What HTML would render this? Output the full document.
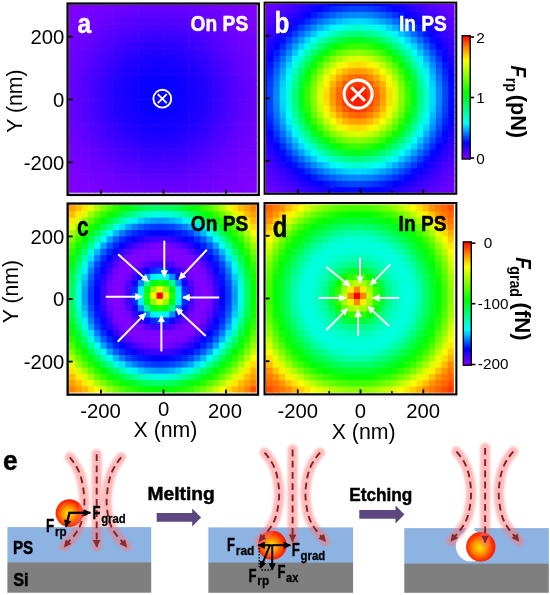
<!DOCTYPE html>
<html><head><meta charset="utf-8"><title>Figure</title><style>html,body{margin:0;padding:0;background:#fff}svg{display:block}</style></head><body>
<svg width="550" height="595" viewBox="0 0 550 595" font-family="'Liberation Sans', sans-serif">
<defs>
<linearGradient id="cb" x1="0" y1="1" x2="0" y2="0"><stop offset="0" stop-color="#8200ff"/><stop offset="0.13" stop-color="#0000ff"/><stop offset="0.29" stop-color="#00ffff"/><stop offset="0.53" stop-color="#00ff00"/><stop offset="0.8" stop-color="#ffff00"/><stop offset="0.9" stop-color="#ff8800"/><stop offset="1.0" stop-color="#ff0000"/></linearGradient>
<radialGradient id="ball" cx="0.47" cy="0.52" r="0.53"><stop offset="0" stop-color="#ffe000"/><stop offset="0.3" stop-color="#ffb400"/><stop offset="0.6" stop-color="#ff6600"/><stop offset="0.85" stop-color="#ff2a00"/><stop offset="1" stop-color="#ff1800"/></radialGradient>
<filter id="blur" x="-30%" y="-30%" width="160%" height="160%"><feGaussianBlur stdDeviation="1.2"/></filter>
<marker id="mw" viewBox="0 0 10 10" refX="9" refY="5" markerWidth="7.5" markerHeight="7.5" markerUnits="userSpaceOnUse" orient="auto"><path d="M0,0 L10,5 L0,10 z" fill="#fff"/></marker>
<marker id="mk" viewBox="0 0 10 10" refX="9" refY="5" markerWidth="7.8" markerHeight="7.4" markerUnits="userSpaceOnUse" orient="auto"><path d="M0,0 L10,5 L0,10 z" fill="#000"/></marker>
<marker id="mr" viewBox="0 0 10 10" refX="9" refY="5" markerWidth="8.5" markerHeight="7.6" markerUnits="userSpaceOnUse" orient="auto"><path d="M0,0 L10,5 L0,10 z" fill="#8a2a2e"/></marker>
</defs>
<rect width="550" height="595" fill="#fff"/>
<clipPath id="cpa"><rect x="69.1" y="5.05" width="187.78" height="187.82"/></clipPath>
<g clip-path="url(#cpa)"><g transform="translate(156.88,92.88) scale(6.25)">
<rect x="-16" y="-16" width="2.1" height="1.1" fill="#8200ff"/>
<rect x="-14" y="-16" width="1.1" height="1.1" fill="#8100ff"/>
<rect x="-13" y="-16" width="1.1" height="1.1" fill="#7f00ff"/>
<rect x="-12" y="-16" width="1.1" height="1.1" fill="#7c00ff"/>
<rect x="-11" y="-16" width="1.1" height="1.1" fill="#7a00ff"/>
<rect x="-10" y="-16" width="1.1" height="1.1" fill="#7800ff"/>
<rect x="-9" y="-16" width="1.1" height="1.1" fill="#7600ff"/>
<rect x="-8" y="-16" width="1.1" height="1.1" fill="#7400ff"/>
<rect x="-7" y="-16" width="1.1" height="1.1" fill="#7100ff"/>
<rect x="-6" y="-16" width="1.1" height="1.1" fill="#6f00ff"/>
<rect x="-5" y="-16" width="1.1" height="1.1" fill="#6e00ff"/>
<rect x="-4" y="-16" width="1.1" height="1.1" fill="#6c00ff"/>
<rect x="-3" y="-16" width="1.1" height="1.1" fill="#6b00ff"/>
<rect x="-2" y="-16" width="1.1" height="1.1" fill="#6a00ff"/>
<rect x="-1" y="-16" width="3.1" height="1.1" fill="#6900ff"/>
<rect x="2" y="-16" width="1.1" height="1.1" fill="#6a00ff"/>
<rect x="3" y="-16" width="1.1" height="1.1" fill="#6b00ff"/>
<rect x="4" y="-16" width="1.1" height="1.1" fill="#6c00ff"/>
<rect x="5" y="-16" width="1.1" height="1.1" fill="#6e00ff"/>
<rect x="6" y="-16" width="1.1" height="1.1" fill="#6f00ff"/>
<rect x="7" y="-16" width="1.1" height="1.1" fill="#7100ff"/>
<rect x="8" y="-16" width="1.1" height="1.1" fill="#7400ff"/>
<rect x="9" y="-16" width="1.1" height="1.1" fill="#7600ff"/>
<rect x="10" y="-16" width="1.1" height="1.1" fill="#7800ff"/>
<rect x="11" y="-16" width="1.1" height="1.1" fill="#7a00ff"/>
<rect x="12" y="-16" width="1.1" height="1.1" fill="#7c00ff"/>
<rect x="13" y="-16" width="1.1" height="1.1" fill="#7f00ff"/>
<rect x="14" y="-16" width="1.1" height="1.1" fill="#8100ff"/>
<rect x="15" y="-16" width="2.1" height="1.1" fill="#8200ff"/>
<rect x="-16" y="-15" width="2.1" height="1.1" fill="#8200ff"/>
<rect x="-14" y="-15" width="1.1" height="1.1" fill="#8100ff"/>
<rect x="-13" y="-15" width="1.1" height="1.1" fill="#7f00ff"/>
<rect x="-12" y="-15" width="1.1" height="1.1" fill="#7c00ff"/>
<rect x="-11" y="-15" width="1.1" height="1.1" fill="#7a00ff"/>
<rect x="-10" y="-15" width="1.1" height="1.1" fill="#7800ff"/>
<rect x="-9" y="-15" width="1.1" height="1.1" fill="#7600ff"/>
<rect x="-8" y="-15" width="1.1" height="1.1" fill="#7400ff"/>
<rect x="-7" y="-15" width="1.1" height="1.1" fill="#7100ff"/>
<rect x="-6" y="-15" width="1.1" height="1.1" fill="#6f00ff"/>
<rect x="-5" y="-15" width="1.1" height="1.1" fill="#6e00ff"/>
<rect x="-4" y="-15" width="1.1" height="1.1" fill="#6c00ff"/>
<rect x="-3" y="-15" width="1.1" height="1.1" fill="#6b00ff"/>
<rect x="-2" y="-15" width="1.1" height="1.1" fill="#6a00ff"/>
<rect x="-1" y="-15" width="3.1" height="1.1" fill="#6900ff"/>
<rect x="2" y="-15" width="1.1" height="1.1" fill="#6a00ff"/>
<rect x="3" y="-15" width="1.1" height="1.1" fill="#6b00ff"/>
<rect x="4" y="-15" width="1.1" height="1.1" fill="#6c00ff"/>
<rect x="5" y="-15" width="1.1" height="1.1" fill="#6e00ff"/>
<rect x="6" y="-15" width="1.1" height="1.1" fill="#6f00ff"/>
<rect x="7" y="-15" width="1.1" height="1.1" fill="#7100ff"/>
<rect x="8" y="-15" width="1.1" height="1.1" fill="#7400ff"/>
<rect x="9" y="-15" width="1.1" height="1.1" fill="#7600ff"/>
<rect x="10" y="-15" width="1.1" height="1.1" fill="#7800ff"/>
<rect x="11" y="-15" width="1.1" height="1.1" fill="#7a00ff"/>
<rect x="12" y="-15" width="1.1" height="1.1" fill="#7c00ff"/>
<rect x="13" y="-15" width="1.1" height="1.1" fill="#7f00ff"/>
<rect x="14" y="-15" width="1.1" height="1.1" fill="#8100ff"/>
<rect x="15" y="-15" width="2.1" height="1.1" fill="#8200ff"/>
<rect x="-16" y="-14" width="2.1" height="1.1" fill="#8100ff"/>
<rect x="-14" y="-14" width="1.1" height="1.1" fill="#7f00ff"/>
<rect x="-13" y="-14" width="1.1" height="1.1" fill="#7c00ff"/>
<rect x="-12" y="-14" width="1.1" height="1.1" fill="#7a00ff"/>
<rect x="-11" y="-14" width="1.1" height="1.1" fill="#7800ff"/>
<rect x="-10" y="-14" width="1.1" height="1.1" fill="#7500ff"/>
<rect x="-9" y="-14" width="1.1" height="1.1" fill="#7200ff"/>
<rect x="-8" y="-14" width="1.1" height="1.1" fill="#6f00ff"/>
<rect x="-7" y="-14" width="1.1" height="1.1" fill="#6d00ff"/>
<rect x="-6" y="-14" width="1.1" height="1.1" fill="#6a00ff"/>
<rect x="-5" y="-14" width="1.1" height="1.1" fill="#6900ff"/>
<rect x="-4" y="-14" width="1.1" height="1.1" fill="#6700ff"/>
<rect x="-3" y="-14" width="1.1" height="1.1" fill="#6500ff"/>
<rect x="-2" y="-14" width="1.1" height="1.1" fill="#6400ff"/>
<rect x="-1" y="-14" width="3.1" height="1.1" fill="#6300ff"/>
<rect x="2" y="-14" width="1.1" height="1.1" fill="#6400ff"/>
<rect x="3" y="-14" width="1.1" height="1.1" fill="#6500ff"/>
<rect x="4" y="-14" width="1.1" height="1.1" fill="#6700ff"/>
<rect x="5" y="-14" width="1.1" height="1.1" fill="#6900ff"/>
<rect x="6" y="-14" width="1.1" height="1.1" fill="#6a00ff"/>
<rect x="7" y="-14" width="1.1" height="1.1" fill="#6d00ff"/>
<rect x="8" y="-14" width="1.1" height="1.1" fill="#6f00ff"/>
<rect x="9" y="-14" width="1.1" height="1.1" fill="#7200ff"/>
<rect x="10" y="-14" width="1.1" height="1.1" fill="#7500ff"/>
<rect x="11" y="-14" width="1.1" height="1.1" fill="#7800ff"/>
<rect x="12" y="-14" width="1.1" height="1.1" fill="#7a00ff"/>
<rect x="13" y="-14" width="1.1" height="1.1" fill="#7c00ff"/>
<rect x="14" y="-14" width="1.1" height="1.1" fill="#7f00ff"/>
<rect x="15" y="-14" width="2.1" height="1.1" fill="#8100ff"/>
<rect x="-16" y="-13" width="2.1" height="1.1" fill="#7f00ff"/>
<rect x="-14" y="-13" width="1.1" height="1.1" fill="#7c00ff"/>
<rect x="-13" y="-13" width="1.1" height="1.1" fill="#7a00ff"/>
<rect x="-12" y="-13" width="1.1" height="1.1" fill="#7700ff"/>
<rect x="-11" y="-13" width="1.1" height="1.1" fill="#7400ff"/>
<rect x="-10" y="-13" width="1.1" height="1.1" fill="#7100ff"/>
<rect x="-9" y="-13" width="1.1" height="1.1" fill="#6e00ff"/>
<rect x="-8" y="-13" width="1.1" height="1.1" fill="#6b00ff"/>
<rect x="-7" y="-13" width="1.1" height="1.1" fill="#6800ff"/>
<rect x="-6" y="-13" width="1.1" height="1.1" fill="#6500ff"/>
<rect x="-5" y="-13" width="1.1" height="1.1" fill="#6200ff"/>
<rect x="-4" y="-13" width="1.1" height="1.1" fill="#5f00ff"/>
<rect x="-3" y="-13" width="1.1" height="1.1" fill="#5d00ff"/>
<rect x="-2" y="-13" width="1.1" height="1.1" fill="#5b00ff"/>
<rect x="-1" y="-13" width="3.1" height="1.1" fill="#5a00ff"/>
<rect x="2" y="-13" width="1.1" height="1.1" fill="#5b00ff"/>
<rect x="3" y="-13" width="1.1" height="1.1" fill="#5d00ff"/>
<rect x="4" y="-13" width="1.1" height="1.1" fill="#5f00ff"/>
<rect x="5" y="-13" width="1.1" height="1.1" fill="#6200ff"/>
<rect x="6" y="-13" width="1.1" height="1.1" fill="#6500ff"/>
<rect x="7" y="-13" width="1.1" height="1.1" fill="#6800ff"/>
<rect x="8" y="-13" width="1.1" height="1.1" fill="#6b00ff"/>
<rect x="9" y="-13" width="1.1" height="1.1" fill="#6e00ff"/>
<rect x="10" y="-13" width="1.1" height="1.1" fill="#7100ff"/>
<rect x="11" y="-13" width="1.1" height="1.1" fill="#7400ff"/>
<rect x="12" y="-13" width="1.1" height="1.1" fill="#7700ff"/>
<rect x="13" y="-13" width="1.1" height="1.1" fill="#7a00ff"/>
<rect x="14" y="-13" width="1.1" height="1.1" fill="#7c00ff"/>
<rect x="15" y="-13" width="2.1" height="1.1" fill="#7f00ff"/>
<rect x="-16" y="-12" width="2.1" height="1.1" fill="#7c00ff"/>
<rect x="-14" y="-12" width="1.1" height="1.1" fill="#7a00ff"/>
<rect x="-13" y="-12" width="1.1" height="1.1" fill="#7700ff"/>
<rect x="-12" y="-12" width="1.1" height="1.1" fill="#7400ff"/>
<rect x="-11" y="-12" width="1.1" height="1.1" fill="#7000ff"/>
<rect x="-10" y="-12" width="1.1" height="1.1" fill="#6d00ff"/>
<rect x="-9" y="-12" width="1.1" height="1.1" fill="#6900ff"/>
<rect x="-8" y="-12" width="1.1" height="1.1" fill="#6600ff"/>
<rect x="-7" y="-12" width="1.1" height="1.1" fill="#6200ff"/>
<rect x="-6" y="-12" width="1.1" height="1.1" fill="#5e00ff"/>
<rect x="-5" y="-12" width="1.1" height="1.1" fill="#5a00ff"/>
<rect x="-4" y="-12" width="1.1" height="1.1" fill="#5700ff"/>
<rect x="-3" y="-12" width="1.1" height="1.1" fill="#5400ff"/>
<rect x="-2" y="-12" width="1.1" height="1.1" fill="#5300ff"/>
<rect x="-1" y="-12" width="1.1" height="1.1" fill="#5200ff"/>
<rect x="0" y="-12" width="1.1" height="1.1" fill="#5100ff"/>
<rect x="1" y="-12" width="1.1" height="1.1" fill="#5200ff"/>
<rect x="2" y="-12" width="1.1" height="1.1" fill="#5300ff"/>
<rect x="3" y="-12" width="1.1" height="1.1" fill="#5400ff"/>
<rect x="4" y="-12" width="1.1" height="1.1" fill="#5700ff"/>
<rect x="5" y="-12" width="1.1" height="1.1" fill="#5a00ff"/>
<rect x="6" y="-12" width="1.1" height="1.1" fill="#5e00ff"/>
<rect x="7" y="-12" width="1.1" height="1.1" fill="#6200ff"/>
<rect x="8" y="-12" width="1.1" height="1.1" fill="#6600ff"/>
<rect x="9" y="-12" width="1.1" height="1.1" fill="#6900ff"/>
<rect x="10" y="-12" width="1.1" height="1.1" fill="#6d00ff"/>
<rect x="11" y="-12" width="1.1" height="1.1" fill="#7000ff"/>
<rect x="12" y="-12" width="1.1" height="1.1" fill="#7400ff"/>
<rect x="13" y="-12" width="1.1" height="1.1" fill="#7700ff"/>
<rect x="14" y="-12" width="1.1" height="1.1" fill="#7a00ff"/>
<rect x="15" y="-12" width="2.1" height="1.1" fill="#7c00ff"/>
<rect x="-16" y="-11" width="2.1" height="1.1" fill="#7a00ff"/>
<rect x="-14" y="-11" width="1.1" height="1.1" fill="#7800ff"/>
<rect x="-13" y="-11" width="1.1" height="1.1" fill="#7400ff"/>
<rect x="-12" y="-11" width="1.1" height="1.1" fill="#7000ff"/>
<rect x="-11" y="-11" width="1.1" height="1.1" fill="#6c00ff"/>
<rect x="-10" y="-11" width="1.1" height="1.1" fill="#6900ff"/>
<rect x="-9" y="-11" width="1.1" height="1.1" fill="#6500ff"/>
<rect x="-8" y="-11" width="1.1" height="1.1" fill="#5f00ff"/>
<rect x="-7" y="-11" width="1.1" height="1.1" fill="#5a00ff"/>
<rect x="-6" y="-11" width="1.1" height="1.1" fill="#5600ff"/>
<rect x="-5" y="-11" width="1.1" height="1.1" fill="#5200ff"/>
<rect x="-4" y="-11" width="1.1" height="1.1" fill="#4f00ff"/>
<rect x="-3" y="-11" width="1.1" height="1.1" fill="#4c00ff"/>
<rect x="-2" y="-11" width="1.1" height="1.1" fill="#4a00ff"/>
<rect x="-1" y="-11" width="1.1" height="1.1" fill="#4900ff"/>
<rect x="0" y="-11" width="1.1" height="1.1" fill="#4800ff"/>
<rect x="1" y="-11" width="1.1" height="1.1" fill="#4900ff"/>
<rect x="2" y="-11" width="1.1" height="1.1" fill="#4a00ff"/>
<rect x="3" y="-11" width="1.1" height="1.1" fill="#4c00ff"/>
<rect x="4" y="-11" width="1.1" height="1.1" fill="#4f00ff"/>
<rect x="5" y="-11" width="1.1" height="1.1" fill="#5200ff"/>
<rect x="6" y="-11" width="1.1" height="1.1" fill="#5600ff"/>
<rect x="7" y="-11" width="1.1" height="1.1" fill="#5a00ff"/>
<rect x="8" y="-11" width="1.1" height="1.1" fill="#5f00ff"/>
<rect x="9" y="-11" width="1.1" height="1.1" fill="#6500ff"/>
<rect x="10" y="-11" width="1.1" height="1.1" fill="#6900ff"/>
<rect x="11" y="-11" width="1.1" height="1.1" fill="#6c00ff"/>
<rect x="12" y="-11" width="1.1" height="1.1" fill="#7000ff"/>
<rect x="13" y="-11" width="1.1" height="1.1" fill="#7400ff"/>
<rect x="14" y="-11" width="1.1" height="1.1" fill="#7800ff"/>
<rect x="15" y="-11" width="2.1" height="1.1" fill="#7a00ff"/>
<rect x="-16" y="-10" width="2.1" height="1.1" fill="#7800ff"/>
<rect x="-14" y="-10" width="1.1" height="1.1" fill="#7500ff"/>
<rect x="-13" y="-10" width="1.1" height="1.1" fill="#7100ff"/>
<rect x="-12" y="-10" width="1.1" height="1.1" fill="#6d00ff"/>
<rect x="-11" y="-10" width="1.1" height="1.1" fill="#6900ff"/>
<rect x="-10" y="-10" width="1.1" height="1.1" fill="#6400ff"/>
<rect x="-9" y="-10" width="1.1" height="1.1" fill="#5e00ff"/>
<rect x="-8" y="-10" width="1.1" height="1.1" fill="#5800ff"/>
<rect x="-7" y="-10" width="1.1" height="1.1" fill="#5300ff"/>
<rect x="-6" y="-10" width="1.1" height="1.1" fill="#4e00ff"/>
<rect x="-5" y="-10" width="1.1" height="1.1" fill="#4a00ff"/>
<rect x="-4" y="-10" width="1.1" height="1.1" fill="#4600ff"/>
<rect x="-3" y="-10" width="1.1" height="1.1" fill="#4200ff"/>
<rect x="-2" y="-10" width="1.1" height="1.1" fill="#4000ff"/>
<rect x="-1" y="-10" width="3.1" height="1.1" fill="#3e00ff"/>
<rect x="2" y="-10" width="1.1" height="1.1" fill="#4000ff"/>
<rect x="3" y="-10" width="1.1" height="1.1" fill="#4200ff"/>
<rect x="4" y="-10" width="1.1" height="1.1" fill="#4600ff"/>
<rect x="5" y="-10" width="1.1" height="1.1" fill="#4a00ff"/>
<rect x="6" y="-10" width="1.1" height="1.1" fill="#4e00ff"/>
<rect x="7" y="-10" width="1.1" height="1.1" fill="#5300ff"/>
<rect x="8" y="-10" width="1.1" height="1.1" fill="#5800ff"/>
<rect x="9" y="-10" width="1.1" height="1.1" fill="#5e00ff"/>
<rect x="10" y="-10" width="1.1" height="1.1" fill="#6400ff"/>
<rect x="11" y="-10" width="1.1" height="1.1" fill="#6900ff"/>
<rect x="12" y="-10" width="1.1" height="1.1" fill="#6d00ff"/>
<rect x="13" y="-10" width="1.1" height="1.1" fill="#7100ff"/>
<rect x="14" y="-10" width="1.1" height="1.1" fill="#7500ff"/>
<rect x="15" y="-10" width="2.1" height="1.1" fill="#7800ff"/>
<rect x="-16" y="-9" width="2.1" height="1.1" fill="#7600ff"/>
<rect x="-14" y="-9" width="1.1" height="1.1" fill="#7200ff"/>
<rect x="-13" y="-9" width="1.1" height="1.1" fill="#6e00ff"/>
<rect x="-12" y="-9" width="1.1" height="1.1" fill="#6900ff"/>
<rect x="-11" y="-9" width="1.1" height="1.1" fill="#6500ff"/>
<rect x="-10" y="-9" width="1.1" height="1.1" fill="#5e00ff"/>
<rect x="-9" y="-9" width="1.1" height="1.1" fill="#5800ff"/>
<rect x="-8" y="-9" width="1.1" height="1.1" fill="#5200ff"/>
<rect x="-7" y="-9" width="1.1" height="1.1" fill="#4c00ff"/>
<rect x="-6" y="-9" width="1.1" height="1.1" fill="#4600ff"/>
<rect x="-5" y="-9" width="1.1" height="1.1" fill="#4100ff"/>
<rect x="-4" y="-9" width="1.1" height="1.1" fill="#3c00ff"/>
<rect x="-3" y="-9" width="1.1" height="1.1" fill="#3800ff"/>
<rect x="-2" y="-9" width="1.1" height="1.1" fill="#3600ff"/>
<rect x="-1" y="-9" width="1.1" height="1.1" fill="#3400ff"/>
<rect x="0" y="-9" width="1.1" height="1.1" fill="#3300ff"/>
<rect x="1" y="-9" width="1.1" height="1.1" fill="#3400ff"/>
<rect x="2" y="-9" width="1.1" height="1.1" fill="#3600ff"/>
<rect x="3" y="-9" width="1.1" height="1.1" fill="#3800ff"/>
<rect x="4" y="-9" width="1.1" height="1.1" fill="#3c00ff"/>
<rect x="5" y="-9" width="1.1" height="1.1" fill="#4100ff"/>
<rect x="6" y="-9" width="1.1" height="1.1" fill="#4600ff"/>
<rect x="7" y="-9" width="1.1" height="1.1" fill="#4c00ff"/>
<rect x="8" y="-9" width="1.1" height="1.1" fill="#5200ff"/>
<rect x="9" y="-9" width="1.1" height="1.1" fill="#5800ff"/>
<rect x="10" y="-9" width="1.1" height="1.1" fill="#5e00ff"/>
<rect x="11" y="-9" width="1.1" height="1.1" fill="#6500ff"/>
<rect x="12" y="-9" width="1.1" height="1.1" fill="#6900ff"/>
<rect x="13" y="-9" width="1.1" height="1.1" fill="#6e00ff"/>
<rect x="14" y="-9" width="1.1" height="1.1" fill="#7200ff"/>
<rect x="15" y="-9" width="2.1" height="1.1" fill="#7600ff"/>
<rect x="-16" y="-8" width="2.1" height="1.1" fill="#7400ff"/>
<rect x="-14" y="-8" width="1.1" height="1.1" fill="#6f00ff"/>
<rect x="-13" y="-8" width="1.1" height="1.1" fill="#6b00ff"/>
<rect x="-12" y="-8" width="1.1" height="1.1" fill="#6600ff"/>
<rect x="-11" y="-8" width="1.1" height="1.1" fill="#5f00ff"/>
<rect x="-10" y="-8" width="1.1" height="1.1" fill="#5800ff"/>
<rect x="-9" y="-8" width="1.1" height="1.1" fill="#5200ff"/>
<rect x="-8" y="-8" width="1.1" height="1.1" fill="#4b00ff"/>
<rect x="-7" y="-8" width="1.1" height="1.1" fill="#4400ff"/>
<rect x="-6" y="-8" width="1.1" height="1.1" fill="#3e00ff"/>
<rect x="-5" y="-8" width="1.1" height="1.1" fill="#3800ff"/>
<rect x="-4" y="-8" width="1.1" height="1.1" fill="#3300ff"/>
<rect x="-3" y="-8" width="1.1" height="1.1" fill="#2f00ff"/>
<rect x="-2" y="-8" width="1.1" height="1.1" fill="#2b00ff"/>
<rect x="-1" y="-8" width="1.1" height="1.1" fill="#2a00ff"/>
<rect x="0" y="-8" width="1.1" height="1.1" fill="#2900ff"/>
<rect x="1" y="-8" width="1.1" height="1.1" fill="#2a00ff"/>
<rect x="2" y="-8" width="1.1" height="1.1" fill="#2b00ff"/>
<rect x="3" y="-8" width="1.1" height="1.1" fill="#2f00ff"/>
<rect x="4" y="-8" width="1.1" height="1.1" fill="#3300ff"/>
<rect x="5" y="-8" width="1.1" height="1.1" fill="#3800ff"/>
<rect x="6" y="-8" width="1.1" height="1.1" fill="#3e00ff"/>
<rect x="7" y="-8" width="1.1" height="1.1" fill="#4400ff"/>
<rect x="8" y="-8" width="1.1" height="1.1" fill="#4b00ff"/>
<rect x="9" y="-8" width="1.1" height="1.1" fill="#5200ff"/>
<rect x="10" y="-8" width="1.1" height="1.1" fill="#5800ff"/>
<rect x="11" y="-8" width="1.1" height="1.1" fill="#5f00ff"/>
<rect x="12" y="-8" width="1.1" height="1.1" fill="#6600ff"/>
<rect x="13" y="-8" width="1.1" height="1.1" fill="#6b00ff"/>
<rect x="14" y="-8" width="1.1" height="1.1" fill="#6f00ff"/>
<rect x="15" y="-8" width="2.1" height="1.1" fill="#7400ff"/>
<rect x="-16" y="-7" width="2.1" height="1.1" fill="#7100ff"/>
<rect x="-14" y="-7" width="1.1" height="1.1" fill="#6d00ff"/>
<rect x="-13" y="-7" width="1.1" height="1.1" fill="#6800ff"/>
<rect x="-12" y="-7" width="1.1" height="1.1" fill="#6200ff"/>
<rect x="-11" y="-7" width="1.1" height="1.1" fill="#5a00ff"/>
<rect x="-10" y="-7" width="1.1" height="1.1" fill="#5300ff"/>
<rect x="-9" y="-7" width="1.1" height="1.1" fill="#4c00ff"/>
<rect x="-8" y="-7" width="1.1" height="1.1" fill="#4400ff"/>
<rect x="-7" y="-7" width="1.1" height="1.1" fill="#3d00ff"/>
<rect x="-6" y="-7" width="1.1" height="1.1" fill="#3600ff"/>
<rect x="-5" y="-7" width="1.1" height="1.1" fill="#2f00ff"/>
<rect x="-4" y="-7" width="1.1" height="1.1" fill="#2a00ff"/>
<rect x="-3" y="-7" width="1.1" height="1.1" fill="#2500ff"/>
<rect x="-2" y="-7" width="1.1" height="1.1" fill="#2100ff"/>
<rect x="-1" y="-7" width="1.1" height="1.1" fill="#2000ff"/>
<rect x="0" y="-7" width="1.1" height="1.1" fill="#1f00ff"/>
<rect x="1" y="-7" width="1.1" height="1.1" fill="#2000ff"/>
<rect x="2" y="-7" width="1.1" height="1.1" fill="#2100ff"/>
<rect x="3" y="-7" width="1.1" height="1.1" fill="#2500ff"/>
<rect x="4" y="-7" width="1.1" height="1.1" fill="#2a00ff"/>
<rect x="5" y="-7" width="1.1" height="1.1" fill="#2f00ff"/>
<rect x="6" y="-7" width="1.1" height="1.1" fill="#3600ff"/>
<rect x="7" y="-7" width="1.1" height="1.1" fill="#3d00ff"/>
<rect x="8" y="-7" width="1.1" height="1.1" fill="#4400ff"/>
<rect x="9" y="-7" width="1.1" height="1.1" fill="#4c00ff"/>
<rect x="10" y="-7" width="1.1" height="1.1" fill="#5300ff"/>
<rect x="11" y="-7" width="1.1" height="1.1" fill="#5a00ff"/>
<rect x="12" y="-7" width="1.1" height="1.1" fill="#6200ff"/>
<rect x="13" y="-7" width="1.1" height="1.1" fill="#6800ff"/>
<rect x="14" y="-7" width="1.1" height="1.1" fill="#6d00ff"/>
<rect x="15" y="-7" width="2.1" height="1.1" fill="#7100ff"/>
<rect x="-16" y="-6" width="2.1" height="1.1" fill="#6f00ff"/>
<rect x="-14" y="-6" width="1.1" height="1.1" fill="#6a00ff"/>
<rect x="-13" y="-6" width="1.1" height="1.1" fill="#6500ff"/>
<rect x="-12" y="-6" width="1.1" height="1.1" fill="#5e00ff"/>
<rect x="-11" y="-6" width="1.1" height="1.1" fill="#5600ff"/>
<rect x="-10" y="-6" width="1.1" height="1.1" fill="#4e00ff"/>
<rect x="-9" y="-6" width="1.1" height="1.1" fill="#4600ff"/>
<rect x="-8" y="-6" width="1.1" height="1.1" fill="#3e00ff"/>
<rect x="-7" y="-6" width="1.1" height="1.1" fill="#3600ff"/>
<rect x="-6" y="-6" width="1.1" height="1.1" fill="#2e00ff"/>
<rect x="-5" y="-6" width="1.1" height="1.1" fill="#2700ff"/>
<rect x="-4" y="-6" width="1.1" height="1.1" fill="#2100ff"/>
<rect x="-3" y="-6" width="1.1" height="1.1" fill="#1e00ff"/>
<rect x="-2" y="-6" width="1.1" height="1.1" fill="#1b00ff"/>
<rect x="-1" y="-6" width="3.1" height="1.1" fill="#1a00ff"/>
<rect x="2" y="-6" width="1.1" height="1.1" fill="#1b00ff"/>
<rect x="3" y="-6" width="1.1" height="1.1" fill="#1e00ff"/>
<rect x="4" y="-6" width="1.1" height="1.1" fill="#2100ff"/>
<rect x="5" y="-6" width="1.1" height="1.1" fill="#2700ff"/>
<rect x="6" y="-6" width="1.1" height="1.1" fill="#2e00ff"/>
<rect x="7" y="-6" width="1.1" height="1.1" fill="#3600ff"/>
<rect x="8" y="-6" width="1.1" height="1.1" fill="#3e00ff"/>
<rect x="9" y="-6" width="1.1" height="1.1" fill="#4600ff"/>
<rect x="10" y="-6" width="1.1" height="1.1" fill="#4e00ff"/>
<rect x="11" y="-6" width="1.1" height="1.1" fill="#5600ff"/>
<rect x="12" y="-6" width="1.1" height="1.1" fill="#5e00ff"/>
<rect x="13" y="-6" width="1.1" height="1.1" fill="#6500ff"/>
<rect x="14" y="-6" width="1.1" height="1.1" fill="#6a00ff"/>
<rect x="15" y="-6" width="2.1" height="1.1" fill="#6f00ff"/>
<rect x="-16" y="-5" width="2.1" height="1.1" fill="#6e00ff"/>
<rect x="-14" y="-5" width="1.1" height="1.1" fill="#6900ff"/>
<rect x="-13" y="-5" width="1.1" height="1.1" fill="#6200ff"/>
<rect x="-12" y="-5" width="1.1" height="1.1" fill="#5a00ff"/>
<rect x="-11" y="-5" width="1.1" height="1.1" fill="#5200ff"/>
<rect x="-10" y="-5" width="1.1" height="1.1" fill="#4a00ff"/>
<rect x="-9" y="-5" width="1.1" height="1.1" fill="#4100ff"/>
<rect x="-8" y="-5" width="1.1" height="1.1" fill="#3800ff"/>
<rect x="-7" y="-5" width="1.1" height="1.1" fill="#2f00ff"/>
<rect x="-6" y="-5" width="1.1" height="1.1" fill="#2700ff"/>
<rect x="-5" y="-5" width="1.1" height="1.1" fill="#2000ff"/>
<rect x="-4" y="-5" width="1.1" height="1.1" fill="#1c00ff"/>
<rect x="-3" y="-5" width="1.1" height="1.1" fill="#1900ff"/>
<rect x="-2" y="-5" width="1.1" height="1.1" fill="#1600ff"/>
<rect x="-1" y="-5" width="3.1" height="1.1" fill="#1400ff"/>
<rect x="2" y="-5" width="1.1" height="1.1" fill="#1600ff"/>
<rect x="3" y="-5" width="1.1" height="1.1" fill="#1900ff"/>
<rect x="4" y="-5" width="1.1" height="1.1" fill="#1c00ff"/>
<rect x="5" y="-5" width="1.1" height="1.1" fill="#2000ff"/>
<rect x="6" y="-5" width="1.1" height="1.1" fill="#2700ff"/>
<rect x="7" y="-5" width="1.1" height="1.1" fill="#2f00ff"/>
<rect x="8" y="-5" width="1.1" height="1.1" fill="#3800ff"/>
<rect x="9" y="-5" width="1.1" height="1.1" fill="#4100ff"/>
<rect x="10" y="-5" width="1.1" height="1.1" fill="#4a00ff"/>
<rect x="11" y="-5" width="1.1" height="1.1" fill="#5200ff"/>
<rect x="12" y="-5" width="1.1" height="1.1" fill="#5a00ff"/>
<rect x="13" y="-5" width="1.1" height="1.1" fill="#6200ff"/>
<rect x="14" y="-5" width="1.1" height="1.1" fill="#6900ff"/>
<rect x="15" y="-5" width="2.1" height="1.1" fill="#6e00ff"/>
<rect x="-16" y="-4" width="2.1" height="1.1" fill="#6c00ff"/>
<rect x="-14" y="-4" width="1.1" height="1.1" fill="#6700ff"/>
<rect x="-13" y="-4" width="1.1" height="1.1" fill="#5f00ff"/>
<rect x="-12" y="-4" width="1.1" height="1.1" fill="#5700ff"/>
<rect x="-11" y="-4" width="1.1" height="1.1" fill="#4f00ff"/>
<rect x="-10" y="-4" width="1.1" height="1.1" fill="#4600ff"/>
<rect x="-9" y="-4" width="1.1" height="1.1" fill="#3c00ff"/>
<rect x="-8" y="-4" width="1.1" height="1.1" fill="#3300ff"/>
<rect x="-7" y="-4" width="1.1" height="1.1" fill="#2a00ff"/>
<rect x="-6" y="-4" width="1.1" height="1.1" fill="#2100ff"/>
<rect x="-5" y="-4" width="1.1" height="1.1" fill="#1c00ff"/>
<rect x="-4" y="-4" width="1.1" height="1.1" fill="#1800ff"/>
<rect x="-3" y="-4" width="1.1" height="1.1" fill="#1400ff"/>
<rect x="-2" y="-4" width="1.1" height="1.1" fill="#1100ff"/>
<rect x="-1" y="-4" width="1.1" height="1.1" fill="#0f00ff"/>
<rect x="0" y="-4" width="1.1" height="1.1" fill="#0e00ff"/>
<rect x="1" y="-4" width="1.1" height="1.1" fill="#0f00ff"/>
<rect x="2" y="-4" width="1.1" height="1.1" fill="#1100ff"/>
<rect x="3" y="-4" width="1.1" height="1.1" fill="#1400ff"/>
<rect x="4" y="-4" width="1.1" height="1.1" fill="#1800ff"/>
<rect x="5" y="-4" width="1.1" height="1.1" fill="#1c00ff"/>
<rect x="6" y="-4" width="1.1" height="1.1" fill="#2100ff"/>
<rect x="7" y="-4" width="1.1" height="1.1" fill="#2a00ff"/>
<rect x="8" y="-4" width="1.1" height="1.1" fill="#3300ff"/>
<rect x="9" y="-4" width="1.1" height="1.1" fill="#3c00ff"/>
<rect x="10" y="-4" width="1.1" height="1.1" fill="#4600ff"/>
<rect x="11" y="-4" width="1.1" height="1.1" fill="#4f00ff"/>
<rect x="12" y="-4" width="1.1" height="1.1" fill="#5700ff"/>
<rect x="13" y="-4" width="1.1" height="1.1" fill="#5f00ff"/>
<rect x="14" y="-4" width="1.1" height="1.1" fill="#6700ff"/>
<rect x="15" y="-4" width="2.1" height="1.1" fill="#6c00ff"/>
<rect x="-16" y="-3" width="2.1" height="1.1" fill="#6b00ff"/>
<rect x="-14" y="-3" width="1.1" height="1.1" fill="#6500ff"/>
<rect x="-13" y="-3" width="1.1" height="1.1" fill="#5d00ff"/>
<rect x="-12" y="-3" width="1.1" height="1.1" fill="#5400ff"/>
<rect x="-11" y="-3" width="1.1" height="1.1" fill="#4c00ff"/>
<rect x="-10" y="-3" width="1.1" height="1.1" fill="#4200ff"/>
<rect x="-9" y="-3" width="1.1" height="1.1" fill="#3800ff"/>
<rect x="-8" y="-3" width="1.1" height="1.1" fill="#2f00ff"/>
<rect x="-7" y="-3" width="1.1" height="1.1" fill="#2500ff"/>
<rect x="-6" y="-3" width="1.1" height="1.1" fill="#1e00ff"/>
<rect x="-5" y="-3" width="1.1" height="1.1" fill="#1900ff"/>
<rect x="-4" y="-3" width="1.1" height="1.1" fill="#1400ff"/>
<rect x="-3" y="-3" width="1.1" height="1.1" fill="#0f00ff"/>
<rect x="-2" y="-3" width="1.1" height="1.1" fill="#0c00ff"/>
<rect x="-1" y="-3" width="3.1" height="1.1" fill="#0900ff"/>
<rect x="2" y="-3" width="1.1" height="1.1" fill="#0c00ff"/>
<rect x="3" y="-3" width="1.1" height="1.1" fill="#0f00ff"/>
<rect x="4" y="-3" width="1.1" height="1.1" fill="#1400ff"/>
<rect x="5" y="-3" width="1.1" height="1.1" fill="#1900ff"/>
<rect x="6" y="-3" width="1.1" height="1.1" fill="#1e00ff"/>
<rect x="7" y="-3" width="1.1" height="1.1" fill="#2500ff"/>
<rect x="8" y="-3" width="1.1" height="1.1" fill="#2f00ff"/>
<rect x="9" y="-3" width="1.1" height="1.1" fill="#3800ff"/>
<rect x="10" y="-3" width="1.1" height="1.1" fill="#4200ff"/>
<rect x="11" y="-3" width="1.1" height="1.1" fill="#4c00ff"/>
<rect x="12" y="-3" width="1.1" height="1.1" fill="#5400ff"/>
<rect x="13" y="-3" width="1.1" height="1.1" fill="#5d00ff"/>
<rect x="14" y="-3" width="1.1" height="1.1" fill="#6500ff"/>
<rect x="15" y="-3" width="2.1" height="1.1" fill="#6b00ff"/>
<rect x="-16" y="-2" width="2.1" height="1.1" fill="#6a00ff"/>
<rect x="-14" y="-2" width="1.1" height="1.1" fill="#6400ff"/>
<rect x="-13" y="-2" width="1.1" height="1.1" fill="#5b00ff"/>
<rect x="-12" y="-2" width="1.1" height="1.1" fill="#5300ff"/>
<rect x="-11" y="-2" width="1.1" height="1.1" fill="#4a00ff"/>
<rect x="-10" y="-2" width="1.1" height="1.1" fill="#4000ff"/>
<rect x="-9" y="-2" width="1.1" height="1.1" fill="#3600ff"/>
<rect x="-8" y="-2" width="1.1" height="1.1" fill="#2b00ff"/>
<rect x="-7" y="-2" width="1.1" height="1.1" fill="#2100ff"/>
<rect x="-6" y="-2" width="1.1" height="1.1" fill="#1b00ff"/>
<rect x="-5" y="-2" width="1.1" height="1.1" fill="#1600ff"/>
<rect x="-4" y="-2" width="1.1" height="1.1" fill="#1100ff"/>
<rect x="-3" y="-2" width="1.1" height="1.1" fill="#0c00ff"/>
<rect x="-2" y="-2" width="1.1" height="1.1" fill="#0900ff"/>
<rect x="-1" y="-2" width="3.1" height="1.1" fill="#0800ff"/>
<rect x="2" y="-2" width="1.1" height="1.1" fill="#0900ff"/>
<rect x="3" y="-2" width="1.1" height="1.1" fill="#0c00ff"/>
<rect x="4" y="-2" width="1.1" height="1.1" fill="#1100ff"/>
<rect x="5" y="-2" width="1.1" height="1.1" fill="#1600ff"/>
<rect x="6" y="-2" width="1.1" height="1.1" fill="#1b00ff"/>
<rect x="7" y="-2" width="1.1" height="1.1" fill="#2100ff"/>
<rect x="8" y="-2" width="1.1" height="1.1" fill="#2b00ff"/>
<rect x="9" y="-2" width="1.1" height="1.1" fill="#3600ff"/>
<rect x="10" y="-2" width="1.1" height="1.1" fill="#4000ff"/>
<rect x="11" y="-2" width="1.1" height="1.1" fill="#4a00ff"/>
<rect x="12" y="-2" width="1.1" height="1.1" fill="#5300ff"/>
<rect x="13" y="-2" width="1.1" height="1.1" fill="#5b00ff"/>
<rect x="14" y="-2" width="1.1" height="1.1" fill="#6400ff"/>
<rect x="15" y="-2" width="2.1" height="1.1" fill="#6a00ff"/>
<rect x="-16" y="-1" width="2.1" height="1.1" fill="#6900ff"/>
<rect x="-14" y="-1" width="1.1" height="1.1" fill="#6300ff"/>
<rect x="-13" y="-1" width="1.1" height="1.1" fill="#5a00ff"/>
<rect x="-12" y="-1" width="1.1" height="1.1" fill="#5200ff"/>
<rect x="-11" y="-1" width="1.1" height="1.1" fill="#4900ff"/>
<rect x="-10" y="-1" width="1.1" height="1.1" fill="#3e00ff"/>
<rect x="-9" y="-1" width="1.1" height="1.1" fill="#3400ff"/>
<rect x="-8" y="-1" width="1.1" height="1.1" fill="#2a00ff"/>
<rect x="-7" y="-1" width="1.1" height="1.1" fill="#2000ff"/>
<rect x="-6" y="-1" width="1.1" height="1.1" fill="#1a00ff"/>
<rect x="-5" y="-1" width="1.1" height="1.1" fill="#1400ff"/>
<rect x="-4" y="-1" width="1.1" height="1.1" fill="#0f00ff"/>
<rect x="-3" y="-1" width="1.1" height="1.1" fill="#0900ff"/>
<rect x="-2" y="-1" width="1.1" height="1.1" fill="#0800ff"/>
<rect x="-1" y="-1" width="1.1" height="1.1" fill="#0700ff"/>
<rect x="0" y="-1" width="1.1" height="1.1" fill="#0600ff"/>
<rect x="1" y="-1" width="1.1" height="1.1" fill="#0700ff"/>
<rect x="2" y="-1" width="1.1" height="1.1" fill="#0800ff"/>
<rect x="3" y="-1" width="1.1" height="1.1" fill="#0900ff"/>
<rect x="4" y="-1" width="1.1" height="1.1" fill="#0f00ff"/>
<rect x="5" y="-1" width="1.1" height="1.1" fill="#1400ff"/>
<rect x="6" y="-1" width="1.1" height="1.1" fill="#1a00ff"/>
<rect x="7" y="-1" width="1.1" height="1.1" fill="#2000ff"/>
<rect x="8" y="-1" width="1.1" height="1.1" fill="#2a00ff"/>
<rect x="9" y="-1" width="1.1" height="1.1" fill="#3400ff"/>
<rect x="10" y="-1" width="1.1" height="1.1" fill="#3e00ff"/>
<rect x="11" y="-1" width="1.1" height="1.1" fill="#4900ff"/>
<rect x="12" y="-1" width="1.1" height="1.1" fill="#5200ff"/>
<rect x="13" y="-1" width="1.1" height="1.1" fill="#5a00ff"/>
<rect x="14" y="-1" width="1.1" height="1.1" fill="#6300ff"/>
<rect x="15" y="-1" width="2.1" height="1.1" fill="#6900ff"/>
<rect x="-16" y="0" width="2.1" height="1.1" fill="#6900ff"/>
<rect x="-14" y="0" width="1.1" height="1.1" fill="#6300ff"/>
<rect x="-13" y="0" width="1.1" height="1.1" fill="#5a00ff"/>
<rect x="-12" y="0" width="1.1" height="1.1" fill="#5100ff"/>
<rect x="-11" y="0" width="1.1" height="1.1" fill="#4800ff"/>
<rect x="-10" y="0" width="1.1" height="1.1" fill="#3e00ff"/>
<rect x="-9" y="0" width="1.1" height="1.1" fill="#3300ff"/>
<rect x="-8" y="0" width="1.1" height="1.1" fill="#2900ff"/>
<rect x="-7" y="0" width="1.1" height="1.1" fill="#1f00ff"/>
<rect x="-6" y="0" width="1.1" height="1.1" fill="#1a00ff"/>
<rect x="-5" y="0" width="1.1" height="1.1" fill="#1400ff"/>
<rect x="-4" y="0" width="1.1" height="1.1" fill="#0e00ff"/>
<rect x="-3" y="0" width="1.1" height="1.1" fill="#0900ff"/>
<rect x="-2" y="0" width="1.1" height="1.1" fill="#0800ff"/>
<rect x="-1" y="0" width="1.1" height="1.1" fill="#0600ff"/>
<rect x="0" y="0" width="1.1" height="1.1" fill="#0500ff"/>
<rect x="1" y="0" width="1.1" height="1.1" fill="#0600ff"/>
<rect x="2" y="0" width="1.1" height="1.1" fill="#0800ff"/>
<rect x="3" y="0" width="1.1" height="1.1" fill="#0900ff"/>
<rect x="4" y="0" width="1.1" height="1.1" fill="#0e00ff"/>
<rect x="5" y="0" width="1.1" height="1.1" fill="#1400ff"/>
<rect x="6" y="0" width="1.1" height="1.1" fill="#1a00ff"/>
<rect x="7" y="0" width="1.1" height="1.1" fill="#1f00ff"/>
<rect x="8" y="0" width="1.1" height="1.1" fill="#2900ff"/>
<rect x="9" y="0" width="1.1" height="1.1" fill="#3300ff"/>
<rect x="10" y="0" width="1.1" height="1.1" fill="#3e00ff"/>
<rect x="11" y="0" width="1.1" height="1.1" fill="#4800ff"/>
<rect x="12" y="0" width="1.1" height="1.1" fill="#5100ff"/>
<rect x="13" y="0" width="1.1" height="1.1" fill="#5a00ff"/>
<rect x="14" y="0" width="1.1" height="1.1" fill="#6300ff"/>
<rect x="15" y="0" width="2.1" height="1.1" fill="#6900ff"/>
<rect x="-16" y="1" width="2.1" height="1.1" fill="#6900ff"/>
<rect x="-14" y="1" width="1.1" height="1.1" fill="#6300ff"/>
<rect x="-13" y="1" width="1.1" height="1.1" fill="#5a00ff"/>
<rect x="-12" y="1" width="1.1" height="1.1" fill="#5200ff"/>
<rect x="-11" y="1" width="1.1" height="1.1" fill="#4900ff"/>
<rect x="-10" y="1" width="1.1" height="1.1" fill="#3e00ff"/>
<rect x="-9" y="1" width="1.1" height="1.1" fill="#3400ff"/>
<rect x="-8" y="1" width="1.1" height="1.1" fill="#2a00ff"/>
<rect x="-7" y="1" width="1.1" height="1.1" fill="#2000ff"/>
<rect x="-6" y="1" width="1.1" height="1.1" fill="#1a00ff"/>
<rect x="-5" y="1" width="1.1" height="1.1" fill="#1400ff"/>
<rect x="-4" y="1" width="1.1" height="1.1" fill="#0f00ff"/>
<rect x="-3" y="1" width="1.1" height="1.1" fill="#0900ff"/>
<rect x="-2" y="1" width="1.1" height="1.1" fill="#0800ff"/>
<rect x="-1" y="1" width="1.1" height="1.1" fill="#0700ff"/>
<rect x="0" y="1" width="1.1" height="1.1" fill="#0600ff"/>
<rect x="1" y="1" width="1.1" height="1.1" fill="#0700ff"/>
<rect x="2" y="1" width="1.1" height="1.1" fill="#0800ff"/>
<rect x="3" y="1" width="1.1" height="1.1" fill="#0900ff"/>
<rect x="4" y="1" width="1.1" height="1.1" fill="#0f00ff"/>
<rect x="5" y="1" width="1.1" height="1.1" fill="#1400ff"/>
<rect x="6" y="1" width="1.1" height="1.1" fill="#1a00ff"/>
<rect x="7" y="1" width="1.1" height="1.1" fill="#2000ff"/>
<rect x="8" y="1" width="1.1" height="1.1" fill="#2a00ff"/>
<rect x="9" y="1" width="1.1" height="1.1" fill="#3400ff"/>
<rect x="10" y="1" width="1.1" height="1.1" fill="#3e00ff"/>
<rect x="11" y="1" width="1.1" height="1.1" fill="#4900ff"/>
<rect x="12" y="1" width="1.1" height="1.1" fill="#5200ff"/>
<rect x="13" y="1" width="1.1" height="1.1" fill="#5a00ff"/>
<rect x="14" y="1" width="1.1" height="1.1" fill="#6300ff"/>
<rect x="15" y="1" width="2.1" height="1.1" fill="#6900ff"/>
<rect x="-16" y="2" width="2.1" height="1.1" fill="#6a00ff"/>
<rect x="-14" y="2" width="1.1" height="1.1" fill="#6400ff"/>
<rect x="-13" y="2" width="1.1" height="1.1" fill="#5b00ff"/>
<rect x="-12" y="2" width="1.1" height="1.1" fill="#5300ff"/>
<rect x="-11" y="2" width="1.1" height="1.1" fill="#4a00ff"/>
<rect x="-10" y="2" width="1.1" height="1.1" fill="#4000ff"/>
<rect x="-9" y="2" width="1.1" height="1.1" fill="#3600ff"/>
<rect x="-8" y="2" width="1.1" height="1.1" fill="#2b00ff"/>
<rect x="-7" y="2" width="1.1" height="1.1" fill="#2100ff"/>
<rect x="-6" y="2" width="1.1" height="1.1" fill="#1b00ff"/>
<rect x="-5" y="2" width="1.1" height="1.1" fill="#1600ff"/>
<rect x="-4" y="2" width="1.1" height="1.1" fill="#1100ff"/>
<rect x="-3" y="2" width="1.1" height="1.1" fill="#0c00ff"/>
<rect x="-2" y="2" width="1.1" height="1.1" fill="#0900ff"/>
<rect x="-1" y="2" width="3.1" height="1.1" fill="#0800ff"/>
<rect x="2" y="2" width="1.1" height="1.1" fill="#0900ff"/>
<rect x="3" y="2" width="1.1" height="1.1" fill="#0c00ff"/>
<rect x="4" y="2" width="1.1" height="1.1" fill="#1100ff"/>
<rect x="5" y="2" width="1.1" height="1.1" fill="#1600ff"/>
<rect x="6" y="2" width="1.1" height="1.1" fill="#1b00ff"/>
<rect x="7" y="2" width="1.1" height="1.1" fill="#2100ff"/>
<rect x="8" y="2" width="1.1" height="1.1" fill="#2b00ff"/>
<rect x="9" y="2" width="1.1" height="1.1" fill="#3600ff"/>
<rect x="10" y="2" width="1.1" height="1.1" fill="#4000ff"/>
<rect x="11" y="2" width="1.1" height="1.1" fill="#4a00ff"/>
<rect x="12" y="2" width="1.1" height="1.1" fill="#5300ff"/>
<rect x="13" y="2" width="1.1" height="1.1" fill="#5b00ff"/>
<rect x="14" y="2" width="1.1" height="1.1" fill="#6400ff"/>
<rect x="15" y="2" width="2.1" height="1.1" fill="#6a00ff"/>
<rect x="-16" y="3" width="2.1" height="1.1" fill="#6b00ff"/>
<rect x="-14" y="3" width="1.1" height="1.1" fill="#6500ff"/>
<rect x="-13" y="3" width="1.1" height="1.1" fill="#5d00ff"/>
<rect x="-12" y="3" width="1.1" height="1.1" fill="#5400ff"/>
<rect x="-11" y="3" width="1.1" height="1.1" fill="#4c00ff"/>
<rect x="-10" y="3" width="1.1" height="1.1" fill="#4200ff"/>
<rect x="-9" y="3" width="1.1" height="1.1" fill="#3800ff"/>
<rect x="-8" y="3" width="1.1" height="1.1" fill="#2f00ff"/>
<rect x="-7" y="3" width="1.1" height="1.1" fill="#2500ff"/>
<rect x="-6" y="3" width="1.1" height="1.1" fill="#1e00ff"/>
<rect x="-5" y="3" width="1.1" height="1.1" fill="#1900ff"/>
<rect x="-4" y="3" width="1.1" height="1.1" fill="#1400ff"/>
<rect x="-3" y="3" width="1.1" height="1.1" fill="#0f00ff"/>
<rect x="-2" y="3" width="1.1" height="1.1" fill="#0c00ff"/>
<rect x="-1" y="3" width="3.1" height="1.1" fill="#0900ff"/>
<rect x="2" y="3" width="1.1" height="1.1" fill="#0c00ff"/>
<rect x="3" y="3" width="1.1" height="1.1" fill="#0f00ff"/>
<rect x="4" y="3" width="1.1" height="1.1" fill="#1400ff"/>
<rect x="5" y="3" width="1.1" height="1.1" fill="#1900ff"/>
<rect x="6" y="3" width="1.1" height="1.1" fill="#1e00ff"/>
<rect x="7" y="3" width="1.1" height="1.1" fill="#2500ff"/>
<rect x="8" y="3" width="1.1" height="1.1" fill="#2f00ff"/>
<rect x="9" y="3" width="1.1" height="1.1" fill="#3800ff"/>
<rect x="10" y="3" width="1.1" height="1.1" fill="#4200ff"/>
<rect x="11" y="3" width="1.1" height="1.1" fill="#4c00ff"/>
<rect x="12" y="3" width="1.1" height="1.1" fill="#5400ff"/>
<rect x="13" y="3" width="1.1" height="1.1" fill="#5d00ff"/>
<rect x="14" y="3" width="1.1" height="1.1" fill="#6500ff"/>
<rect x="15" y="3" width="2.1" height="1.1" fill="#6b00ff"/>
<rect x="-16" y="4" width="2.1" height="1.1" fill="#6c00ff"/>
<rect x="-14" y="4" width="1.1" height="1.1" fill="#6700ff"/>
<rect x="-13" y="4" width="1.1" height="1.1" fill="#5f00ff"/>
<rect x="-12" y="4" width="1.1" height="1.1" fill="#5700ff"/>
<rect x="-11" y="4" width="1.1" height="1.1" fill="#4f00ff"/>
<rect x="-10" y="4" width="1.1" height="1.1" fill="#4600ff"/>
<rect x="-9" y="4" width="1.1" height="1.1" fill="#3c00ff"/>
<rect x="-8" y="4" width="1.1" height="1.1" fill="#3300ff"/>
<rect x="-7" y="4" width="1.1" height="1.1" fill="#2a00ff"/>
<rect x="-6" y="4" width="1.1" height="1.1" fill="#2100ff"/>
<rect x="-5" y="4" width="1.1" height="1.1" fill="#1c00ff"/>
<rect x="-4" y="4" width="1.1" height="1.1" fill="#1800ff"/>
<rect x="-3" y="4" width="1.1" height="1.1" fill="#1400ff"/>
<rect x="-2" y="4" width="1.1" height="1.1" fill="#1100ff"/>
<rect x="-1" y="4" width="1.1" height="1.1" fill="#0f00ff"/>
<rect x="0" y="4" width="1.1" height="1.1" fill="#0e00ff"/>
<rect x="1" y="4" width="1.1" height="1.1" fill="#0f00ff"/>
<rect x="2" y="4" width="1.1" height="1.1" fill="#1100ff"/>
<rect x="3" y="4" width="1.1" height="1.1" fill="#1400ff"/>
<rect x="4" y="4" width="1.1" height="1.1" fill="#1800ff"/>
<rect x="5" y="4" width="1.1" height="1.1" fill="#1c00ff"/>
<rect x="6" y="4" width="1.1" height="1.1" fill="#2100ff"/>
<rect x="7" y="4" width="1.1" height="1.1" fill="#2a00ff"/>
<rect x="8" y="4" width="1.1" height="1.1" fill="#3300ff"/>
<rect x="9" y="4" width="1.1" height="1.1" fill="#3c00ff"/>
<rect x="10" y="4" width="1.1" height="1.1" fill="#4600ff"/>
<rect x="11" y="4" width="1.1" height="1.1" fill="#4f00ff"/>
<rect x="12" y="4" width="1.1" height="1.1" fill="#5700ff"/>
<rect x="13" y="4" width="1.1" height="1.1" fill="#5f00ff"/>
<rect x="14" y="4" width="1.1" height="1.1" fill="#6700ff"/>
<rect x="15" y="4" width="2.1" height="1.1" fill="#6c00ff"/>
<rect x="-16" y="5" width="2.1" height="1.1" fill="#6e00ff"/>
<rect x="-14" y="5" width="1.1" height="1.1" fill="#6900ff"/>
<rect x="-13" y="5" width="1.1" height="1.1" fill="#6200ff"/>
<rect x="-12" y="5" width="1.1" height="1.1" fill="#5a00ff"/>
<rect x="-11" y="5" width="1.1" height="1.1" fill="#5200ff"/>
<rect x="-10" y="5" width="1.1" height="1.1" fill="#4a00ff"/>
<rect x="-9" y="5" width="1.1" height="1.1" fill="#4100ff"/>
<rect x="-8" y="5" width="1.1" height="1.1" fill="#3800ff"/>
<rect x="-7" y="5" width="1.1" height="1.1" fill="#2f00ff"/>
<rect x="-6" y="5" width="1.1" height="1.1" fill="#2700ff"/>
<rect x="-5" y="5" width="1.1" height="1.1" fill="#2000ff"/>
<rect x="-4" y="5" width="1.1" height="1.1" fill="#1c00ff"/>
<rect x="-3" y="5" width="1.1" height="1.1" fill="#1900ff"/>
<rect x="-2" y="5" width="1.1" height="1.1" fill="#1600ff"/>
<rect x="-1" y="5" width="3.1" height="1.1" fill="#1400ff"/>
<rect x="2" y="5" width="1.1" height="1.1" fill="#1600ff"/>
<rect x="3" y="5" width="1.1" height="1.1" fill="#1900ff"/>
<rect x="4" y="5" width="1.1" height="1.1" fill="#1c00ff"/>
<rect x="5" y="5" width="1.1" height="1.1" fill="#2000ff"/>
<rect x="6" y="5" width="1.1" height="1.1" fill="#2700ff"/>
<rect x="7" y="5" width="1.1" height="1.1" fill="#2f00ff"/>
<rect x="8" y="5" width="1.1" height="1.1" fill="#3800ff"/>
<rect x="9" y="5" width="1.1" height="1.1" fill="#4100ff"/>
<rect x="10" y="5" width="1.1" height="1.1" fill="#4a00ff"/>
<rect x="11" y="5" width="1.1" height="1.1" fill="#5200ff"/>
<rect x="12" y="5" width="1.1" height="1.1" fill="#5a00ff"/>
<rect x="13" y="5" width="1.1" height="1.1" fill="#6200ff"/>
<rect x="14" y="5" width="1.1" height="1.1" fill="#6900ff"/>
<rect x="15" y="5" width="2.1" height="1.1" fill="#6e00ff"/>
<rect x="-16" y="6" width="2.1" height="1.1" fill="#6f00ff"/>
<rect x="-14" y="6" width="1.1" height="1.1" fill="#6a00ff"/>
<rect x="-13" y="6" width="1.1" height="1.1" fill="#6500ff"/>
<rect x="-12" y="6" width="1.1" height="1.1" fill="#5e00ff"/>
<rect x="-11" y="6" width="1.1" height="1.1" fill="#5600ff"/>
<rect x="-10" y="6" width="1.1" height="1.1" fill="#4e00ff"/>
<rect x="-9" y="6" width="1.1" height="1.1" fill="#4600ff"/>
<rect x="-8" y="6" width="1.1" height="1.1" fill="#3e00ff"/>
<rect x="-7" y="6" width="1.1" height="1.1" fill="#3600ff"/>
<rect x="-6" y="6" width="1.1" height="1.1" fill="#2e00ff"/>
<rect x="-5" y="6" width="1.1" height="1.1" fill="#2700ff"/>
<rect x="-4" y="6" width="1.1" height="1.1" fill="#2100ff"/>
<rect x="-3" y="6" width="1.1" height="1.1" fill="#1e00ff"/>
<rect x="-2" y="6" width="1.1" height="1.1" fill="#1b00ff"/>
<rect x="-1" y="6" width="3.1" height="1.1" fill="#1a00ff"/>
<rect x="2" y="6" width="1.1" height="1.1" fill="#1b00ff"/>
<rect x="3" y="6" width="1.1" height="1.1" fill="#1e00ff"/>
<rect x="4" y="6" width="1.1" height="1.1" fill="#2100ff"/>
<rect x="5" y="6" width="1.1" height="1.1" fill="#2700ff"/>
<rect x="6" y="6" width="1.1" height="1.1" fill="#2e00ff"/>
<rect x="7" y="6" width="1.1" height="1.1" fill="#3600ff"/>
<rect x="8" y="6" width="1.1" height="1.1" fill="#3e00ff"/>
<rect x="9" y="6" width="1.1" height="1.1" fill="#4600ff"/>
<rect x="10" y="6" width="1.1" height="1.1" fill="#4e00ff"/>
<rect x="11" y="6" width="1.1" height="1.1" fill="#5600ff"/>
<rect x="12" y="6" width="1.1" height="1.1" fill="#5e00ff"/>
<rect x="13" y="6" width="1.1" height="1.1" fill="#6500ff"/>
<rect x="14" y="6" width="1.1" height="1.1" fill="#6a00ff"/>
<rect x="15" y="6" width="2.1" height="1.1" fill="#6f00ff"/>
<rect x="-16" y="7" width="2.1" height="1.1" fill="#7100ff"/>
<rect x="-14" y="7" width="1.1" height="1.1" fill="#6d00ff"/>
<rect x="-13" y="7" width="1.1" height="1.1" fill="#6800ff"/>
<rect x="-12" y="7" width="1.1" height="1.1" fill="#6200ff"/>
<rect x="-11" y="7" width="1.1" height="1.1" fill="#5a00ff"/>
<rect x="-10" y="7" width="1.1" height="1.1" fill="#5300ff"/>
<rect x="-9" y="7" width="1.1" height="1.1" fill="#4c00ff"/>
<rect x="-8" y="7" width="1.1" height="1.1" fill="#4400ff"/>
<rect x="-7" y="7" width="1.1" height="1.1" fill="#3d00ff"/>
<rect x="-6" y="7" width="1.1" height="1.1" fill="#3600ff"/>
<rect x="-5" y="7" width="1.1" height="1.1" fill="#2f00ff"/>
<rect x="-4" y="7" width="1.1" height="1.1" fill="#2a00ff"/>
<rect x="-3" y="7" width="1.1" height="1.1" fill="#2500ff"/>
<rect x="-2" y="7" width="1.1" height="1.1" fill="#2100ff"/>
<rect x="-1" y="7" width="1.1" height="1.1" fill="#2000ff"/>
<rect x="0" y="7" width="1.1" height="1.1" fill="#1f00ff"/>
<rect x="1" y="7" width="1.1" height="1.1" fill="#2000ff"/>
<rect x="2" y="7" width="1.1" height="1.1" fill="#2100ff"/>
<rect x="3" y="7" width="1.1" height="1.1" fill="#2500ff"/>
<rect x="4" y="7" width="1.1" height="1.1" fill="#2a00ff"/>
<rect x="5" y="7" width="1.1" height="1.1" fill="#2f00ff"/>
<rect x="6" y="7" width="1.1" height="1.1" fill="#3600ff"/>
<rect x="7" y="7" width="1.1" height="1.1" fill="#3d00ff"/>
<rect x="8" y="7" width="1.1" height="1.1" fill="#4400ff"/>
<rect x="9" y="7" width="1.1" height="1.1" fill="#4c00ff"/>
<rect x="10" y="7" width="1.1" height="1.1" fill="#5300ff"/>
<rect x="11" y="7" width="1.1" height="1.1" fill="#5a00ff"/>
<rect x="12" y="7" width="1.1" height="1.1" fill="#6200ff"/>
<rect x="13" y="7" width="1.1" height="1.1" fill="#6800ff"/>
<rect x="14" y="7" width="1.1" height="1.1" fill="#6d00ff"/>
<rect x="15" y="7" width="2.1" height="1.1" fill="#7100ff"/>
<rect x="-16" y="8" width="2.1" height="1.1" fill="#7400ff"/>
<rect x="-14" y="8" width="1.1" height="1.1" fill="#6f00ff"/>
<rect x="-13" y="8" width="1.1" height="1.1" fill="#6b00ff"/>
<rect x="-12" y="8" width="1.1" height="1.1" fill="#6600ff"/>
<rect x="-11" y="8" width="1.1" height="1.1" fill="#5f00ff"/>
<rect x="-10" y="8" width="1.1" height="1.1" fill="#5800ff"/>
<rect x="-9" y="8" width="1.1" height="1.1" fill="#5200ff"/>
<rect x="-8" y="8" width="1.1" height="1.1" fill="#4b00ff"/>
<rect x="-7" y="8" width="1.1" height="1.1" fill="#4400ff"/>
<rect x="-6" y="8" width="1.1" height="1.1" fill="#3e00ff"/>
<rect x="-5" y="8" width="1.1" height="1.1" fill="#3800ff"/>
<rect x="-4" y="8" width="1.1" height="1.1" fill="#3300ff"/>
<rect x="-3" y="8" width="1.1" height="1.1" fill="#2f00ff"/>
<rect x="-2" y="8" width="1.1" height="1.1" fill="#2b00ff"/>
<rect x="-1" y="8" width="1.1" height="1.1" fill="#2a00ff"/>
<rect x="0" y="8" width="1.1" height="1.1" fill="#2900ff"/>
<rect x="1" y="8" width="1.1" height="1.1" fill="#2a00ff"/>
<rect x="2" y="8" width="1.1" height="1.1" fill="#2b00ff"/>
<rect x="3" y="8" width="1.1" height="1.1" fill="#2f00ff"/>
<rect x="4" y="8" width="1.1" height="1.1" fill="#3300ff"/>
<rect x="5" y="8" width="1.1" height="1.1" fill="#3800ff"/>
<rect x="6" y="8" width="1.1" height="1.1" fill="#3e00ff"/>
<rect x="7" y="8" width="1.1" height="1.1" fill="#4400ff"/>
<rect x="8" y="8" width="1.1" height="1.1" fill="#4b00ff"/>
<rect x="9" y="8" width="1.1" height="1.1" fill="#5200ff"/>
<rect x="10" y="8" width="1.1" height="1.1" fill="#5800ff"/>
<rect x="11" y="8" width="1.1" height="1.1" fill="#5f00ff"/>
<rect x="12" y="8" width="1.1" height="1.1" fill="#6600ff"/>
<rect x="13" y="8" width="1.1" height="1.1" fill="#6b00ff"/>
<rect x="14" y="8" width="1.1" height="1.1" fill="#6f00ff"/>
<rect x="15" y="8" width="2.1" height="1.1" fill="#7400ff"/>
<rect x="-16" y="9" width="2.1" height="1.1" fill="#7600ff"/>
<rect x="-14" y="9" width="1.1" height="1.1" fill="#7200ff"/>
<rect x="-13" y="9" width="1.1" height="1.1" fill="#6e00ff"/>
<rect x="-12" y="9" width="1.1" height="1.1" fill="#6900ff"/>
<rect x="-11" y="9" width="1.1" height="1.1" fill="#6500ff"/>
<rect x="-10" y="9" width="1.1" height="1.1" fill="#5e00ff"/>
<rect x="-9" y="9" width="1.1" height="1.1" fill="#5800ff"/>
<rect x="-8" y="9" width="1.1" height="1.1" fill="#5200ff"/>
<rect x="-7" y="9" width="1.1" height="1.1" fill="#4c00ff"/>
<rect x="-6" y="9" width="1.1" height="1.1" fill="#4600ff"/>
<rect x="-5" y="9" width="1.1" height="1.1" fill="#4100ff"/>
<rect x="-4" y="9" width="1.1" height="1.1" fill="#3c00ff"/>
<rect x="-3" y="9" width="1.1" height="1.1" fill="#3800ff"/>
<rect x="-2" y="9" width="1.1" height="1.1" fill="#3600ff"/>
<rect x="-1" y="9" width="1.1" height="1.1" fill="#3400ff"/>
<rect x="0" y="9" width="1.1" height="1.1" fill="#3300ff"/>
<rect x="1" y="9" width="1.1" height="1.1" fill="#3400ff"/>
<rect x="2" y="9" width="1.1" height="1.1" fill="#3600ff"/>
<rect x="3" y="9" width="1.1" height="1.1" fill="#3800ff"/>
<rect x="4" y="9" width="1.1" height="1.1" fill="#3c00ff"/>
<rect x="5" y="9" width="1.1" height="1.1" fill="#4100ff"/>
<rect x="6" y="9" width="1.1" height="1.1" fill="#4600ff"/>
<rect x="7" y="9" width="1.1" height="1.1" fill="#4c00ff"/>
<rect x="8" y="9" width="1.1" height="1.1" fill="#5200ff"/>
<rect x="9" y="9" width="1.1" height="1.1" fill="#5800ff"/>
<rect x="10" y="9" width="1.1" height="1.1" fill="#5e00ff"/>
<rect x="11" y="9" width="1.1" height="1.1" fill="#6500ff"/>
<rect x="12" y="9" width="1.1" height="1.1" fill="#6900ff"/>
<rect x="13" y="9" width="1.1" height="1.1" fill="#6e00ff"/>
<rect x="14" y="9" width="1.1" height="1.1" fill="#7200ff"/>
<rect x="15" y="9" width="2.1" height="1.1" fill="#7600ff"/>
<rect x="-16" y="10" width="2.1" height="1.1" fill="#7800ff"/>
<rect x="-14" y="10" width="1.1" height="1.1" fill="#7500ff"/>
<rect x="-13" y="10" width="1.1" height="1.1" fill="#7100ff"/>
<rect x="-12" y="10" width="1.1" height="1.1" fill="#6d00ff"/>
<rect x="-11" y="10" width="1.1" height="1.1" fill="#6900ff"/>
<rect x="-10" y="10" width="1.1" height="1.1" fill="#6400ff"/>
<rect x="-9" y="10" width="1.1" height="1.1" fill="#5e00ff"/>
<rect x="-8" y="10" width="1.1" height="1.1" fill="#5800ff"/>
<rect x="-7" y="10" width="1.1" height="1.1" fill="#5300ff"/>
<rect x="-6" y="10" width="1.1" height="1.1" fill="#4e00ff"/>
<rect x="-5" y="10" width="1.1" height="1.1" fill="#4a00ff"/>
<rect x="-4" y="10" width="1.1" height="1.1" fill="#4600ff"/>
<rect x="-3" y="10" width="1.1" height="1.1" fill="#4200ff"/>
<rect x="-2" y="10" width="1.1" height="1.1" fill="#4000ff"/>
<rect x="-1" y="10" width="3.1" height="1.1" fill="#3e00ff"/>
<rect x="2" y="10" width="1.1" height="1.1" fill="#4000ff"/>
<rect x="3" y="10" width="1.1" height="1.1" fill="#4200ff"/>
<rect x="4" y="10" width="1.1" height="1.1" fill="#4600ff"/>
<rect x="5" y="10" width="1.1" height="1.1" fill="#4a00ff"/>
<rect x="6" y="10" width="1.1" height="1.1" fill="#4e00ff"/>
<rect x="7" y="10" width="1.1" height="1.1" fill="#5300ff"/>
<rect x="8" y="10" width="1.1" height="1.1" fill="#5800ff"/>
<rect x="9" y="10" width="1.1" height="1.1" fill="#5e00ff"/>
<rect x="10" y="10" width="1.1" height="1.1" fill="#6400ff"/>
<rect x="11" y="10" width="1.1" height="1.1" fill="#6900ff"/>
<rect x="12" y="10" width="1.1" height="1.1" fill="#6d00ff"/>
<rect x="13" y="10" width="1.1" height="1.1" fill="#7100ff"/>
<rect x="14" y="10" width="1.1" height="1.1" fill="#7500ff"/>
<rect x="15" y="10" width="2.1" height="1.1" fill="#7800ff"/>
<rect x="-16" y="11" width="2.1" height="1.1" fill="#7a00ff"/>
<rect x="-14" y="11" width="1.1" height="1.1" fill="#7800ff"/>
<rect x="-13" y="11" width="1.1" height="1.1" fill="#7400ff"/>
<rect x="-12" y="11" width="1.1" height="1.1" fill="#7000ff"/>
<rect x="-11" y="11" width="1.1" height="1.1" fill="#6c00ff"/>
<rect x="-10" y="11" width="1.1" height="1.1" fill="#6900ff"/>
<rect x="-9" y="11" width="1.1" height="1.1" fill="#6500ff"/>
<rect x="-8" y="11" width="1.1" height="1.1" fill="#5f00ff"/>
<rect x="-7" y="11" width="1.1" height="1.1" fill="#5a00ff"/>
<rect x="-6" y="11" width="1.1" height="1.1" fill="#5600ff"/>
<rect x="-5" y="11" width="1.1" height="1.1" fill="#5200ff"/>
<rect x="-4" y="11" width="1.1" height="1.1" fill="#4f00ff"/>
<rect x="-3" y="11" width="1.1" height="1.1" fill="#4c00ff"/>
<rect x="-2" y="11" width="1.1" height="1.1" fill="#4a00ff"/>
<rect x="-1" y="11" width="1.1" height="1.1" fill="#4900ff"/>
<rect x="0" y="11" width="1.1" height="1.1" fill="#4800ff"/>
<rect x="1" y="11" width="1.1" height="1.1" fill="#4900ff"/>
<rect x="2" y="11" width="1.1" height="1.1" fill="#4a00ff"/>
<rect x="3" y="11" width="1.1" height="1.1" fill="#4c00ff"/>
<rect x="4" y="11" width="1.1" height="1.1" fill="#4f00ff"/>
<rect x="5" y="11" width="1.1" height="1.1" fill="#5200ff"/>
<rect x="6" y="11" width="1.1" height="1.1" fill="#5600ff"/>
<rect x="7" y="11" width="1.1" height="1.1" fill="#5a00ff"/>
<rect x="8" y="11" width="1.1" height="1.1" fill="#5f00ff"/>
<rect x="9" y="11" width="1.1" height="1.1" fill="#6500ff"/>
<rect x="10" y="11" width="1.1" height="1.1" fill="#6900ff"/>
<rect x="11" y="11" width="1.1" height="1.1" fill="#6c00ff"/>
<rect x="12" y="11" width="1.1" height="1.1" fill="#7000ff"/>
<rect x="13" y="11" width="1.1" height="1.1" fill="#7400ff"/>
<rect x="14" y="11" width="1.1" height="1.1" fill="#7800ff"/>
<rect x="15" y="11" width="2.1" height="1.1" fill="#7a00ff"/>
<rect x="-16" y="12" width="2.1" height="1.1" fill="#7c00ff"/>
<rect x="-14" y="12" width="1.1" height="1.1" fill="#7a00ff"/>
<rect x="-13" y="12" width="1.1" height="1.1" fill="#7700ff"/>
<rect x="-12" y="12" width="1.1" height="1.1" fill="#7400ff"/>
<rect x="-11" y="12" width="1.1" height="1.1" fill="#7000ff"/>
<rect x="-10" y="12" width="1.1" height="1.1" fill="#6d00ff"/>
<rect x="-9" y="12" width="1.1" height="1.1" fill="#6900ff"/>
<rect x="-8" y="12" width="1.1" height="1.1" fill="#6600ff"/>
<rect x="-7" y="12" width="1.1" height="1.1" fill="#6200ff"/>
<rect x="-6" y="12" width="1.1" height="1.1" fill="#5e00ff"/>
<rect x="-5" y="12" width="1.1" height="1.1" fill="#5a00ff"/>
<rect x="-4" y="12" width="1.1" height="1.1" fill="#5700ff"/>
<rect x="-3" y="12" width="1.1" height="1.1" fill="#5400ff"/>
<rect x="-2" y="12" width="1.1" height="1.1" fill="#5300ff"/>
<rect x="-1" y="12" width="1.1" height="1.1" fill="#5200ff"/>
<rect x="0" y="12" width="1.1" height="1.1" fill="#5100ff"/>
<rect x="1" y="12" width="1.1" height="1.1" fill="#5200ff"/>
<rect x="2" y="12" width="1.1" height="1.1" fill="#5300ff"/>
<rect x="3" y="12" width="1.1" height="1.1" fill="#5400ff"/>
<rect x="4" y="12" width="1.1" height="1.1" fill="#5700ff"/>
<rect x="5" y="12" width="1.1" height="1.1" fill="#5a00ff"/>
<rect x="6" y="12" width="1.1" height="1.1" fill="#5e00ff"/>
<rect x="7" y="12" width="1.1" height="1.1" fill="#6200ff"/>
<rect x="8" y="12" width="1.1" height="1.1" fill="#6600ff"/>
<rect x="9" y="12" width="1.1" height="1.1" fill="#6900ff"/>
<rect x="10" y="12" width="1.1" height="1.1" fill="#6d00ff"/>
<rect x="11" y="12" width="1.1" height="1.1" fill="#7000ff"/>
<rect x="12" y="12" width="1.1" height="1.1" fill="#7400ff"/>
<rect x="13" y="12" width="1.1" height="1.1" fill="#7700ff"/>
<rect x="14" y="12" width="1.1" height="1.1" fill="#7a00ff"/>
<rect x="15" y="12" width="2.1" height="1.1" fill="#7c00ff"/>
<rect x="-16" y="13" width="2.1" height="1.1" fill="#7f00ff"/>
<rect x="-14" y="13" width="1.1" height="1.1" fill="#7c00ff"/>
<rect x="-13" y="13" width="1.1" height="1.1" fill="#7a00ff"/>
<rect x="-12" y="13" width="1.1" height="1.1" fill="#7700ff"/>
<rect x="-11" y="13" width="1.1" height="1.1" fill="#7400ff"/>
<rect x="-10" y="13" width="1.1" height="1.1" fill="#7100ff"/>
<rect x="-9" y="13" width="1.1" height="1.1" fill="#6e00ff"/>
<rect x="-8" y="13" width="1.1" height="1.1" fill="#6b00ff"/>
<rect x="-7" y="13" width="1.1" height="1.1" fill="#6800ff"/>
<rect x="-6" y="13" width="1.1" height="1.1" fill="#6500ff"/>
<rect x="-5" y="13" width="1.1" height="1.1" fill="#6200ff"/>
<rect x="-4" y="13" width="1.1" height="1.1" fill="#5f00ff"/>
<rect x="-3" y="13" width="1.1" height="1.1" fill="#5d00ff"/>
<rect x="-2" y="13" width="1.1" height="1.1" fill="#5b00ff"/>
<rect x="-1" y="13" width="3.1" height="1.1" fill="#5a00ff"/>
<rect x="2" y="13" width="1.1" height="1.1" fill="#5b00ff"/>
<rect x="3" y="13" width="1.1" height="1.1" fill="#5d00ff"/>
<rect x="4" y="13" width="1.1" height="1.1" fill="#5f00ff"/>
<rect x="5" y="13" width="1.1" height="1.1" fill="#6200ff"/>
<rect x="6" y="13" width="1.1" height="1.1" fill="#6500ff"/>
<rect x="7" y="13" width="1.1" height="1.1" fill="#6800ff"/>
<rect x="8" y="13" width="1.1" height="1.1" fill="#6b00ff"/>
<rect x="9" y="13" width="1.1" height="1.1" fill="#6e00ff"/>
<rect x="10" y="13" width="1.1" height="1.1" fill="#7100ff"/>
<rect x="11" y="13" width="1.1" height="1.1" fill="#7400ff"/>
<rect x="12" y="13" width="1.1" height="1.1" fill="#7700ff"/>
<rect x="13" y="13" width="1.1" height="1.1" fill="#7a00ff"/>
<rect x="14" y="13" width="1.1" height="1.1" fill="#7c00ff"/>
<rect x="15" y="13" width="2.1" height="1.1" fill="#7f00ff"/>
<rect x="-16" y="14" width="2.1" height="1.1" fill="#8100ff"/>
<rect x="-14" y="14" width="1.1" height="1.1" fill="#7f00ff"/>
<rect x="-13" y="14" width="1.1" height="1.1" fill="#7c00ff"/>
<rect x="-12" y="14" width="1.1" height="1.1" fill="#7a00ff"/>
<rect x="-11" y="14" width="1.1" height="1.1" fill="#7800ff"/>
<rect x="-10" y="14" width="1.1" height="1.1" fill="#7500ff"/>
<rect x="-9" y="14" width="1.1" height="1.1" fill="#7200ff"/>
<rect x="-8" y="14" width="1.1" height="1.1" fill="#6f00ff"/>
<rect x="-7" y="14" width="1.1" height="1.1" fill="#6d00ff"/>
<rect x="-6" y="14" width="1.1" height="1.1" fill="#6a00ff"/>
<rect x="-5" y="14" width="1.1" height="1.1" fill="#6900ff"/>
<rect x="-4" y="14" width="1.1" height="1.1" fill="#6700ff"/>
<rect x="-3" y="14" width="1.1" height="1.1" fill="#6500ff"/>
<rect x="-2" y="14" width="1.1" height="1.1" fill="#6400ff"/>
<rect x="-1" y="14" width="3.1" height="1.1" fill="#6300ff"/>
<rect x="2" y="14" width="1.1" height="1.1" fill="#6400ff"/>
<rect x="3" y="14" width="1.1" height="1.1" fill="#6500ff"/>
<rect x="4" y="14" width="1.1" height="1.1" fill="#6700ff"/>
<rect x="5" y="14" width="1.1" height="1.1" fill="#6900ff"/>
<rect x="6" y="14" width="1.1" height="1.1" fill="#6a00ff"/>
<rect x="7" y="14" width="1.1" height="1.1" fill="#6d00ff"/>
<rect x="8" y="14" width="1.1" height="1.1" fill="#6f00ff"/>
<rect x="9" y="14" width="1.1" height="1.1" fill="#7200ff"/>
<rect x="10" y="14" width="1.1" height="1.1" fill="#7500ff"/>
<rect x="11" y="14" width="1.1" height="1.1" fill="#7800ff"/>
<rect x="12" y="14" width="1.1" height="1.1" fill="#7a00ff"/>
<rect x="13" y="14" width="1.1" height="1.1" fill="#7c00ff"/>
<rect x="14" y="14" width="1.1" height="1.1" fill="#7f00ff"/>
<rect x="15" y="14" width="2.1" height="1.1" fill="#8100ff"/>
<rect x="-16" y="15" width="2.1" height="1.1" fill="#8200ff"/>
<rect x="-14" y="15" width="1.1" height="1.1" fill="#8100ff"/>
<rect x="-13" y="15" width="1.1" height="1.1" fill="#7f00ff"/>
<rect x="-12" y="15" width="1.1" height="1.1" fill="#7c00ff"/>
<rect x="-11" y="15" width="1.1" height="1.1" fill="#7a00ff"/>
<rect x="-10" y="15" width="1.1" height="1.1" fill="#7800ff"/>
<rect x="-9" y="15" width="1.1" height="1.1" fill="#7600ff"/>
<rect x="-8" y="15" width="1.1" height="1.1" fill="#7400ff"/>
<rect x="-7" y="15" width="1.1" height="1.1" fill="#7100ff"/>
<rect x="-6" y="15" width="1.1" height="1.1" fill="#6f00ff"/>
<rect x="-5" y="15" width="1.1" height="1.1" fill="#6e00ff"/>
<rect x="-4" y="15" width="1.1" height="1.1" fill="#6c00ff"/>
<rect x="-3" y="15" width="1.1" height="1.1" fill="#6b00ff"/>
<rect x="-2" y="15" width="1.1" height="1.1" fill="#6a00ff"/>
<rect x="-1" y="15" width="3.1" height="1.1" fill="#6900ff"/>
<rect x="2" y="15" width="1.1" height="1.1" fill="#6a00ff"/>
<rect x="3" y="15" width="1.1" height="1.1" fill="#6b00ff"/>
<rect x="4" y="15" width="1.1" height="1.1" fill="#6c00ff"/>
<rect x="5" y="15" width="1.1" height="1.1" fill="#6e00ff"/>
<rect x="6" y="15" width="1.1" height="1.1" fill="#6f00ff"/>
<rect x="7" y="15" width="1.1" height="1.1" fill="#7100ff"/>
<rect x="8" y="15" width="1.1" height="1.1" fill="#7400ff"/>
<rect x="9" y="15" width="1.1" height="1.1" fill="#7600ff"/>
<rect x="10" y="15" width="1.1" height="1.1" fill="#7800ff"/>
<rect x="11" y="15" width="1.1" height="1.1" fill="#7a00ff"/>
<rect x="12" y="15" width="1.1" height="1.1" fill="#7c00ff"/>
<rect x="13" y="15" width="1.1" height="1.1" fill="#7f00ff"/>
<rect x="14" y="15" width="1.1" height="1.1" fill="#8100ff"/>
<rect x="15" y="15" width="2.1" height="1.1" fill="#8200ff"/>
<rect x="-16" y="16" width="2.1" height="1.1" fill="#8200ff"/>
<rect x="-14" y="16" width="1.1" height="1.1" fill="#8100ff"/>
<rect x="-13" y="16" width="1.1" height="1.1" fill="#7f00ff"/>
<rect x="-12" y="16" width="1.1" height="1.1" fill="#7c00ff"/>
<rect x="-11" y="16" width="1.1" height="1.1" fill="#7a00ff"/>
<rect x="-10" y="16" width="1.1" height="1.1" fill="#7800ff"/>
<rect x="-9" y="16" width="1.1" height="1.1" fill="#7600ff"/>
<rect x="-8" y="16" width="1.1" height="1.1" fill="#7400ff"/>
<rect x="-7" y="16" width="1.1" height="1.1" fill="#7100ff"/>
<rect x="-6" y="16" width="1.1" height="1.1" fill="#6f00ff"/>
<rect x="-5" y="16" width="1.1" height="1.1" fill="#6e00ff"/>
<rect x="-4" y="16" width="1.1" height="1.1" fill="#6c00ff"/>
<rect x="-3" y="16" width="1.1" height="1.1" fill="#6b00ff"/>
<rect x="-2" y="16" width="1.1" height="1.1" fill="#6a00ff"/>
<rect x="-1" y="16" width="3.1" height="1.1" fill="#6900ff"/>
<rect x="2" y="16" width="1.1" height="1.1" fill="#6a00ff"/>
<rect x="3" y="16" width="1.1" height="1.1" fill="#6b00ff"/>
<rect x="4" y="16" width="1.1" height="1.1" fill="#6c00ff"/>
<rect x="5" y="16" width="1.1" height="1.1" fill="#6e00ff"/>
<rect x="6" y="16" width="1.1" height="1.1" fill="#6f00ff"/>
<rect x="7" y="16" width="1.1" height="1.1" fill="#7100ff"/>
<rect x="8" y="16" width="1.1" height="1.1" fill="#7400ff"/>
<rect x="9" y="16" width="1.1" height="1.1" fill="#7600ff"/>
<rect x="10" y="16" width="1.1" height="1.1" fill="#7800ff"/>
<rect x="11" y="16" width="1.1" height="1.1" fill="#7a00ff"/>
<rect x="12" y="16" width="1.1" height="1.1" fill="#7c00ff"/>
<rect x="13" y="16" width="1.1" height="1.1" fill="#7f00ff"/>
<rect x="14" y="16" width="1.1" height="1.1" fill="#8100ff"/>
<rect x="15" y="16" width="2.1" height="1.1" fill="#8200ff"/>
</g></g>
<clipPath id="cpb"><rect x="266.0" y="4.0" width="188.57" height="188.70"/></clipPath>
<g clip-path="url(#cpb)"><g transform="translate(354.57,93.38) scale(6.25)">
<rect x="-16" y="-16" width="2.1" height="1.1" fill="#6d00ff"/>
<rect x="-14" y="-16" width="1.1" height="1.1" fill="#6700ff"/>
<rect x="-13" y="-16" width="1.1" height="1.1" fill="#6100ff"/>
<rect x="-12" y="-16" width="1.1" height="1.1" fill="#5900ff"/>
<rect x="-11" y="-16" width="1.1" height="1.1" fill="#5000ff"/>
<rect x="-10" y="-16" width="1.1" height="1.1" fill="#4600ff"/>
<rect x="-9" y="-16" width="1.1" height="1.1" fill="#3c00ff"/>
<rect x="-8" y="-16" width="1.1" height="1.1" fill="#3100ff"/>
<rect x="-7" y="-16" width="1.1" height="1.1" fill="#2700ff"/>
<rect x="-6" y="-16" width="1.1" height="1.1" fill="#1c00ff"/>
<rect x="-5" y="-16" width="1.1" height="1.1" fill="#1200ff"/>
<rect x="-4" y="-16" width="1.1" height="1.1" fill="#0900ff"/>
<rect x="-3" y="-16" width="1.1" height="1.1" fill="#0200ff"/>
<rect x="-2" y="-16" width="1.1" height="1.1" fill="#0005ff"/>
<rect x="-1" y="-16" width="1.1" height="1.1" fill="#000aff"/>
<rect x="0" y="-16" width="1.1" height="1.1" fill="#000cff"/>
<rect x="1" y="-16" width="1.1" height="1.1" fill="#000aff"/>
<rect x="2" y="-16" width="1.1" height="1.1" fill="#0005ff"/>
<rect x="3" y="-16" width="1.1" height="1.1" fill="#0200ff"/>
<rect x="4" y="-16" width="1.1" height="1.1" fill="#0900ff"/>
<rect x="5" y="-16" width="1.1" height="1.1" fill="#1200ff"/>
<rect x="6" y="-16" width="1.1" height="1.1" fill="#1c00ff"/>
<rect x="7" y="-16" width="1.1" height="1.1" fill="#2700ff"/>
<rect x="8" y="-16" width="1.1" height="1.1" fill="#3100ff"/>
<rect x="9" y="-16" width="1.1" height="1.1" fill="#3c00ff"/>
<rect x="10" y="-16" width="1.1" height="1.1" fill="#4600ff"/>
<rect x="11" y="-16" width="1.1" height="1.1" fill="#5000ff"/>
<rect x="12" y="-16" width="1.1" height="1.1" fill="#5900ff"/>
<rect x="13" y="-16" width="1.1" height="1.1" fill="#6100ff"/>
<rect x="14" y="-16" width="1.1" height="1.1" fill="#6700ff"/>
<rect x="15" y="-16" width="2.1" height="1.1" fill="#6d00ff"/>
<rect x="-16" y="-15" width="2.1" height="1.1" fill="#6d00ff"/>
<rect x="-14" y="-15" width="1.1" height="1.1" fill="#6700ff"/>
<rect x="-13" y="-15" width="1.1" height="1.1" fill="#6100ff"/>
<rect x="-12" y="-15" width="1.1" height="1.1" fill="#5900ff"/>
<rect x="-11" y="-15" width="1.1" height="1.1" fill="#5000ff"/>
<rect x="-10" y="-15" width="1.1" height="1.1" fill="#4600ff"/>
<rect x="-9" y="-15" width="1.1" height="1.1" fill="#3c00ff"/>
<rect x="-8" y="-15" width="1.1" height="1.1" fill="#3100ff"/>
<rect x="-7" y="-15" width="1.1" height="1.1" fill="#2700ff"/>
<rect x="-6" y="-15" width="1.1" height="1.1" fill="#1c00ff"/>
<rect x="-5" y="-15" width="1.1" height="1.1" fill="#1200ff"/>
<rect x="-4" y="-15" width="1.1" height="1.1" fill="#0900ff"/>
<rect x="-3" y="-15" width="1.1" height="1.1" fill="#0200ff"/>
<rect x="-2" y="-15" width="1.1" height="1.1" fill="#0005ff"/>
<rect x="-1" y="-15" width="1.1" height="1.1" fill="#000aff"/>
<rect x="0" y="-15" width="1.1" height="1.1" fill="#000cff"/>
<rect x="1" y="-15" width="1.1" height="1.1" fill="#000aff"/>
<rect x="2" y="-15" width="1.1" height="1.1" fill="#0005ff"/>
<rect x="3" y="-15" width="1.1" height="1.1" fill="#0200ff"/>
<rect x="4" y="-15" width="1.1" height="1.1" fill="#0900ff"/>
<rect x="5" y="-15" width="1.1" height="1.1" fill="#1200ff"/>
<rect x="6" y="-15" width="1.1" height="1.1" fill="#1c00ff"/>
<rect x="7" y="-15" width="1.1" height="1.1" fill="#2700ff"/>
<rect x="8" y="-15" width="1.1" height="1.1" fill="#3100ff"/>
<rect x="9" y="-15" width="1.1" height="1.1" fill="#3c00ff"/>
<rect x="10" y="-15" width="1.1" height="1.1" fill="#4600ff"/>
<rect x="11" y="-15" width="1.1" height="1.1" fill="#5000ff"/>
<rect x="12" y="-15" width="1.1" height="1.1" fill="#5900ff"/>
<rect x="13" y="-15" width="1.1" height="1.1" fill="#6100ff"/>
<rect x="14" y="-15" width="1.1" height="1.1" fill="#6700ff"/>
<rect x="15" y="-15" width="2.1" height="1.1" fill="#6d00ff"/>
<rect x="-16" y="-14" width="2.1" height="1.1" fill="#6700ff"/>
<rect x="-14" y="-14" width="1.1" height="1.1" fill="#6000ff"/>
<rect x="-13" y="-14" width="1.1" height="1.1" fill="#5700ff"/>
<rect x="-12" y="-14" width="1.1" height="1.1" fill="#4e00ff"/>
<rect x="-11" y="-14" width="1.1" height="1.1" fill="#4200ff"/>
<rect x="-10" y="-14" width="1.1" height="1.1" fill="#3600ff"/>
<rect x="-9" y="-14" width="1.1" height="1.1" fill="#2900ff"/>
<rect x="-8" y="-14" width="1.1" height="1.1" fill="#1b00ff"/>
<rect x="-7" y="-14" width="1.1" height="1.1" fill="#0d00ff"/>
<rect x="-6" y="-14" width="1.1" height="1.1" fill="#0000ff"/>
<rect x="-5" y="-14" width="1.1" height="1.1" fill="#0013ff"/>
<rect x="-4" y="-14" width="1.1" height="1.1" fill="#0024ff"/>
<rect x="-3" y="-14" width="1.1" height="1.1" fill="#0033ff"/>
<rect x="-2" y="-14" width="1.1" height="1.1" fill="#003dff"/>
<rect x="-1" y="-14" width="1.1" height="1.1" fill="#0044ff"/>
<rect x="0" y="-14" width="1.1" height="1.1" fill="#0046ff"/>
<rect x="1" y="-14" width="1.1" height="1.1" fill="#0044ff"/>
<rect x="2" y="-14" width="1.1" height="1.1" fill="#003dff"/>
<rect x="3" y="-14" width="1.1" height="1.1" fill="#0033ff"/>
<rect x="4" y="-14" width="1.1" height="1.1" fill="#0024ff"/>
<rect x="5" y="-14" width="1.1" height="1.1" fill="#0013ff"/>
<rect x="6" y="-14" width="1.1" height="1.1" fill="#0000ff"/>
<rect x="7" y="-14" width="1.1" height="1.1" fill="#0d00ff"/>
<rect x="8" y="-14" width="1.1" height="1.1" fill="#1b00ff"/>
<rect x="9" y="-14" width="1.1" height="1.1" fill="#2900ff"/>
<rect x="10" y="-14" width="1.1" height="1.1" fill="#3600ff"/>
<rect x="11" y="-14" width="1.1" height="1.1" fill="#4200ff"/>
<rect x="12" y="-14" width="1.1" height="1.1" fill="#4e00ff"/>
<rect x="13" y="-14" width="1.1" height="1.1" fill="#5700ff"/>
<rect x="14" y="-14" width="1.1" height="1.1" fill="#6000ff"/>
<rect x="15" y="-14" width="2.1" height="1.1" fill="#6700ff"/>
<rect x="-16" y="-13" width="2.1" height="1.1" fill="#6100ff"/>
<rect x="-14" y="-13" width="1.1" height="1.1" fill="#5700ff"/>
<rect x="-13" y="-13" width="1.1" height="1.1" fill="#4d00ff"/>
<rect x="-12" y="-13" width="1.1" height="1.1" fill="#4000ff"/>
<rect x="-11" y="-13" width="1.1" height="1.1" fill="#3200ff"/>
<rect x="-10" y="-13" width="1.1" height="1.1" fill="#2300ff"/>
<rect x="-9" y="-13" width="1.1" height="1.1" fill="#1200ff"/>
<rect x="-8" y="-13" width="1.1" height="1.1" fill="#0100ff"/>
<rect x="-7" y="-13" width="1.1" height="1.1" fill="#0019ff"/>
<rect x="-6" y="-13" width="1.1" height="1.1" fill="#0033ff"/>
<rect x="-5" y="-13" width="1.1" height="1.1" fill="#004bff"/>
<rect x="-4" y="-13" width="1.1" height="1.1" fill="#0060ff"/>
<rect x="-3" y="-13" width="1.1" height="1.1" fill="#0072ff"/>
<rect x="-2" y="-13" width="1.1" height="1.1" fill="#0080ff"/>
<rect x="-1" y="-13" width="1.1" height="1.1" fill="#0088ff"/>
<rect x="0" y="-13" width="1.1" height="1.1" fill="#008bff"/>
<rect x="1" y="-13" width="1.1" height="1.1" fill="#0088ff"/>
<rect x="2" y="-13" width="1.1" height="1.1" fill="#0080ff"/>
<rect x="3" y="-13" width="1.1" height="1.1" fill="#0072ff"/>
<rect x="4" y="-13" width="1.1" height="1.1" fill="#0060ff"/>
<rect x="5" y="-13" width="1.1" height="1.1" fill="#004bff"/>
<rect x="6" y="-13" width="1.1" height="1.1" fill="#0033ff"/>
<rect x="7" y="-13" width="1.1" height="1.1" fill="#0019ff"/>
<rect x="8" y="-13" width="1.1" height="1.1" fill="#0100ff"/>
<rect x="9" y="-13" width="1.1" height="1.1" fill="#1200ff"/>
<rect x="10" y="-13" width="1.1" height="1.1" fill="#2300ff"/>
<rect x="11" y="-13" width="1.1" height="1.1" fill="#3200ff"/>
<rect x="12" y="-13" width="1.1" height="1.1" fill="#4000ff"/>
<rect x="13" y="-13" width="1.1" height="1.1" fill="#4d00ff"/>
<rect x="14" y="-13" width="1.1" height="1.1" fill="#5700ff"/>
<rect x="15" y="-13" width="2.1" height="1.1" fill="#6100ff"/>
<rect x="-16" y="-12" width="2.1" height="1.1" fill="#5900ff"/>
<rect x="-14" y="-12" width="1.1" height="1.1" fill="#4e00ff"/>
<rect x="-13" y="-12" width="1.1" height="1.1" fill="#4000ff"/>
<rect x="-12" y="-12" width="1.1" height="1.1" fill="#3100ff"/>
<rect x="-11" y="-12" width="1.1" height="1.1" fill="#1f00ff"/>
<rect x="-10" y="-12" width="1.1" height="1.1" fill="#0c00ff"/>
<rect x="-9" y="-12" width="1.1" height="1.1" fill="#000cff"/>
<rect x="-8" y="-12" width="1.1" height="1.1" fill="#002cff"/>
<rect x="-7" y="-12" width="1.1" height="1.1" fill="#004dff"/>
<rect x="-6" y="-12" width="1.1" height="1.1" fill="#006dff"/>
<rect x="-5" y="-12" width="1.1" height="1.1" fill="#008bff"/>
<rect x="-4" y="-12" width="1.1" height="1.1" fill="#00a5ff"/>
<rect x="-3" y="-12" width="1.1" height="1.1" fill="#00bbff"/>
<rect x="-2" y="-12" width="1.1" height="1.1" fill="#00ccff"/>
<rect x="-1" y="-12" width="1.1" height="1.1" fill="#00d6ff"/>
<rect x="0" y="-12" width="1.1" height="1.1" fill="#00daff"/>
<rect x="1" y="-12" width="1.1" height="1.1" fill="#00d6ff"/>
<rect x="2" y="-12" width="1.1" height="1.1" fill="#00ccff"/>
<rect x="3" y="-12" width="1.1" height="1.1" fill="#00bbff"/>
<rect x="4" y="-12" width="1.1" height="1.1" fill="#00a5ff"/>
<rect x="5" y="-12" width="1.1" height="1.1" fill="#008bff"/>
<rect x="6" y="-12" width="1.1" height="1.1" fill="#006dff"/>
<rect x="7" y="-12" width="1.1" height="1.1" fill="#004dff"/>
<rect x="8" y="-12" width="1.1" height="1.1" fill="#002cff"/>
<rect x="9" y="-12" width="1.1" height="1.1" fill="#000cff"/>
<rect x="10" y="-12" width="1.1" height="1.1" fill="#0c00ff"/>
<rect x="11" y="-12" width="1.1" height="1.1" fill="#1f00ff"/>
<rect x="12" y="-12" width="1.1" height="1.1" fill="#3100ff"/>
<rect x="13" y="-12" width="1.1" height="1.1" fill="#4000ff"/>
<rect x="14" y="-12" width="1.1" height="1.1" fill="#4e00ff"/>
<rect x="15" y="-12" width="2.1" height="1.1" fill="#5900ff"/>
<rect x="-16" y="-11" width="2.1" height="1.1" fill="#5000ff"/>
<rect x="-14" y="-11" width="1.1" height="1.1" fill="#4200ff"/>
<rect x="-13" y="-11" width="1.1" height="1.1" fill="#3200ff"/>
<rect x="-12" y="-11" width="1.1" height="1.1" fill="#1f00ff"/>
<rect x="-11" y="-11" width="1.1" height="1.1" fill="#0a00ff"/>
<rect x="-10" y="-11" width="1.1" height="1.1" fill="#0013ff"/>
<rect x="-9" y="-11" width="1.1" height="1.1" fill="#0039ff"/>
<rect x="-8" y="-11" width="1.1" height="1.1" fill="#0060ff"/>
<rect x="-7" y="-11" width="1.1" height="1.1" fill="#0088ff"/>
<rect x="-6" y="-11" width="1.1" height="1.1" fill="#00aeff"/>
<rect x="-5" y="-11" width="1.1" height="1.1" fill="#00d3ff"/>
<rect x="-4" y="-11" width="1.1" height="1.1" fill="#00f3ff"/>
<rect x="-3" y="-11" width="1.1" height="1.1" fill="#00fff2"/>
<rect x="-2" y="-11" width="1.1" height="1.1" fill="#00ffe0"/>
<rect x="-1" y="-11" width="1.1" height="1.1" fill="#00ffd5"/>
<rect x="0" y="-11" width="1.1" height="1.1" fill="#00ffd1"/>
<rect x="1" y="-11" width="1.1" height="1.1" fill="#00ffd5"/>
<rect x="2" y="-11" width="1.1" height="1.1" fill="#00ffe0"/>
<rect x="3" y="-11" width="1.1" height="1.1" fill="#00fff2"/>
<rect x="4" y="-11" width="1.1" height="1.1" fill="#00f3ff"/>
<rect x="5" y="-11" width="1.1" height="1.1" fill="#00d3ff"/>
<rect x="6" y="-11" width="1.1" height="1.1" fill="#00aeff"/>
<rect x="7" y="-11" width="1.1" height="1.1" fill="#0088ff"/>
<rect x="8" y="-11" width="1.1" height="1.1" fill="#0060ff"/>
<rect x="9" y="-11" width="1.1" height="1.1" fill="#0039ff"/>
<rect x="10" y="-11" width="1.1" height="1.1" fill="#0013ff"/>
<rect x="11" y="-11" width="1.1" height="1.1" fill="#0a00ff"/>
<rect x="12" y="-11" width="1.1" height="1.1" fill="#1f00ff"/>
<rect x="13" y="-11" width="1.1" height="1.1" fill="#3200ff"/>
<rect x="14" y="-11" width="1.1" height="1.1" fill="#4200ff"/>
<rect x="15" y="-11" width="2.1" height="1.1" fill="#5000ff"/>
<rect x="-16" y="-10" width="2.1" height="1.1" fill="#4600ff"/>
<rect x="-14" y="-10" width="1.1" height="1.1" fill="#3600ff"/>
<rect x="-13" y="-10" width="1.1" height="1.1" fill="#2300ff"/>
<rect x="-12" y="-10" width="1.1" height="1.1" fill="#0c00ff"/>
<rect x="-11" y="-10" width="1.1" height="1.1" fill="#0013ff"/>
<rect x="-10" y="-10" width="1.1" height="1.1" fill="#003dff"/>
<rect x="-9" y="-10" width="1.1" height="1.1" fill="#006aff"/>
<rect x="-8" y="-10" width="1.1" height="1.1" fill="#0099ff"/>
<rect x="-7" y="-10" width="1.1" height="1.1" fill="#00c8ff"/>
<rect x="-6" y="-10" width="1.1" height="1.1" fill="#00f6ff"/>
<rect x="-5" y="-10" width="1.1" height="1.1" fill="#00ffe0"/>
<rect x="-4" y="-10" width="1.1" height="1.1" fill="#00ffbd"/>
<rect x="-3" y="-10" width="1.1" height="1.1" fill="#00ffa1"/>
<rect x="-2" y="-10" width="1.1" height="1.1" fill="#00ff8b"/>
<rect x="-1" y="-10" width="1.1" height="1.1" fill="#00ff7e"/>
<rect x="0" y="-10" width="1.1" height="1.1" fill="#00ff79"/>
<rect x="1" y="-10" width="1.1" height="1.1" fill="#00ff7e"/>
<rect x="2" y="-10" width="1.1" height="1.1" fill="#00ff8b"/>
<rect x="3" y="-10" width="1.1" height="1.1" fill="#00ffa1"/>
<rect x="4" y="-10" width="1.1" height="1.1" fill="#00ffbd"/>
<rect x="5" y="-10" width="1.1" height="1.1" fill="#00ffe0"/>
<rect x="6" y="-10" width="1.1" height="1.1" fill="#00f6ff"/>
<rect x="7" y="-10" width="1.1" height="1.1" fill="#00c8ff"/>
<rect x="8" y="-10" width="1.1" height="1.1" fill="#0099ff"/>
<rect x="9" y="-10" width="1.1" height="1.1" fill="#006aff"/>
<rect x="10" y="-10" width="1.1" height="1.1" fill="#003dff"/>
<rect x="11" y="-10" width="1.1" height="1.1" fill="#0013ff"/>
<rect x="12" y="-10" width="1.1" height="1.1" fill="#0c00ff"/>
<rect x="13" y="-10" width="1.1" height="1.1" fill="#2300ff"/>
<rect x="14" y="-10" width="1.1" height="1.1" fill="#3600ff"/>
<rect x="15" y="-10" width="2.1" height="1.1" fill="#4600ff"/>
<rect x="-16" y="-9" width="2.1" height="1.1" fill="#3c00ff"/>
<rect x="-14" y="-9" width="1.1" height="1.1" fill="#2900ff"/>
<rect x="-13" y="-9" width="1.1" height="1.1" fill="#1200ff"/>
<rect x="-12" y="-9" width="1.1" height="1.1" fill="#000cff"/>
<rect x="-11" y="-9" width="1.1" height="1.1" fill="#0039ff"/>
<rect x="-10" y="-9" width="1.1" height="1.1" fill="#006aff"/>
<rect x="-9" y="-9" width="1.1" height="1.1" fill="#009fff"/>
<rect x="-8" y="-9" width="1.1" height="1.1" fill="#00d6ff"/>
<rect x="-7" y="-9" width="1.1" height="1.1" fill="#00fff2"/>
<rect x="-6" y="-9" width="1.1" height="1.1" fill="#00ffc1"/>
<rect x="-5" y="-9" width="1.1" height="1.1" fill="#00ff94"/>
<rect x="-4" y="-9" width="1.1" height="1.1" fill="#00ff6b"/>
<rect x="-3" y="-9" width="1.1" height="1.1" fill="#00ff4a"/>
<rect x="-2" y="-9" width="1.1" height="1.1" fill="#00ff30"/>
<rect x="-1" y="-9" width="1.1" height="1.1" fill="#00ff21"/>
<rect x="0" y="-9" width="1.1" height="1.1" fill="#00ff1b"/>
<rect x="1" y="-9" width="1.1" height="1.1" fill="#00ff21"/>
<rect x="2" y="-9" width="1.1" height="1.1" fill="#00ff30"/>
<rect x="3" y="-9" width="1.1" height="1.1" fill="#00ff4a"/>
<rect x="4" y="-9" width="1.1" height="1.1" fill="#00ff6b"/>
<rect x="5" y="-9" width="1.1" height="1.1" fill="#00ff94"/>
<rect x="6" y="-9" width="1.1" height="1.1" fill="#00ffc1"/>
<rect x="7" y="-9" width="1.1" height="1.1" fill="#00fff2"/>
<rect x="8" y="-9" width="1.1" height="1.1" fill="#00d6ff"/>
<rect x="9" y="-9" width="1.1" height="1.1" fill="#009fff"/>
<rect x="10" y="-9" width="1.1" height="1.1" fill="#006aff"/>
<rect x="11" y="-9" width="1.1" height="1.1" fill="#0039ff"/>
<rect x="12" y="-9" width="1.1" height="1.1" fill="#000cff"/>
<rect x="13" y="-9" width="1.1" height="1.1" fill="#1200ff"/>
<rect x="14" y="-9" width="1.1" height="1.1" fill="#2900ff"/>
<rect x="15" y="-9" width="2.1" height="1.1" fill="#3c00ff"/>
<rect x="-16" y="-8" width="2.1" height="1.1" fill="#3100ff"/>
<rect x="-14" y="-8" width="1.1" height="1.1" fill="#1b00ff"/>
<rect x="-13" y="-8" width="1.1" height="1.1" fill="#0100ff"/>
<rect x="-12" y="-8" width="1.1" height="1.1" fill="#002cff"/>
<rect x="-11" y="-8" width="1.1" height="1.1" fill="#0060ff"/>
<rect x="-10" y="-8" width="1.1" height="1.1" fill="#0099ff"/>
<rect x="-9" y="-8" width="1.1" height="1.1" fill="#00d6ff"/>
<rect x="-8" y="-8" width="1.1" height="1.1" fill="#00ffeb"/>
<rect x="-7" y="-8" width="1.1" height="1.1" fill="#00ffb1"/>
<rect x="-6" y="-8" width="1.1" height="1.1" fill="#00ff79"/>
<rect x="-5" y="-8" width="1.1" height="1.1" fill="#00ff45"/>
<rect x="-4" y="-8" width="1.1" height="1.1" fill="#00ff16"/>
<rect x="-3" y="-8" width="1.1" height="1.1" fill="#0eff00"/>
<rect x="-2" y="-8" width="1.1" height="1.1" fill="#26ff00"/>
<rect x="-1" y="-8" width="1.1" height="1.1" fill="#35ff00"/>
<rect x="0" y="-8" width="1.1" height="1.1" fill="#3bff00"/>
<rect x="1" y="-8" width="1.1" height="1.1" fill="#35ff00"/>
<rect x="2" y="-8" width="1.1" height="1.1" fill="#26ff00"/>
<rect x="3" y="-8" width="1.1" height="1.1" fill="#0eff00"/>
<rect x="4" y="-8" width="1.1" height="1.1" fill="#00ff16"/>
<rect x="5" y="-8" width="1.1" height="1.1" fill="#00ff45"/>
<rect x="6" y="-8" width="1.1" height="1.1" fill="#00ff79"/>
<rect x="7" y="-8" width="1.1" height="1.1" fill="#00ffb1"/>
<rect x="8" y="-8" width="1.1" height="1.1" fill="#00ffeb"/>
<rect x="9" y="-8" width="1.1" height="1.1" fill="#00d6ff"/>
<rect x="10" y="-8" width="1.1" height="1.1" fill="#0099ff"/>
<rect x="11" y="-8" width="1.1" height="1.1" fill="#0060ff"/>
<rect x="12" y="-8" width="1.1" height="1.1" fill="#002cff"/>
<rect x="13" y="-8" width="1.1" height="1.1" fill="#0100ff"/>
<rect x="14" y="-8" width="1.1" height="1.1" fill="#1b00ff"/>
<rect x="15" y="-8" width="2.1" height="1.1" fill="#3100ff"/>
<rect x="-16" y="-7" width="2.1" height="1.1" fill="#2700ff"/>
<rect x="-14" y="-7" width="1.1" height="1.1" fill="#0d00ff"/>
<rect x="-13" y="-7" width="1.1" height="1.1" fill="#0019ff"/>
<rect x="-12" y="-7" width="1.1" height="1.1" fill="#004dff"/>
<rect x="-11" y="-7" width="1.1" height="1.1" fill="#0088ff"/>
<rect x="-10" y="-7" width="1.1" height="1.1" fill="#00c8ff"/>
<rect x="-9" y="-7" width="1.1" height="1.1" fill="#00fff2"/>
<rect x="-8" y="-7" width="1.1" height="1.1" fill="#00ffb1"/>
<rect x="-7" y="-7" width="1.1" height="1.1" fill="#00ff70"/>
<rect x="-6" y="-7" width="1.1" height="1.1" fill="#00ff30"/>
<rect x="-5" y="-7" width="1.1" height="1.1" fill="#09ff00"/>
<rect x="-4" y="-7" width="1.1" height="1.1" fill="#35ff00"/>
<rect x="-3" y="-7" width="1.1" height="1.1" fill="#5aff00"/>
<rect x="-2" y="-7" width="1.1" height="1.1" fill="#76ff00"/>
<rect x="-1" y="-7" width="1.1" height="1.1" fill="#87ff00"/>
<rect x="0" y="-7" width="1.1" height="1.1" fill="#8dff00"/>
<rect x="1" y="-7" width="1.1" height="1.1" fill="#87ff00"/>
<rect x="2" y="-7" width="1.1" height="1.1" fill="#76ff00"/>
<rect x="3" y="-7" width="1.1" height="1.1" fill="#5aff00"/>
<rect x="4" y="-7" width="1.1" height="1.1" fill="#35ff00"/>
<rect x="5" y="-7" width="1.1" height="1.1" fill="#09ff00"/>
<rect x="6" y="-7" width="1.1" height="1.1" fill="#00ff30"/>
<rect x="7" y="-7" width="1.1" height="1.1" fill="#00ff70"/>
<rect x="8" y="-7" width="1.1" height="1.1" fill="#00ffb1"/>
<rect x="9" y="-7" width="1.1" height="1.1" fill="#00fff2"/>
<rect x="10" y="-7" width="1.1" height="1.1" fill="#00c8ff"/>
<rect x="11" y="-7" width="1.1" height="1.1" fill="#0088ff"/>
<rect x="12" y="-7" width="1.1" height="1.1" fill="#004dff"/>
<rect x="13" y="-7" width="1.1" height="1.1" fill="#0019ff"/>
<rect x="14" y="-7" width="1.1" height="1.1" fill="#0d00ff"/>
<rect x="15" y="-7" width="2.1" height="1.1" fill="#2700ff"/>
<rect x="-16" y="-6" width="2.1" height="1.1" fill="#1c00ff"/>
<rect x="-14" y="-6" width="1.1" height="1.1" fill="#0000ff"/>
<rect x="-13" y="-6" width="1.1" height="1.1" fill="#0033ff"/>
<rect x="-12" y="-6" width="1.1" height="1.1" fill="#006dff"/>
<rect x="-11" y="-6" width="1.1" height="1.1" fill="#00aeff"/>
<rect x="-10" y="-6" width="1.1" height="1.1" fill="#00f6ff"/>
<rect x="-9" y="-6" width="1.1" height="1.1" fill="#00ffc1"/>
<rect x="-8" y="-6" width="1.1" height="1.1" fill="#00ff79"/>
<rect x="-7" y="-6" width="1.1" height="1.1" fill="#00ff30"/>
<rect x="-6" y="-6" width="1.1" height="1.1" fill="#13ff00"/>
<rect x="-5" y="-6" width="1.1" height="1.1" fill="#4aff00"/>
<rect x="-4" y="-6" width="1.1" height="1.1" fill="#7bff00"/>
<rect x="-3" y="-6" width="1.1" height="1.1" fill="#a4ff00"/>
<rect x="-2" y="-6" width="1.1" height="1.1" fill="#c3ff00"/>
<rect x="-1" y="-6" width="1.1" height="1.1" fill="#d6ff00"/>
<rect x="0" y="-6" width="1.1" height="1.1" fill="#ddff00"/>
<rect x="1" y="-6" width="1.1" height="1.1" fill="#d6ff00"/>
<rect x="2" y="-6" width="1.1" height="1.1" fill="#c3ff00"/>
<rect x="3" y="-6" width="1.1" height="1.1" fill="#a4ff00"/>
<rect x="4" y="-6" width="1.1" height="1.1" fill="#7bff00"/>
<rect x="5" y="-6" width="1.1" height="1.1" fill="#4aff00"/>
<rect x="6" y="-6" width="1.1" height="1.1" fill="#13ff00"/>
<rect x="7" y="-6" width="1.1" height="1.1" fill="#00ff30"/>
<rect x="8" y="-6" width="1.1" height="1.1" fill="#00ff79"/>
<rect x="9" y="-6" width="1.1" height="1.1" fill="#00ffc1"/>
<rect x="10" y="-6" width="1.1" height="1.1" fill="#00f6ff"/>
<rect x="11" y="-6" width="1.1" height="1.1" fill="#00aeff"/>
<rect x="12" y="-6" width="1.1" height="1.1" fill="#006dff"/>
<rect x="13" y="-6" width="1.1" height="1.1" fill="#0033ff"/>
<rect x="14" y="-6" width="1.1" height="1.1" fill="#0000ff"/>
<rect x="15" y="-6" width="2.1" height="1.1" fill="#1c00ff"/>
<rect x="-16" y="-5" width="2.1" height="1.1" fill="#1200ff"/>
<rect x="-14" y="-5" width="1.1" height="1.1" fill="#0013ff"/>
<rect x="-13" y="-5" width="1.1" height="1.1" fill="#004bff"/>
<rect x="-12" y="-5" width="1.1" height="1.1" fill="#008bff"/>
<rect x="-11" y="-5" width="1.1" height="1.1" fill="#00d3ff"/>
<rect x="-10" y="-5" width="1.1" height="1.1" fill="#00ffe0"/>
<rect x="-9" y="-5" width="1.1" height="1.1" fill="#00ff94"/>
<rect x="-8" y="-5" width="1.1" height="1.1" fill="#00ff45"/>
<rect x="-7" y="-5" width="1.1" height="1.1" fill="#09ff00"/>
<rect x="-6" y="-5" width="1.1" height="1.1" fill="#4aff00"/>
<rect x="-5" y="-5" width="1.1" height="1.1" fill="#87ff00"/>
<rect x="-4" y="-5" width="1.1" height="1.1" fill="#bdff00"/>
<rect x="-3" y="-5" width="1.1" height="1.1" fill="#eaff00"/>
<rect x="-2" y="-5" width="1.1" height="1.1" fill="#fff300"/>
<rect x="-1" y="-5" width="1.1" height="1.1" fill="#ffe000"/>
<rect x="0" y="-5" width="1.1" height="1.1" fill="#ffd900"/>
<rect x="1" y="-5" width="1.1" height="1.1" fill="#ffe000"/>
<rect x="2" y="-5" width="1.1" height="1.1" fill="#fff300"/>
<rect x="3" y="-5" width="1.1" height="1.1" fill="#eaff00"/>
<rect x="4" y="-5" width="1.1" height="1.1" fill="#bdff00"/>
<rect x="5" y="-5" width="1.1" height="1.1" fill="#87ff00"/>
<rect x="6" y="-5" width="1.1" height="1.1" fill="#4aff00"/>
<rect x="7" y="-5" width="1.1" height="1.1" fill="#09ff00"/>
<rect x="8" y="-5" width="1.1" height="1.1" fill="#00ff45"/>
<rect x="9" y="-5" width="1.1" height="1.1" fill="#00ff94"/>
<rect x="10" y="-5" width="1.1" height="1.1" fill="#00ffe0"/>
<rect x="11" y="-5" width="1.1" height="1.1" fill="#00d3ff"/>
<rect x="12" y="-5" width="1.1" height="1.1" fill="#008bff"/>
<rect x="13" y="-5" width="1.1" height="1.1" fill="#004bff"/>
<rect x="14" y="-5" width="1.1" height="1.1" fill="#0013ff"/>
<rect x="15" y="-5" width="2.1" height="1.1" fill="#1200ff"/>
<rect x="-16" y="-4" width="2.1" height="1.1" fill="#0900ff"/>
<rect x="-14" y="-4" width="1.1" height="1.1" fill="#0024ff"/>
<rect x="-13" y="-4" width="1.1" height="1.1" fill="#0060ff"/>
<rect x="-12" y="-4" width="1.1" height="1.1" fill="#00a5ff"/>
<rect x="-11" y="-4" width="1.1" height="1.1" fill="#00f3ff"/>
<rect x="-10" y="-4" width="1.1" height="1.1" fill="#00ffbd"/>
<rect x="-9" y="-4" width="1.1" height="1.1" fill="#00ff6b"/>
<rect x="-8" y="-4" width="1.1" height="1.1" fill="#00ff16"/>
<rect x="-7" y="-4" width="1.1" height="1.1" fill="#35ff00"/>
<rect x="-6" y="-4" width="1.1" height="1.1" fill="#7bff00"/>
<rect x="-5" y="-4" width="1.1" height="1.1" fill="#bdff00"/>
<rect x="-4" y="-4" width="1.1" height="1.1" fill="#f7ff00"/>
<rect x="-3" y="-4" width="1.1" height="1.1" fill="#ffd900"/>
<rect x="-2" y="-4" width="1.1" height="1.1" fill="#ffb700"/>
<rect x="-1" y="-4" width="1.1" height="1.1" fill="#ffa200"/>
<rect x="0" y="-4" width="1.1" height="1.1" fill="#ff9b00"/>
<rect x="1" y="-4" width="1.1" height="1.1" fill="#ffa200"/>
<rect x="2" y="-4" width="1.1" height="1.1" fill="#ffb700"/>
<rect x="3" y="-4" width="1.1" height="1.1" fill="#ffd900"/>
<rect x="4" y="-4" width="1.1" height="1.1" fill="#f7ff00"/>
<rect x="5" y="-4" width="1.1" height="1.1" fill="#bdff00"/>
<rect x="6" y="-4" width="1.1" height="1.1" fill="#7bff00"/>
<rect x="7" y="-4" width="1.1" height="1.1" fill="#35ff00"/>
<rect x="8" y="-4" width="1.1" height="1.1" fill="#00ff16"/>
<rect x="9" y="-4" width="1.1" height="1.1" fill="#00ff6b"/>
<rect x="10" y="-4" width="1.1" height="1.1" fill="#00ffbd"/>
<rect x="11" y="-4" width="1.1" height="1.1" fill="#00f3ff"/>
<rect x="12" y="-4" width="1.1" height="1.1" fill="#00a5ff"/>
<rect x="13" y="-4" width="1.1" height="1.1" fill="#0060ff"/>
<rect x="14" y="-4" width="1.1" height="1.1" fill="#0024ff"/>
<rect x="15" y="-4" width="2.1" height="1.1" fill="#0900ff"/>
<rect x="-16" y="-3" width="2.1" height="1.1" fill="#0200ff"/>
<rect x="-14" y="-3" width="1.1" height="1.1" fill="#0033ff"/>
<rect x="-13" y="-3" width="1.1" height="1.1" fill="#0072ff"/>
<rect x="-12" y="-3" width="1.1" height="1.1" fill="#00bbff"/>
<rect x="-11" y="-3" width="1.1" height="1.1" fill="#00fff2"/>
<rect x="-10" y="-3" width="1.1" height="1.1" fill="#00ffa1"/>
<rect x="-9" y="-3" width="1.1" height="1.1" fill="#00ff4a"/>
<rect x="-8" y="-3" width="1.1" height="1.1" fill="#0eff00"/>
<rect x="-7" y="-3" width="1.1" height="1.1" fill="#5aff00"/>
<rect x="-6" y="-3" width="1.1" height="1.1" fill="#a4ff00"/>
<rect x="-5" y="-3" width="1.1" height="1.1" fill="#eaff00"/>
<rect x="-4" y="-3" width="1.1" height="1.1" fill="#ffd900"/>
<rect x="-3" y="-3" width="1.1" height="1.1" fill="#ffa900"/>
<rect x="-2" y="-3" width="1.1" height="1.1" fill="#ff8500"/>
<rect x="-1" y="-3" width="1.1" height="1.1" fill="#ff6b00"/>
<rect x="0" y="-3" width="1.1" height="1.1" fill="#ff6200"/>
<rect x="1" y="-3" width="1.1" height="1.1" fill="#ff6b00"/>
<rect x="2" y="-3" width="1.1" height="1.1" fill="#ff8500"/>
<rect x="3" y="-3" width="1.1" height="1.1" fill="#ffa900"/>
<rect x="4" y="-3" width="1.1" height="1.1" fill="#ffd900"/>
<rect x="5" y="-3" width="1.1" height="1.1" fill="#eaff00"/>
<rect x="6" y="-3" width="1.1" height="1.1" fill="#a4ff00"/>
<rect x="7" y="-3" width="1.1" height="1.1" fill="#5aff00"/>
<rect x="8" y="-3" width="1.1" height="1.1" fill="#0eff00"/>
<rect x="9" y="-3" width="1.1" height="1.1" fill="#00ff4a"/>
<rect x="10" y="-3" width="1.1" height="1.1" fill="#00ffa1"/>
<rect x="11" y="-3" width="1.1" height="1.1" fill="#00fff2"/>
<rect x="12" y="-3" width="1.1" height="1.1" fill="#00bbff"/>
<rect x="13" y="-3" width="1.1" height="1.1" fill="#0072ff"/>
<rect x="14" y="-3" width="1.1" height="1.1" fill="#0033ff"/>
<rect x="15" y="-3" width="2.1" height="1.1" fill="#0200ff"/>
<rect x="-16" y="-2" width="2.1" height="1.1" fill="#0005ff"/>
<rect x="-14" y="-2" width="1.1" height="1.1" fill="#003dff"/>
<rect x="-13" y="-2" width="1.1" height="1.1" fill="#0080ff"/>
<rect x="-12" y="-2" width="1.1" height="1.1" fill="#00ccff"/>
<rect x="-11" y="-2" width="1.1" height="1.1" fill="#00ffe0"/>
<rect x="-10" y="-2" width="1.1" height="1.1" fill="#00ff8b"/>
<rect x="-9" y="-2" width="1.1" height="1.1" fill="#00ff30"/>
<rect x="-8" y="-2" width="1.1" height="1.1" fill="#26ff00"/>
<rect x="-7" y="-2" width="1.1" height="1.1" fill="#76ff00"/>
<rect x="-6" y="-2" width="1.1" height="1.1" fill="#c3ff00"/>
<rect x="-5" y="-2" width="1.1" height="1.1" fill="#fff300"/>
<rect x="-4" y="-2" width="1.1" height="1.1" fill="#ffb700"/>
<rect x="-3" y="-2" width="1.1" height="1.1" fill="#ff8500"/>
<rect x="-2" y="-2" width="1.1" height="1.1" fill="#ff5a00"/>
<rect x="-1" y="-2" width="1.1" height="1.1" fill="#ff3f00"/>
<rect x="0" y="-2" width="1.1" height="1.1" fill="#ff3600"/>
<rect x="1" y="-2" width="1.1" height="1.1" fill="#ff3f00"/>
<rect x="2" y="-2" width="1.1" height="1.1" fill="#ff5a00"/>
<rect x="3" y="-2" width="1.1" height="1.1" fill="#ff8500"/>
<rect x="4" y="-2" width="1.1" height="1.1" fill="#ffb700"/>
<rect x="5" y="-2" width="1.1" height="1.1" fill="#fff300"/>
<rect x="6" y="-2" width="1.1" height="1.1" fill="#c3ff00"/>
<rect x="7" y="-2" width="1.1" height="1.1" fill="#76ff00"/>
<rect x="8" y="-2" width="1.1" height="1.1" fill="#26ff00"/>
<rect x="9" y="-2" width="1.1" height="1.1" fill="#00ff30"/>
<rect x="10" y="-2" width="1.1" height="1.1" fill="#00ff8b"/>
<rect x="11" y="-2" width="1.1" height="1.1" fill="#00ffe0"/>
<rect x="12" y="-2" width="1.1" height="1.1" fill="#00ccff"/>
<rect x="13" y="-2" width="1.1" height="1.1" fill="#0080ff"/>
<rect x="14" y="-2" width="1.1" height="1.1" fill="#003dff"/>
<rect x="15" y="-2" width="2.1" height="1.1" fill="#0005ff"/>
<rect x="-16" y="-1" width="2.1" height="1.1" fill="#000aff"/>
<rect x="-14" y="-1" width="1.1" height="1.1" fill="#0044ff"/>
<rect x="-13" y="-1" width="1.1" height="1.1" fill="#0088ff"/>
<rect x="-12" y="-1" width="1.1" height="1.1" fill="#00d6ff"/>
<rect x="-11" y="-1" width="1.1" height="1.1" fill="#00ffd5"/>
<rect x="-10" y="-1" width="1.1" height="1.1" fill="#00ff7e"/>
<rect x="-9" y="-1" width="1.1" height="1.1" fill="#00ff21"/>
<rect x="-8" y="-1" width="1.1" height="1.1" fill="#35ff00"/>
<rect x="-7" y="-1" width="1.1" height="1.1" fill="#87ff00"/>
<rect x="-6" y="-1" width="1.1" height="1.1" fill="#d6ff00"/>
<rect x="-5" y="-1" width="1.1" height="1.1" fill="#ffe000"/>
<rect x="-4" y="-1" width="1.1" height="1.1" fill="#ffa200"/>
<rect x="-3" y="-1" width="1.1" height="1.1" fill="#ff6b00"/>
<rect x="-2" y="-1" width="1.1" height="1.1" fill="#ff3f00"/>
<rect x="-1" y="-1" width="1.1" height="1.1" fill="#ff2400"/>
<rect x="0" y="-1" width="1.1" height="1.1" fill="#ff1a00"/>
<rect x="1" y="-1" width="1.1" height="1.1" fill="#ff2400"/>
<rect x="2" y="-1" width="1.1" height="1.1" fill="#ff3f00"/>
<rect x="3" y="-1" width="1.1" height="1.1" fill="#ff6b00"/>
<rect x="4" y="-1" width="1.1" height="1.1" fill="#ffa200"/>
<rect x="5" y="-1" width="1.1" height="1.1" fill="#ffe000"/>
<rect x="6" y="-1" width="1.1" height="1.1" fill="#d6ff00"/>
<rect x="7" y="-1" width="1.1" height="1.1" fill="#87ff00"/>
<rect x="8" y="-1" width="1.1" height="1.1" fill="#35ff00"/>
<rect x="9" y="-1" width="1.1" height="1.1" fill="#00ff21"/>
<rect x="10" y="-1" width="1.1" height="1.1" fill="#00ff7e"/>
<rect x="11" y="-1" width="1.1" height="1.1" fill="#00ffd5"/>
<rect x="12" y="-1" width="1.1" height="1.1" fill="#00d6ff"/>
<rect x="13" y="-1" width="1.1" height="1.1" fill="#0088ff"/>
<rect x="14" y="-1" width="1.1" height="1.1" fill="#0044ff"/>
<rect x="15" y="-1" width="2.1" height="1.1" fill="#000aff"/>
<rect x="-16" y="0" width="2.1" height="1.1" fill="#000cff"/>
<rect x="-14" y="0" width="1.1" height="1.1" fill="#0046ff"/>
<rect x="-13" y="0" width="1.1" height="1.1" fill="#008bff"/>
<rect x="-12" y="0" width="1.1" height="1.1" fill="#00daff"/>
<rect x="-11" y="0" width="1.1" height="1.1" fill="#00ffd1"/>
<rect x="-10" y="0" width="1.1" height="1.1" fill="#00ff79"/>
<rect x="-9" y="0" width="1.1" height="1.1" fill="#00ff1b"/>
<rect x="-8" y="0" width="1.1" height="1.1" fill="#3bff00"/>
<rect x="-7" y="0" width="1.1" height="1.1" fill="#8dff00"/>
<rect x="-6" y="0" width="1.1" height="1.1" fill="#ddff00"/>
<rect x="-5" y="0" width="1.1" height="1.1" fill="#ffd900"/>
<rect x="-4" y="0" width="1.1" height="1.1" fill="#ff9b00"/>
<rect x="-3" y="0" width="1.1" height="1.1" fill="#ff6200"/>
<rect x="-2" y="0" width="1.1" height="1.1" fill="#ff3600"/>
<rect x="-1" y="0" width="1.1" height="1.1" fill="#ff1a00"/>
<rect x="0" y="0" width="1.1" height="1.1" fill="#ff1100"/>
<rect x="1" y="0" width="1.1" height="1.1" fill="#ff1a00"/>
<rect x="2" y="0" width="1.1" height="1.1" fill="#ff3600"/>
<rect x="3" y="0" width="1.1" height="1.1" fill="#ff6200"/>
<rect x="4" y="0" width="1.1" height="1.1" fill="#ff9b00"/>
<rect x="5" y="0" width="1.1" height="1.1" fill="#ffd900"/>
<rect x="6" y="0" width="1.1" height="1.1" fill="#ddff00"/>
<rect x="7" y="0" width="1.1" height="1.1" fill="#8dff00"/>
<rect x="8" y="0" width="1.1" height="1.1" fill="#3bff00"/>
<rect x="9" y="0" width="1.1" height="1.1" fill="#00ff1b"/>
<rect x="10" y="0" width="1.1" height="1.1" fill="#00ff79"/>
<rect x="11" y="0" width="1.1" height="1.1" fill="#00ffd1"/>
<rect x="12" y="0" width="1.1" height="1.1" fill="#00daff"/>
<rect x="13" y="0" width="1.1" height="1.1" fill="#008bff"/>
<rect x="14" y="0" width="1.1" height="1.1" fill="#0046ff"/>
<rect x="15" y="0" width="2.1" height="1.1" fill="#000cff"/>
<rect x="-16" y="1" width="2.1" height="1.1" fill="#000aff"/>
<rect x="-14" y="1" width="1.1" height="1.1" fill="#0044ff"/>
<rect x="-13" y="1" width="1.1" height="1.1" fill="#0088ff"/>
<rect x="-12" y="1" width="1.1" height="1.1" fill="#00d6ff"/>
<rect x="-11" y="1" width="1.1" height="1.1" fill="#00ffd5"/>
<rect x="-10" y="1" width="1.1" height="1.1" fill="#00ff7e"/>
<rect x="-9" y="1" width="1.1" height="1.1" fill="#00ff21"/>
<rect x="-8" y="1" width="1.1" height="1.1" fill="#35ff00"/>
<rect x="-7" y="1" width="1.1" height="1.1" fill="#87ff00"/>
<rect x="-6" y="1" width="1.1" height="1.1" fill="#d6ff00"/>
<rect x="-5" y="1" width="1.1" height="1.1" fill="#ffe000"/>
<rect x="-4" y="1" width="1.1" height="1.1" fill="#ffa200"/>
<rect x="-3" y="1" width="1.1" height="1.1" fill="#ff6b00"/>
<rect x="-2" y="1" width="1.1" height="1.1" fill="#ff3f00"/>
<rect x="-1" y="1" width="1.1" height="1.1" fill="#ff2400"/>
<rect x="0" y="1" width="1.1" height="1.1" fill="#ff1a00"/>
<rect x="1" y="1" width="1.1" height="1.1" fill="#ff2400"/>
<rect x="2" y="1" width="1.1" height="1.1" fill="#ff3f00"/>
<rect x="3" y="1" width="1.1" height="1.1" fill="#ff6b00"/>
<rect x="4" y="1" width="1.1" height="1.1" fill="#ffa200"/>
<rect x="5" y="1" width="1.1" height="1.1" fill="#ffe000"/>
<rect x="6" y="1" width="1.1" height="1.1" fill="#d6ff00"/>
<rect x="7" y="1" width="1.1" height="1.1" fill="#87ff00"/>
<rect x="8" y="1" width="1.1" height="1.1" fill="#35ff00"/>
<rect x="9" y="1" width="1.1" height="1.1" fill="#00ff21"/>
<rect x="10" y="1" width="1.1" height="1.1" fill="#00ff7e"/>
<rect x="11" y="1" width="1.1" height="1.1" fill="#00ffd5"/>
<rect x="12" y="1" width="1.1" height="1.1" fill="#00d6ff"/>
<rect x="13" y="1" width="1.1" height="1.1" fill="#0088ff"/>
<rect x="14" y="1" width="1.1" height="1.1" fill="#0044ff"/>
<rect x="15" y="1" width="2.1" height="1.1" fill="#000aff"/>
<rect x="-16" y="2" width="2.1" height="1.1" fill="#0005ff"/>
<rect x="-14" y="2" width="1.1" height="1.1" fill="#003dff"/>
<rect x="-13" y="2" width="1.1" height="1.1" fill="#0080ff"/>
<rect x="-12" y="2" width="1.1" height="1.1" fill="#00ccff"/>
<rect x="-11" y="2" width="1.1" height="1.1" fill="#00ffe0"/>
<rect x="-10" y="2" width="1.1" height="1.1" fill="#00ff8b"/>
<rect x="-9" y="2" width="1.1" height="1.1" fill="#00ff30"/>
<rect x="-8" y="2" width="1.1" height="1.1" fill="#26ff00"/>
<rect x="-7" y="2" width="1.1" height="1.1" fill="#76ff00"/>
<rect x="-6" y="2" width="1.1" height="1.1" fill="#c3ff00"/>
<rect x="-5" y="2" width="1.1" height="1.1" fill="#fff300"/>
<rect x="-4" y="2" width="1.1" height="1.1" fill="#ffb700"/>
<rect x="-3" y="2" width="1.1" height="1.1" fill="#ff8500"/>
<rect x="-2" y="2" width="1.1" height="1.1" fill="#ff5a00"/>
<rect x="-1" y="2" width="1.1" height="1.1" fill="#ff3f00"/>
<rect x="0" y="2" width="1.1" height="1.1" fill="#ff3600"/>
<rect x="1" y="2" width="1.1" height="1.1" fill="#ff3f00"/>
<rect x="2" y="2" width="1.1" height="1.1" fill="#ff5a00"/>
<rect x="3" y="2" width="1.1" height="1.1" fill="#ff8500"/>
<rect x="4" y="2" width="1.1" height="1.1" fill="#ffb700"/>
<rect x="5" y="2" width="1.1" height="1.1" fill="#fff300"/>
<rect x="6" y="2" width="1.1" height="1.1" fill="#c3ff00"/>
<rect x="7" y="2" width="1.1" height="1.1" fill="#76ff00"/>
<rect x="8" y="2" width="1.1" height="1.1" fill="#26ff00"/>
<rect x="9" y="2" width="1.1" height="1.1" fill="#00ff30"/>
<rect x="10" y="2" width="1.1" height="1.1" fill="#00ff8b"/>
<rect x="11" y="2" width="1.1" height="1.1" fill="#00ffe0"/>
<rect x="12" y="2" width="1.1" height="1.1" fill="#00ccff"/>
<rect x="13" y="2" width="1.1" height="1.1" fill="#0080ff"/>
<rect x="14" y="2" width="1.1" height="1.1" fill="#003dff"/>
<rect x="15" y="2" width="2.1" height="1.1" fill="#0005ff"/>
<rect x="-16" y="3" width="2.1" height="1.1" fill="#0200ff"/>
<rect x="-14" y="3" width="1.1" height="1.1" fill="#0033ff"/>
<rect x="-13" y="3" width="1.1" height="1.1" fill="#0072ff"/>
<rect x="-12" y="3" width="1.1" height="1.1" fill="#00bbff"/>
<rect x="-11" y="3" width="1.1" height="1.1" fill="#00fff2"/>
<rect x="-10" y="3" width="1.1" height="1.1" fill="#00ffa1"/>
<rect x="-9" y="3" width="1.1" height="1.1" fill="#00ff4a"/>
<rect x="-8" y="3" width="1.1" height="1.1" fill="#0eff00"/>
<rect x="-7" y="3" width="1.1" height="1.1" fill="#5aff00"/>
<rect x="-6" y="3" width="1.1" height="1.1" fill="#a4ff00"/>
<rect x="-5" y="3" width="1.1" height="1.1" fill="#eaff00"/>
<rect x="-4" y="3" width="1.1" height="1.1" fill="#ffd900"/>
<rect x="-3" y="3" width="1.1" height="1.1" fill="#ffa900"/>
<rect x="-2" y="3" width="1.1" height="1.1" fill="#ff8500"/>
<rect x="-1" y="3" width="1.1" height="1.1" fill="#ff6b00"/>
<rect x="0" y="3" width="1.1" height="1.1" fill="#ff6200"/>
<rect x="1" y="3" width="1.1" height="1.1" fill="#ff6b00"/>
<rect x="2" y="3" width="1.1" height="1.1" fill="#ff8500"/>
<rect x="3" y="3" width="1.1" height="1.1" fill="#ffa900"/>
<rect x="4" y="3" width="1.1" height="1.1" fill="#ffd900"/>
<rect x="5" y="3" width="1.1" height="1.1" fill="#eaff00"/>
<rect x="6" y="3" width="1.1" height="1.1" fill="#a4ff00"/>
<rect x="7" y="3" width="1.1" height="1.1" fill="#5aff00"/>
<rect x="8" y="3" width="1.1" height="1.1" fill="#0eff00"/>
<rect x="9" y="3" width="1.1" height="1.1" fill="#00ff4a"/>
<rect x="10" y="3" width="1.1" height="1.1" fill="#00ffa1"/>
<rect x="11" y="3" width="1.1" height="1.1" fill="#00fff2"/>
<rect x="12" y="3" width="1.1" height="1.1" fill="#00bbff"/>
<rect x="13" y="3" width="1.1" height="1.1" fill="#0072ff"/>
<rect x="14" y="3" width="1.1" height="1.1" fill="#0033ff"/>
<rect x="15" y="3" width="2.1" height="1.1" fill="#0200ff"/>
<rect x="-16" y="4" width="2.1" height="1.1" fill="#0900ff"/>
<rect x="-14" y="4" width="1.1" height="1.1" fill="#0024ff"/>
<rect x="-13" y="4" width="1.1" height="1.1" fill="#0060ff"/>
<rect x="-12" y="4" width="1.1" height="1.1" fill="#00a5ff"/>
<rect x="-11" y="4" width="1.1" height="1.1" fill="#00f3ff"/>
<rect x="-10" y="4" width="1.1" height="1.1" fill="#00ffbd"/>
<rect x="-9" y="4" width="1.1" height="1.1" fill="#00ff6b"/>
<rect x="-8" y="4" width="1.1" height="1.1" fill="#00ff16"/>
<rect x="-7" y="4" width="1.1" height="1.1" fill="#35ff00"/>
<rect x="-6" y="4" width="1.1" height="1.1" fill="#7bff00"/>
<rect x="-5" y="4" width="1.1" height="1.1" fill="#bdff00"/>
<rect x="-4" y="4" width="1.1" height="1.1" fill="#f7ff00"/>
<rect x="-3" y="4" width="1.1" height="1.1" fill="#ffd900"/>
<rect x="-2" y="4" width="1.1" height="1.1" fill="#ffb700"/>
<rect x="-1" y="4" width="1.1" height="1.1" fill="#ffa200"/>
<rect x="0" y="4" width="1.1" height="1.1" fill="#ff9b00"/>
<rect x="1" y="4" width="1.1" height="1.1" fill="#ffa200"/>
<rect x="2" y="4" width="1.1" height="1.1" fill="#ffb700"/>
<rect x="3" y="4" width="1.1" height="1.1" fill="#ffd900"/>
<rect x="4" y="4" width="1.1" height="1.1" fill="#f7ff00"/>
<rect x="5" y="4" width="1.1" height="1.1" fill="#bdff00"/>
<rect x="6" y="4" width="1.1" height="1.1" fill="#7bff00"/>
<rect x="7" y="4" width="1.1" height="1.1" fill="#35ff00"/>
<rect x="8" y="4" width="1.1" height="1.1" fill="#00ff16"/>
<rect x="9" y="4" width="1.1" height="1.1" fill="#00ff6b"/>
<rect x="10" y="4" width="1.1" height="1.1" fill="#00ffbd"/>
<rect x="11" y="4" width="1.1" height="1.1" fill="#00f3ff"/>
<rect x="12" y="4" width="1.1" height="1.1" fill="#00a5ff"/>
<rect x="13" y="4" width="1.1" height="1.1" fill="#0060ff"/>
<rect x="14" y="4" width="1.1" height="1.1" fill="#0024ff"/>
<rect x="15" y="4" width="2.1" height="1.1" fill="#0900ff"/>
<rect x="-16" y="5" width="2.1" height="1.1" fill="#1200ff"/>
<rect x="-14" y="5" width="1.1" height="1.1" fill="#0013ff"/>
<rect x="-13" y="5" width="1.1" height="1.1" fill="#004bff"/>
<rect x="-12" y="5" width="1.1" height="1.1" fill="#008bff"/>
<rect x="-11" y="5" width="1.1" height="1.1" fill="#00d3ff"/>
<rect x="-10" y="5" width="1.1" height="1.1" fill="#00ffe0"/>
<rect x="-9" y="5" width="1.1" height="1.1" fill="#00ff94"/>
<rect x="-8" y="5" width="1.1" height="1.1" fill="#00ff45"/>
<rect x="-7" y="5" width="1.1" height="1.1" fill="#09ff00"/>
<rect x="-6" y="5" width="1.1" height="1.1" fill="#4aff00"/>
<rect x="-5" y="5" width="1.1" height="1.1" fill="#87ff00"/>
<rect x="-4" y="5" width="1.1" height="1.1" fill="#bdff00"/>
<rect x="-3" y="5" width="1.1" height="1.1" fill="#eaff00"/>
<rect x="-2" y="5" width="1.1" height="1.1" fill="#fff300"/>
<rect x="-1" y="5" width="1.1" height="1.1" fill="#ffe000"/>
<rect x="0" y="5" width="1.1" height="1.1" fill="#ffd900"/>
<rect x="1" y="5" width="1.1" height="1.1" fill="#ffe000"/>
<rect x="2" y="5" width="1.1" height="1.1" fill="#fff300"/>
<rect x="3" y="5" width="1.1" height="1.1" fill="#eaff00"/>
<rect x="4" y="5" width="1.1" height="1.1" fill="#bdff00"/>
<rect x="5" y="5" width="1.1" height="1.1" fill="#87ff00"/>
<rect x="6" y="5" width="1.1" height="1.1" fill="#4aff00"/>
<rect x="7" y="5" width="1.1" height="1.1" fill="#09ff00"/>
<rect x="8" y="5" width="1.1" height="1.1" fill="#00ff45"/>
<rect x="9" y="5" width="1.1" height="1.1" fill="#00ff94"/>
<rect x="10" y="5" width="1.1" height="1.1" fill="#00ffe0"/>
<rect x="11" y="5" width="1.1" height="1.1" fill="#00d3ff"/>
<rect x="12" y="5" width="1.1" height="1.1" fill="#008bff"/>
<rect x="13" y="5" width="1.1" height="1.1" fill="#004bff"/>
<rect x="14" y="5" width="1.1" height="1.1" fill="#0013ff"/>
<rect x="15" y="5" width="2.1" height="1.1" fill="#1200ff"/>
<rect x="-16" y="6" width="2.1" height="1.1" fill="#1c00ff"/>
<rect x="-14" y="6" width="1.1" height="1.1" fill="#0000ff"/>
<rect x="-13" y="6" width="1.1" height="1.1" fill="#0033ff"/>
<rect x="-12" y="6" width="1.1" height="1.1" fill="#006dff"/>
<rect x="-11" y="6" width="1.1" height="1.1" fill="#00aeff"/>
<rect x="-10" y="6" width="1.1" height="1.1" fill="#00f6ff"/>
<rect x="-9" y="6" width="1.1" height="1.1" fill="#00ffc1"/>
<rect x="-8" y="6" width="1.1" height="1.1" fill="#00ff79"/>
<rect x="-7" y="6" width="1.1" height="1.1" fill="#00ff30"/>
<rect x="-6" y="6" width="1.1" height="1.1" fill="#13ff00"/>
<rect x="-5" y="6" width="1.1" height="1.1" fill="#4aff00"/>
<rect x="-4" y="6" width="1.1" height="1.1" fill="#7bff00"/>
<rect x="-3" y="6" width="1.1" height="1.1" fill="#a4ff00"/>
<rect x="-2" y="6" width="1.1" height="1.1" fill="#c3ff00"/>
<rect x="-1" y="6" width="1.1" height="1.1" fill="#d6ff00"/>
<rect x="0" y="6" width="1.1" height="1.1" fill="#ddff00"/>
<rect x="1" y="6" width="1.1" height="1.1" fill="#d6ff00"/>
<rect x="2" y="6" width="1.1" height="1.1" fill="#c3ff00"/>
<rect x="3" y="6" width="1.1" height="1.1" fill="#a4ff00"/>
<rect x="4" y="6" width="1.1" height="1.1" fill="#7bff00"/>
<rect x="5" y="6" width="1.1" height="1.1" fill="#4aff00"/>
<rect x="6" y="6" width="1.1" height="1.1" fill="#13ff00"/>
<rect x="7" y="6" width="1.1" height="1.1" fill="#00ff30"/>
<rect x="8" y="6" width="1.1" height="1.1" fill="#00ff79"/>
<rect x="9" y="6" width="1.1" height="1.1" fill="#00ffc1"/>
<rect x="10" y="6" width="1.1" height="1.1" fill="#00f6ff"/>
<rect x="11" y="6" width="1.1" height="1.1" fill="#00aeff"/>
<rect x="12" y="6" width="1.1" height="1.1" fill="#006dff"/>
<rect x="13" y="6" width="1.1" height="1.1" fill="#0033ff"/>
<rect x="14" y="6" width="1.1" height="1.1" fill="#0000ff"/>
<rect x="15" y="6" width="2.1" height="1.1" fill="#1c00ff"/>
<rect x="-16" y="7" width="2.1" height="1.1" fill="#2700ff"/>
<rect x="-14" y="7" width="1.1" height="1.1" fill="#0d00ff"/>
<rect x="-13" y="7" width="1.1" height="1.1" fill="#0019ff"/>
<rect x="-12" y="7" width="1.1" height="1.1" fill="#004dff"/>
<rect x="-11" y="7" width="1.1" height="1.1" fill="#0088ff"/>
<rect x="-10" y="7" width="1.1" height="1.1" fill="#00c8ff"/>
<rect x="-9" y="7" width="1.1" height="1.1" fill="#00fff2"/>
<rect x="-8" y="7" width="1.1" height="1.1" fill="#00ffb1"/>
<rect x="-7" y="7" width="1.1" height="1.1" fill="#00ff70"/>
<rect x="-6" y="7" width="1.1" height="1.1" fill="#00ff30"/>
<rect x="-5" y="7" width="1.1" height="1.1" fill="#09ff00"/>
<rect x="-4" y="7" width="1.1" height="1.1" fill="#35ff00"/>
<rect x="-3" y="7" width="1.1" height="1.1" fill="#5aff00"/>
<rect x="-2" y="7" width="1.1" height="1.1" fill="#76ff00"/>
<rect x="-1" y="7" width="1.1" height="1.1" fill="#87ff00"/>
<rect x="0" y="7" width="1.1" height="1.1" fill="#8dff00"/>
<rect x="1" y="7" width="1.1" height="1.1" fill="#87ff00"/>
<rect x="2" y="7" width="1.1" height="1.1" fill="#76ff00"/>
<rect x="3" y="7" width="1.1" height="1.1" fill="#5aff00"/>
<rect x="4" y="7" width="1.1" height="1.1" fill="#35ff00"/>
<rect x="5" y="7" width="1.1" height="1.1" fill="#09ff00"/>
<rect x="6" y="7" width="1.1" height="1.1" fill="#00ff30"/>
<rect x="7" y="7" width="1.1" height="1.1" fill="#00ff70"/>
<rect x="8" y="7" width="1.1" height="1.1" fill="#00ffb1"/>
<rect x="9" y="7" width="1.1" height="1.1" fill="#00fff2"/>
<rect x="10" y="7" width="1.1" height="1.1" fill="#00c8ff"/>
<rect x="11" y="7" width="1.1" height="1.1" fill="#0088ff"/>
<rect x="12" y="7" width="1.1" height="1.1" fill="#004dff"/>
<rect x="13" y="7" width="1.1" height="1.1" fill="#0019ff"/>
<rect x="14" y="7" width="1.1" height="1.1" fill="#0d00ff"/>
<rect x="15" y="7" width="2.1" height="1.1" fill="#2700ff"/>
<rect x="-16" y="8" width="2.1" height="1.1" fill="#3100ff"/>
<rect x="-14" y="8" width="1.1" height="1.1" fill="#1b00ff"/>
<rect x="-13" y="8" width="1.1" height="1.1" fill="#0100ff"/>
<rect x="-12" y="8" width="1.1" height="1.1" fill="#002cff"/>
<rect x="-11" y="8" width="1.1" height="1.1" fill="#0060ff"/>
<rect x="-10" y="8" width="1.1" height="1.1" fill="#0099ff"/>
<rect x="-9" y="8" width="1.1" height="1.1" fill="#00d6ff"/>
<rect x="-8" y="8" width="1.1" height="1.1" fill="#00ffeb"/>
<rect x="-7" y="8" width="1.1" height="1.1" fill="#00ffb1"/>
<rect x="-6" y="8" width="1.1" height="1.1" fill="#00ff79"/>
<rect x="-5" y="8" width="1.1" height="1.1" fill="#00ff45"/>
<rect x="-4" y="8" width="1.1" height="1.1" fill="#00ff16"/>
<rect x="-3" y="8" width="1.1" height="1.1" fill="#0eff00"/>
<rect x="-2" y="8" width="1.1" height="1.1" fill="#26ff00"/>
<rect x="-1" y="8" width="1.1" height="1.1" fill="#35ff00"/>
<rect x="0" y="8" width="1.1" height="1.1" fill="#3bff00"/>
<rect x="1" y="8" width="1.1" height="1.1" fill="#35ff00"/>
<rect x="2" y="8" width="1.1" height="1.1" fill="#26ff00"/>
<rect x="3" y="8" width="1.1" height="1.1" fill="#0eff00"/>
<rect x="4" y="8" width="1.1" height="1.1" fill="#00ff16"/>
<rect x="5" y="8" width="1.1" height="1.1" fill="#00ff45"/>
<rect x="6" y="8" width="1.1" height="1.1" fill="#00ff79"/>
<rect x="7" y="8" width="1.1" height="1.1" fill="#00ffb1"/>
<rect x="8" y="8" width="1.1" height="1.1" fill="#00ffeb"/>
<rect x="9" y="8" width="1.1" height="1.1" fill="#00d6ff"/>
<rect x="10" y="8" width="1.1" height="1.1" fill="#0099ff"/>
<rect x="11" y="8" width="1.1" height="1.1" fill="#0060ff"/>
<rect x="12" y="8" width="1.1" height="1.1" fill="#002cff"/>
<rect x="13" y="8" width="1.1" height="1.1" fill="#0100ff"/>
<rect x="14" y="8" width="1.1" height="1.1" fill="#1b00ff"/>
<rect x="15" y="8" width="2.1" height="1.1" fill="#3100ff"/>
<rect x="-16" y="9" width="2.1" height="1.1" fill="#3c00ff"/>
<rect x="-14" y="9" width="1.1" height="1.1" fill="#2900ff"/>
<rect x="-13" y="9" width="1.1" height="1.1" fill="#1200ff"/>
<rect x="-12" y="9" width="1.1" height="1.1" fill="#000cff"/>
<rect x="-11" y="9" width="1.1" height="1.1" fill="#0039ff"/>
<rect x="-10" y="9" width="1.1" height="1.1" fill="#006aff"/>
<rect x="-9" y="9" width="1.1" height="1.1" fill="#009fff"/>
<rect x="-8" y="9" width="1.1" height="1.1" fill="#00d6ff"/>
<rect x="-7" y="9" width="1.1" height="1.1" fill="#00fff2"/>
<rect x="-6" y="9" width="1.1" height="1.1" fill="#00ffc1"/>
<rect x="-5" y="9" width="1.1" height="1.1" fill="#00ff94"/>
<rect x="-4" y="9" width="1.1" height="1.1" fill="#00ff6b"/>
<rect x="-3" y="9" width="1.1" height="1.1" fill="#00ff4a"/>
<rect x="-2" y="9" width="1.1" height="1.1" fill="#00ff30"/>
<rect x="-1" y="9" width="1.1" height="1.1" fill="#00ff21"/>
<rect x="0" y="9" width="1.1" height="1.1" fill="#00ff1b"/>
<rect x="1" y="9" width="1.1" height="1.1" fill="#00ff21"/>
<rect x="2" y="9" width="1.1" height="1.1" fill="#00ff30"/>
<rect x="3" y="9" width="1.1" height="1.1" fill="#00ff4a"/>
<rect x="4" y="9" width="1.1" height="1.1" fill="#00ff6b"/>
<rect x="5" y="9" width="1.1" height="1.1" fill="#00ff94"/>
<rect x="6" y="9" width="1.1" height="1.1" fill="#00ffc1"/>
<rect x="7" y="9" width="1.1" height="1.1" fill="#00fff2"/>
<rect x="8" y="9" width="1.1" height="1.1" fill="#00d6ff"/>
<rect x="9" y="9" width="1.1" height="1.1" fill="#009fff"/>
<rect x="10" y="9" width="1.1" height="1.1" fill="#006aff"/>
<rect x="11" y="9" width="1.1" height="1.1" fill="#0039ff"/>
<rect x="12" y="9" width="1.1" height="1.1" fill="#000cff"/>
<rect x="13" y="9" width="1.1" height="1.1" fill="#1200ff"/>
<rect x="14" y="9" width="1.1" height="1.1" fill="#2900ff"/>
<rect x="15" y="9" width="2.1" height="1.1" fill="#3c00ff"/>
<rect x="-16" y="10" width="2.1" height="1.1" fill="#4600ff"/>
<rect x="-14" y="10" width="1.1" height="1.1" fill="#3600ff"/>
<rect x="-13" y="10" width="1.1" height="1.1" fill="#2300ff"/>
<rect x="-12" y="10" width="1.1" height="1.1" fill="#0c00ff"/>
<rect x="-11" y="10" width="1.1" height="1.1" fill="#0013ff"/>
<rect x="-10" y="10" width="1.1" height="1.1" fill="#003dff"/>
<rect x="-9" y="10" width="1.1" height="1.1" fill="#006aff"/>
<rect x="-8" y="10" width="1.1" height="1.1" fill="#0099ff"/>
<rect x="-7" y="10" width="1.1" height="1.1" fill="#00c8ff"/>
<rect x="-6" y="10" width="1.1" height="1.1" fill="#00f6ff"/>
<rect x="-5" y="10" width="1.1" height="1.1" fill="#00ffe0"/>
<rect x="-4" y="10" width="1.1" height="1.1" fill="#00ffbd"/>
<rect x="-3" y="10" width="1.1" height="1.1" fill="#00ffa1"/>
<rect x="-2" y="10" width="1.1" height="1.1" fill="#00ff8b"/>
<rect x="-1" y="10" width="1.1" height="1.1" fill="#00ff7e"/>
<rect x="0" y="10" width="1.1" height="1.1" fill="#00ff79"/>
<rect x="1" y="10" width="1.1" height="1.1" fill="#00ff7e"/>
<rect x="2" y="10" width="1.1" height="1.1" fill="#00ff8b"/>
<rect x="3" y="10" width="1.1" height="1.1" fill="#00ffa1"/>
<rect x="4" y="10" width="1.1" height="1.1" fill="#00ffbd"/>
<rect x="5" y="10" width="1.1" height="1.1" fill="#00ffe0"/>
<rect x="6" y="10" width="1.1" height="1.1" fill="#00f6ff"/>
<rect x="7" y="10" width="1.1" height="1.1" fill="#00c8ff"/>
<rect x="8" y="10" width="1.1" height="1.1" fill="#0099ff"/>
<rect x="9" y="10" width="1.1" height="1.1" fill="#006aff"/>
<rect x="10" y="10" width="1.1" height="1.1" fill="#003dff"/>
<rect x="11" y="10" width="1.1" height="1.1" fill="#0013ff"/>
<rect x="12" y="10" width="1.1" height="1.1" fill="#0c00ff"/>
<rect x="13" y="10" width="1.1" height="1.1" fill="#2300ff"/>
<rect x="14" y="10" width="1.1" height="1.1" fill="#3600ff"/>
<rect x="15" y="10" width="2.1" height="1.1" fill="#4600ff"/>
<rect x="-16" y="11" width="2.1" height="1.1" fill="#5000ff"/>
<rect x="-14" y="11" width="1.1" height="1.1" fill="#4200ff"/>
<rect x="-13" y="11" width="1.1" height="1.1" fill="#3200ff"/>
<rect x="-12" y="11" width="1.1" height="1.1" fill="#1f00ff"/>
<rect x="-11" y="11" width="1.1" height="1.1" fill="#0a00ff"/>
<rect x="-10" y="11" width="1.1" height="1.1" fill="#0013ff"/>
<rect x="-9" y="11" width="1.1" height="1.1" fill="#0039ff"/>
<rect x="-8" y="11" width="1.1" height="1.1" fill="#0060ff"/>
<rect x="-7" y="11" width="1.1" height="1.1" fill="#0088ff"/>
<rect x="-6" y="11" width="1.1" height="1.1" fill="#00aeff"/>
<rect x="-5" y="11" width="1.1" height="1.1" fill="#00d3ff"/>
<rect x="-4" y="11" width="1.1" height="1.1" fill="#00f3ff"/>
<rect x="-3" y="11" width="1.1" height="1.1" fill="#00fff2"/>
<rect x="-2" y="11" width="1.1" height="1.1" fill="#00ffe0"/>
<rect x="-1" y="11" width="1.1" height="1.1" fill="#00ffd5"/>
<rect x="0" y="11" width="1.1" height="1.1" fill="#00ffd1"/>
<rect x="1" y="11" width="1.1" height="1.1" fill="#00ffd5"/>
<rect x="2" y="11" width="1.1" height="1.1" fill="#00ffe0"/>
<rect x="3" y="11" width="1.1" height="1.1" fill="#00fff2"/>
<rect x="4" y="11" width="1.1" height="1.1" fill="#00f3ff"/>
<rect x="5" y="11" width="1.1" height="1.1" fill="#00d3ff"/>
<rect x="6" y="11" width="1.1" height="1.1" fill="#00aeff"/>
<rect x="7" y="11" width="1.1" height="1.1" fill="#0088ff"/>
<rect x="8" y="11" width="1.1" height="1.1" fill="#0060ff"/>
<rect x="9" y="11" width="1.1" height="1.1" fill="#0039ff"/>
<rect x="10" y="11" width="1.1" height="1.1" fill="#0013ff"/>
<rect x="11" y="11" width="1.1" height="1.1" fill="#0a00ff"/>
<rect x="12" y="11" width="1.1" height="1.1" fill="#1f00ff"/>
<rect x="13" y="11" width="1.1" height="1.1" fill="#3200ff"/>
<rect x="14" y="11" width="1.1" height="1.1" fill="#4200ff"/>
<rect x="15" y="11" width="2.1" height="1.1" fill="#5000ff"/>
<rect x="-16" y="12" width="2.1" height="1.1" fill="#5900ff"/>
<rect x="-14" y="12" width="1.1" height="1.1" fill="#4e00ff"/>
<rect x="-13" y="12" width="1.1" height="1.1" fill="#4000ff"/>
<rect x="-12" y="12" width="1.1" height="1.1" fill="#3100ff"/>
<rect x="-11" y="12" width="1.1" height="1.1" fill="#1f00ff"/>
<rect x="-10" y="12" width="1.1" height="1.1" fill="#0c00ff"/>
<rect x="-9" y="12" width="1.1" height="1.1" fill="#000cff"/>
<rect x="-8" y="12" width="1.1" height="1.1" fill="#002cff"/>
<rect x="-7" y="12" width="1.1" height="1.1" fill="#004dff"/>
<rect x="-6" y="12" width="1.1" height="1.1" fill="#006dff"/>
<rect x="-5" y="12" width="1.1" height="1.1" fill="#008bff"/>
<rect x="-4" y="12" width="1.1" height="1.1" fill="#00a5ff"/>
<rect x="-3" y="12" width="1.1" height="1.1" fill="#00bbff"/>
<rect x="-2" y="12" width="1.1" height="1.1" fill="#00ccff"/>
<rect x="-1" y="12" width="1.1" height="1.1" fill="#00d6ff"/>
<rect x="0" y="12" width="1.1" height="1.1" fill="#00daff"/>
<rect x="1" y="12" width="1.1" height="1.1" fill="#00d6ff"/>
<rect x="2" y="12" width="1.1" height="1.1" fill="#00ccff"/>
<rect x="3" y="12" width="1.1" height="1.1" fill="#00bbff"/>
<rect x="4" y="12" width="1.1" height="1.1" fill="#00a5ff"/>
<rect x="5" y="12" width="1.1" height="1.1" fill="#008bff"/>
<rect x="6" y="12" width="1.1" height="1.1" fill="#006dff"/>
<rect x="7" y="12" width="1.1" height="1.1" fill="#004dff"/>
<rect x="8" y="12" width="1.1" height="1.1" fill="#002cff"/>
<rect x="9" y="12" width="1.1" height="1.1" fill="#000cff"/>
<rect x="10" y="12" width="1.1" height="1.1" fill="#0c00ff"/>
<rect x="11" y="12" width="1.1" height="1.1" fill="#1f00ff"/>
<rect x="12" y="12" width="1.1" height="1.1" fill="#3100ff"/>
<rect x="13" y="12" width="1.1" height="1.1" fill="#4000ff"/>
<rect x="14" y="12" width="1.1" height="1.1" fill="#4e00ff"/>
<rect x="15" y="12" width="2.1" height="1.1" fill="#5900ff"/>
<rect x="-16" y="13" width="2.1" height="1.1" fill="#6100ff"/>
<rect x="-14" y="13" width="1.1" height="1.1" fill="#5700ff"/>
<rect x="-13" y="13" width="1.1" height="1.1" fill="#4d00ff"/>
<rect x="-12" y="13" width="1.1" height="1.1" fill="#4000ff"/>
<rect x="-11" y="13" width="1.1" height="1.1" fill="#3200ff"/>
<rect x="-10" y="13" width="1.1" height="1.1" fill="#2300ff"/>
<rect x="-9" y="13" width="1.1" height="1.1" fill="#1200ff"/>
<rect x="-8" y="13" width="1.1" height="1.1" fill="#0100ff"/>
<rect x="-7" y="13" width="1.1" height="1.1" fill="#0019ff"/>
<rect x="-6" y="13" width="1.1" height="1.1" fill="#0033ff"/>
<rect x="-5" y="13" width="1.1" height="1.1" fill="#004bff"/>
<rect x="-4" y="13" width="1.1" height="1.1" fill="#0060ff"/>
<rect x="-3" y="13" width="1.1" height="1.1" fill="#0072ff"/>
<rect x="-2" y="13" width="1.1" height="1.1" fill="#0080ff"/>
<rect x="-1" y="13" width="1.1" height="1.1" fill="#0088ff"/>
<rect x="0" y="13" width="1.1" height="1.1" fill="#008bff"/>
<rect x="1" y="13" width="1.1" height="1.1" fill="#0088ff"/>
<rect x="2" y="13" width="1.1" height="1.1" fill="#0080ff"/>
<rect x="3" y="13" width="1.1" height="1.1" fill="#0072ff"/>
<rect x="4" y="13" width="1.1" height="1.1" fill="#0060ff"/>
<rect x="5" y="13" width="1.1" height="1.1" fill="#004bff"/>
<rect x="6" y="13" width="1.1" height="1.1" fill="#0033ff"/>
<rect x="7" y="13" width="1.1" height="1.1" fill="#0019ff"/>
<rect x="8" y="13" width="1.1" height="1.1" fill="#0100ff"/>
<rect x="9" y="13" width="1.1" height="1.1" fill="#1200ff"/>
<rect x="10" y="13" width="1.1" height="1.1" fill="#2300ff"/>
<rect x="11" y="13" width="1.1" height="1.1" fill="#3200ff"/>
<rect x="12" y="13" width="1.1" height="1.1" fill="#4000ff"/>
<rect x="13" y="13" width="1.1" height="1.1" fill="#4d00ff"/>
<rect x="14" y="13" width="1.1" height="1.1" fill="#5700ff"/>
<rect x="15" y="13" width="2.1" height="1.1" fill="#6100ff"/>
<rect x="-16" y="14" width="2.1" height="1.1" fill="#6700ff"/>
<rect x="-14" y="14" width="1.1" height="1.1" fill="#6000ff"/>
<rect x="-13" y="14" width="1.1" height="1.1" fill="#5700ff"/>
<rect x="-12" y="14" width="1.1" height="1.1" fill="#4e00ff"/>
<rect x="-11" y="14" width="1.1" height="1.1" fill="#4200ff"/>
<rect x="-10" y="14" width="1.1" height="1.1" fill="#3600ff"/>
<rect x="-9" y="14" width="1.1" height="1.1" fill="#2900ff"/>
<rect x="-8" y="14" width="1.1" height="1.1" fill="#1b00ff"/>
<rect x="-7" y="14" width="1.1" height="1.1" fill="#0d00ff"/>
<rect x="-6" y="14" width="1.1" height="1.1" fill="#0000ff"/>
<rect x="-5" y="14" width="1.1" height="1.1" fill="#0013ff"/>
<rect x="-4" y="14" width="1.1" height="1.1" fill="#0024ff"/>
<rect x="-3" y="14" width="1.1" height="1.1" fill="#0033ff"/>
<rect x="-2" y="14" width="1.1" height="1.1" fill="#003dff"/>
<rect x="-1" y="14" width="1.1" height="1.1" fill="#0044ff"/>
<rect x="0" y="14" width="1.1" height="1.1" fill="#0046ff"/>
<rect x="1" y="14" width="1.1" height="1.1" fill="#0044ff"/>
<rect x="2" y="14" width="1.1" height="1.1" fill="#003dff"/>
<rect x="3" y="14" width="1.1" height="1.1" fill="#0033ff"/>
<rect x="4" y="14" width="1.1" height="1.1" fill="#0024ff"/>
<rect x="5" y="14" width="1.1" height="1.1" fill="#0013ff"/>
<rect x="6" y="14" width="1.1" height="1.1" fill="#0000ff"/>
<rect x="7" y="14" width="1.1" height="1.1" fill="#0d00ff"/>
<rect x="8" y="14" width="1.1" height="1.1" fill="#1b00ff"/>
<rect x="9" y="14" width="1.1" height="1.1" fill="#2900ff"/>
<rect x="10" y="14" width="1.1" height="1.1" fill="#3600ff"/>
<rect x="11" y="14" width="1.1" height="1.1" fill="#4200ff"/>
<rect x="12" y="14" width="1.1" height="1.1" fill="#4e00ff"/>
<rect x="13" y="14" width="1.1" height="1.1" fill="#5700ff"/>
<rect x="14" y="14" width="1.1" height="1.1" fill="#6000ff"/>
<rect x="15" y="14" width="2.1" height="1.1" fill="#6700ff"/>
<rect x="-16" y="15" width="2.1" height="1.1" fill="#6d00ff"/>
<rect x="-14" y="15" width="1.1" height="1.1" fill="#6700ff"/>
<rect x="-13" y="15" width="1.1" height="1.1" fill="#6100ff"/>
<rect x="-12" y="15" width="1.1" height="1.1" fill="#5900ff"/>
<rect x="-11" y="15" width="1.1" height="1.1" fill="#5000ff"/>
<rect x="-10" y="15" width="1.1" height="1.1" fill="#4600ff"/>
<rect x="-9" y="15" width="1.1" height="1.1" fill="#3c00ff"/>
<rect x="-8" y="15" width="1.1" height="1.1" fill="#3100ff"/>
<rect x="-7" y="15" width="1.1" height="1.1" fill="#2700ff"/>
<rect x="-6" y="15" width="1.1" height="1.1" fill="#1c00ff"/>
<rect x="-5" y="15" width="1.1" height="1.1" fill="#1200ff"/>
<rect x="-4" y="15" width="1.1" height="1.1" fill="#0900ff"/>
<rect x="-3" y="15" width="1.1" height="1.1" fill="#0200ff"/>
<rect x="-2" y="15" width="1.1" height="1.1" fill="#0005ff"/>
<rect x="-1" y="15" width="1.1" height="1.1" fill="#000aff"/>
<rect x="0" y="15" width="1.1" height="1.1" fill="#000cff"/>
<rect x="1" y="15" width="1.1" height="1.1" fill="#000aff"/>
<rect x="2" y="15" width="1.1" height="1.1" fill="#0005ff"/>
<rect x="3" y="15" width="1.1" height="1.1" fill="#0200ff"/>
<rect x="4" y="15" width="1.1" height="1.1" fill="#0900ff"/>
<rect x="5" y="15" width="1.1" height="1.1" fill="#1200ff"/>
<rect x="6" y="15" width="1.1" height="1.1" fill="#1c00ff"/>
<rect x="7" y="15" width="1.1" height="1.1" fill="#2700ff"/>
<rect x="8" y="15" width="1.1" height="1.1" fill="#3100ff"/>
<rect x="9" y="15" width="1.1" height="1.1" fill="#3c00ff"/>
<rect x="10" y="15" width="1.1" height="1.1" fill="#4600ff"/>
<rect x="11" y="15" width="1.1" height="1.1" fill="#5000ff"/>
<rect x="12" y="15" width="1.1" height="1.1" fill="#5900ff"/>
<rect x="13" y="15" width="1.1" height="1.1" fill="#6100ff"/>
<rect x="14" y="15" width="1.1" height="1.1" fill="#6700ff"/>
<rect x="15" y="15" width="2.1" height="1.1" fill="#6d00ff"/>
<rect x="-16" y="16" width="2.1" height="1.1" fill="#6d00ff"/>
<rect x="-14" y="16" width="1.1" height="1.1" fill="#6700ff"/>
<rect x="-13" y="16" width="1.1" height="1.1" fill="#6100ff"/>
<rect x="-12" y="16" width="1.1" height="1.1" fill="#5900ff"/>
<rect x="-11" y="16" width="1.1" height="1.1" fill="#5000ff"/>
<rect x="-10" y="16" width="1.1" height="1.1" fill="#4600ff"/>
<rect x="-9" y="16" width="1.1" height="1.1" fill="#3c00ff"/>
<rect x="-8" y="16" width="1.1" height="1.1" fill="#3100ff"/>
<rect x="-7" y="16" width="1.1" height="1.1" fill="#2700ff"/>
<rect x="-6" y="16" width="1.1" height="1.1" fill="#1c00ff"/>
<rect x="-5" y="16" width="1.1" height="1.1" fill="#1200ff"/>
<rect x="-4" y="16" width="1.1" height="1.1" fill="#0900ff"/>
<rect x="-3" y="16" width="1.1" height="1.1" fill="#0200ff"/>
<rect x="-2" y="16" width="1.1" height="1.1" fill="#0005ff"/>
<rect x="-1" y="16" width="1.1" height="1.1" fill="#000aff"/>
<rect x="0" y="16" width="1.1" height="1.1" fill="#000cff"/>
<rect x="1" y="16" width="1.1" height="1.1" fill="#000aff"/>
<rect x="2" y="16" width="1.1" height="1.1" fill="#0005ff"/>
<rect x="3" y="16" width="1.1" height="1.1" fill="#0200ff"/>
<rect x="4" y="16" width="1.1" height="1.1" fill="#0900ff"/>
<rect x="5" y="16" width="1.1" height="1.1" fill="#1200ff"/>
<rect x="6" y="16" width="1.1" height="1.1" fill="#1c00ff"/>
<rect x="7" y="16" width="1.1" height="1.1" fill="#2700ff"/>
<rect x="8" y="16" width="1.1" height="1.1" fill="#3100ff"/>
<rect x="9" y="16" width="1.1" height="1.1" fill="#3c00ff"/>
<rect x="10" y="16" width="1.1" height="1.1" fill="#4600ff"/>
<rect x="11" y="16" width="1.1" height="1.1" fill="#5000ff"/>
<rect x="12" y="16" width="1.1" height="1.1" fill="#5900ff"/>
<rect x="13" y="16" width="1.1" height="1.1" fill="#6100ff"/>
<rect x="14" y="16" width="1.1" height="1.1" fill="#6700ff"/>
<rect x="15" y="16" width="2.1" height="1.1" fill="#6d00ff"/>
</g></g>
<clipPath id="cpc"><rect x="69.1" y="205.0" width="187.47" height="187.57"/></clipPath>
<g clip-path="url(#cpc)"><g transform="translate(156.57,292.57) scale(6.25)">
<rect x="-16" y="-16" width="2.1" height="1.1" fill="#ff5400"/>
<rect x="-14" y="-16" width="1.1" height="1.1" fill="#ff8500"/>
<rect x="-13" y="-16" width="1.1" height="1.1" fill="#ffa000"/>
<rect x="-12" y="-16" width="1.1" height="1.1" fill="#ffb900"/>
<rect x="-11" y="-16" width="1.1" height="1.1" fill="#ffdf00"/>
<rect x="-10" y="-16" width="1.1" height="1.1" fill="#faff00"/>
<rect x="-9" y="-16" width="1.1" height="1.1" fill="#c7ff00"/>
<rect x="-8" y="-16" width="1.1" height="1.1" fill="#99ff00"/>
<rect x="-7" y="-16" width="1.1" height="1.1" fill="#72ff00"/>
<rect x="-6" y="-16" width="1.1" height="1.1" fill="#50ff00"/>
<rect x="-5" y="-16" width="1.1" height="1.1" fill="#33ff00"/>
<rect x="-4" y="-16" width="1.1" height="1.1" fill="#20ff00"/>
<rect x="-3" y="-16" width="1.1" height="1.1" fill="#11ff00"/>
<rect x="-2" y="-16" width="1.1" height="1.1" fill="#06ff00"/>
<rect x="-1" y="-16" width="1.1" height="1.1" fill="#00ff01"/>
<rect x="0" y="-16" width="1.1" height="1.1" fill="#00ff04"/>
<rect x="1" y="-16" width="1.1" height="1.1" fill="#00ff01"/>
<rect x="2" y="-16" width="1.1" height="1.1" fill="#06ff00"/>
<rect x="3" y="-16" width="1.1" height="1.1" fill="#11ff00"/>
<rect x="4" y="-16" width="1.1" height="1.1" fill="#20ff00"/>
<rect x="5" y="-16" width="1.1" height="1.1" fill="#33ff00"/>
<rect x="6" y="-16" width="1.1" height="1.1" fill="#50ff00"/>
<rect x="7" y="-16" width="1.1" height="1.1" fill="#72ff00"/>
<rect x="8" y="-16" width="1.1" height="1.1" fill="#99ff00"/>
<rect x="9" y="-16" width="1.1" height="1.1" fill="#c7ff00"/>
<rect x="10" y="-16" width="1.1" height="1.1" fill="#faff00"/>
<rect x="11" y="-16" width="1.1" height="1.1" fill="#ffdf00"/>
<rect x="12" y="-16" width="1.1" height="1.1" fill="#ffb900"/>
<rect x="13" y="-16" width="1.1" height="1.1" fill="#ffa000"/>
<rect x="14" y="-16" width="1.1" height="1.1" fill="#ff8500"/>
<rect x="15" y="-16" width="2.1" height="1.1" fill="#ff5400"/>
<rect x="-16" y="-15" width="2.1" height="1.1" fill="#ff5400"/>
<rect x="-14" y="-15" width="1.1" height="1.1" fill="#ff8500"/>
<rect x="-13" y="-15" width="1.1" height="1.1" fill="#ffa000"/>
<rect x="-12" y="-15" width="1.1" height="1.1" fill="#ffb900"/>
<rect x="-11" y="-15" width="1.1" height="1.1" fill="#ffdf00"/>
<rect x="-10" y="-15" width="1.1" height="1.1" fill="#faff00"/>
<rect x="-9" y="-15" width="1.1" height="1.1" fill="#c7ff00"/>
<rect x="-8" y="-15" width="1.1" height="1.1" fill="#99ff00"/>
<rect x="-7" y="-15" width="1.1" height="1.1" fill="#72ff00"/>
<rect x="-6" y="-15" width="1.1" height="1.1" fill="#50ff00"/>
<rect x="-5" y="-15" width="1.1" height="1.1" fill="#33ff00"/>
<rect x="-4" y="-15" width="1.1" height="1.1" fill="#20ff00"/>
<rect x="-3" y="-15" width="1.1" height="1.1" fill="#11ff00"/>
<rect x="-2" y="-15" width="1.1" height="1.1" fill="#06ff00"/>
<rect x="-1" y="-15" width="1.1" height="1.1" fill="#00ff01"/>
<rect x="0" y="-15" width="1.1" height="1.1" fill="#00ff04"/>
<rect x="1" y="-15" width="1.1" height="1.1" fill="#00ff01"/>
<rect x="2" y="-15" width="1.1" height="1.1" fill="#06ff00"/>
<rect x="3" y="-15" width="1.1" height="1.1" fill="#11ff00"/>
<rect x="4" y="-15" width="1.1" height="1.1" fill="#20ff00"/>
<rect x="5" y="-15" width="1.1" height="1.1" fill="#33ff00"/>
<rect x="6" y="-15" width="1.1" height="1.1" fill="#50ff00"/>
<rect x="7" y="-15" width="1.1" height="1.1" fill="#72ff00"/>
<rect x="8" y="-15" width="1.1" height="1.1" fill="#99ff00"/>
<rect x="9" y="-15" width="1.1" height="1.1" fill="#c7ff00"/>
<rect x="10" y="-15" width="1.1" height="1.1" fill="#faff00"/>
<rect x="11" y="-15" width="1.1" height="1.1" fill="#ffdf00"/>
<rect x="12" y="-15" width="1.1" height="1.1" fill="#ffb900"/>
<rect x="13" y="-15" width="1.1" height="1.1" fill="#ffa000"/>
<rect x="14" y="-15" width="1.1" height="1.1" fill="#ff8500"/>
<rect x="15" y="-15" width="2.1" height="1.1" fill="#ff5400"/>
<rect x="-16" y="-14" width="2.1" height="1.1" fill="#ff8500"/>
<rect x="-14" y="-14" width="1.1" height="1.1" fill="#ffa200"/>
<rect x="-13" y="-14" width="1.1" height="1.1" fill="#ffbf00"/>
<rect x="-12" y="-14" width="1.1" height="1.1" fill="#ffe900"/>
<rect x="-11" y="-14" width="1.1" height="1.1" fill="#e5ff00"/>
<rect x="-10" y="-14" width="1.1" height="1.1" fill="#acff00"/>
<rect x="-9" y="-14" width="1.1" height="1.1" fill="#7aff00"/>
<rect x="-8" y="-14" width="1.1" height="1.1" fill="#4dff00"/>
<rect x="-7" y="-14" width="1.1" height="1.1" fill="#29ff00"/>
<rect x="-6" y="-14" width="1.1" height="1.1" fill="#0dff00"/>
<rect x="-5" y="-14" width="1.1" height="1.1" fill="#00ff11"/>
<rect x="-4" y="-14" width="1.1" height="1.1" fill="#00ff2f"/>
<rect x="-3" y="-14" width="1.1" height="1.1" fill="#00ff47"/>
<rect x="-2" y="-14" width="1.1" height="1.1" fill="#00ff58"/>
<rect x="-1" y="-14" width="1.1" height="1.1" fill="#00ff63"/>
<rect x="0" y="-14" width="1.1" height="1.1" fill="#00ff66"/>
<rect x="1" y="-14" width="1.1" height="1.1" fill="#00ff63"/>
<rect x="2" y="-14" width="1.1" height="1.1" fill="#00ff58"/>
<rect x="3" y="-14" width="1.1" height="1.1" fill="#00ff47"/>
<rect x="4" y="-14" width="1.1" height="1.1" fill="#00ff2f"/>
<rect x="5" y="-14" width="1.1" height="1.1" fill="#00ff11"/>
<rect x="6" y="-14" width="1.1" height="1.1" fill="#0dff00"/>
<rect x="7" y="-14" width="1.1" height="1.1" fill="#29ff00"/>
<rect x="8" y="-14" width="1.1" height="1.1" fill="#4dff00"/>
<rect x="9" y="-14" width="1.1" height="1.1" fill="#7aff00"/>
<rect x="10" y="-14" width="1.1" height="1.1" fill="#acff00"/>
<rect x="11" y="-14" width="1.1" height="1.1" fill="#e5ff00"/>
<rect x="12" y="-14" width="1.1" height="1.1" fill="#ffe900"/>
<rect x="13" y="-14" width="1.1" height="1.1" fill="#ffbf00"/>
<rect x="14" y="-14" width="1.1" height="1.1" fill="#ffa200"/>
<rect x="15" y="-14" width="2.1" height="1.1" fill="#ff8500"/>
<rect x="-16" y="-13" width="2.1" height="1.1" fill="#ffa000"/>
<rect x="-14" y="-13" width="1.1" height="1.1" fill="#ffbf00"/>
<rect x="-13" y="-13" width="1.1" height="1.1" fill="#ffec00"/>
<rect x="-12" y="-13" width="1.1" height="1.1" fill="#daff00"/>
<rect x="-11" y="-13" width="1.1" height="1.1" fill="#9bff00"/>
<rect x="-10" y="-13" width="1.1" height="1.1" fill="#65ff00"/>
<rect x="-9" y="-13" width="1.1" height="1.1" fill="#33ff00"/>
<rect x="-8" y="-13" width="1.1" height="1.1" fill="#0fff00"/>
<rect x="-7" y="-13" width="1.1" height="1.1" fill="#00ff1b"/>
<rect x="-6" y="-13" width="1.1" height="1.1" fill="#00ff47"/>
<rect x="-5" y="-13" width="1.1" height="1.1" fill="#00ff6f"/>
<rect x="-4" y="-13" width="1.1" height="1.1" fill="#00ff97"/>
<rect x="-3" y="-13" width="1.1" height="1.1" fill="#00ffb7"/>
<rect x="-2" y="-13" width="1.1" height="1.1" fill="#00ffce"/>
<rect x="-1" y="-13" width="1.1" height="1.1" fill="#00ffdc"/>
<rect x="0" y="-13" width="1.1" height="1.1" fill="#00ffe1"/>
<rect x="1" y="-13" width="1.1" height="1.1" fill="#00ffdc"/>
<rect x="2" y="-13" width="1.1" height="1.1" fill="#00ffce"/>
<rect x="3" y="-13" width="1.1" height="1.1" fill="#00ffb7"/>
<rect x="4" y="-13" width="1.1" height="1.1" fill="#00ff97"/>
<rect x="5" y="-13" width="1.1" height="1.1" fill="#00ff6f"/>
<rect x="6" y="-13" width="1.1" height="1.1" fill="#00ff47"/>
<rect x="7" y="-13" width="1.1" height="1.1" fill="#00ff1b"/>
<rect x="8" y="-13" width="1.1" height="1.1" fill="#0fff00"/>
<rect x="9" y="-13" width="1.1" height="1.1" fill="#33ff00"/>
<rect x="10" y="-13" width="1.1" height="1.1" fill="#65ff00"/>
<rect x="11" y="-13" width="1.1" height="1.1" fill="#9bff00"/>
<rect x="12" y="-13" width="1.1" height="1.1" fill="#daff00"/>
<rect x="13" y="-13" width="1.1" height="1.1" fill="#ffec00"/>
<rect x="14" y="-13" width="1.1" height="1.1" fill="#ffbf00"/>
<rect x="15" y="-13" width="2.1" height="1.1" fill="#ffa000"/>
<rect x="-16" y="-12" width="2.1" height="1.1" fill="#ffb900"/>
<rect x="-14" y="-12" width="1.1" height="1.1" fill="#ffe900"/>
<rect x="-13" y="-12" width="1.1" height="1.1" fill="#daff00"/>
<rect x="-12" y="-12" width="1.1" height="1.1" fill="#96ff00"/>
<rect x="-11" y="-12" width="1.1" height="1.1" fill="#5bff00"/>
<rect x="-10" y="-12" width="1.1" height="1.1" fill="#27ff00"/>
<rect x="-9" y="-12" width="1.1" height="1.1" fill="#00ff04"/>
<rect x="-8" y="-12" width="1.1" height="1.1" fill="#00ff3d"/>
<rect x="-7" y="-12" width="1.1" height="1.1" fill="#00ff73"/>
<rect x="-6" y="-12" width="1.1" height="1.1" fill="#00ffae"/>
<rect x="-5" y="-12" width="1.1" height="1.1" fill="#00ffe1"/>
<rect x="-4" y="-12" width="1.1" height="1.1" fill="#00f2ff"/>
<rect x="-3" y="-12" width="1.1" height="1.1" fill="#00cdff"/>
<rect x="-2" y="-12" width="1.1" height="1.1" fill="#00b2ff"/>
<rect x="-1" y="-12" width="1.1" height="1.1" fill="#00a1ff"/>
<rect x="0" y="-12" width="1.1" height="1.1" fill="#009cff"/>
<rect x="1" y="-12" width="1.1" height="1.1" fill="#00a1ff"/>
<rect x="2" y="-12" width="1.1" height="1.1" fill="#00b2ff"/>
<rect x="3" y="-12" width="1.1" height="1.1" fill="#00cdff"/>
<rect x="4" y="-12" width="1.1" height="1.1" fill="#00f2ff"/>
<rect x="5" y="-12" width="1.1" height="1.1" fill="#00ffe1"/>
<rect x="6" y="-12" width="1.1" height="1.1" fill="#00ffae"/>
<rect x="7" y="-12" width="1.1" height="1.1" fill="#00ff73"/>
<rect x="8" y="-12" width="1.1" height="1.1" fill="#00ff3d"/>
<rect x="9" y="-12" width="1.1" height="1.1" fill="#00ff04"/>
<rect x="10" y="-12" width="1.1" height="1.1" fill="#27ff00"/>
<rect x="11" y="-12" width="1.1" height="1.1" fill="#5bff00"/>
<rect x="12" y="-12" width="1.1" height="1.1" fill="#96ff00"/>
<rect x="13" y="-12" width="1.1" height="1.1" fill="#daff00"/>
<rect x="14" y="-12" width="1.1" height="1.1" fill="#ffe900"/>
<rect x="15" y="-12" width="2.1" height="1.1" fill="#ffb900"/>
<rect x="-16" y="-11" width="2.1" height="1.1" fill="#ffdf00"/>
<rect x="-14" y="-11" width="1.1" height="1.1" fill="#e5ff00"/>
<rect x="-13" y="-11" width="1.1" height="1.1" fill="#9bff00"/>
<rect x="-12" y="-11" width="1.1" height="1.1" fill="#5bff00"/>
<rect x="-11" y="-11" width="1.1" height="1.1" fill="#22ff00"/>
<rect x="-10" y="-11" width="1.1" height="1.1" fill="#00ff11"/>
<rect x="-9" y="-11" width="1.1" height="1.1" fill="#00ff51"/>
<rect x="-8" y="-11" width="1.1" height="1.1" fill="#00ff97"/>
<rect x="-7" y="-11" width="1.1" height="1.1" fill="#00ffdc"/>
<rect x="-6" y="-11" width="1.1" height="1.1" fill="#00e2ff"/>
<rect x="-5" y="-11" width="1.1" height="1.1" fill="#00a7ff"/>
<rect x="-4" y="-11" width="1.1" height="1.1" fill="#007dff"/>
<rect x="-3" y="-11" width="1.1" height="1.1" fill="#005eff"/>
<rect x="-2" y="-11" width="1.1" height="1.1" fill="#0047ff"/>
<rect x="-1" y="-11" width="1.1" height="1.1" fill="#0039ff"/>
<rect x="0" y="-11" width="1.1" height="1.1" fill="#0036ff"/>
<rect x="1" y="-11" width="1.1" height="1.1" fill="#0039ff"/>
<rect x="2" y="-11" width="1.1" height="1.1" fill="#0047ff"/>
<rect x="3" y="-11" width="1.1" height="1.1" fill="#005eff"/>
<rect x="4" y="-11" width="1.1" height="1.1" fill="#007dff"/>
<rect x="5" y="-11" width="1.1" height="1.1" fill="#00a7ff"/>
<rect x="6" y="-11" width="1.1" height="1.1" fill="#00e2ff"/>
<rect x="7" y="-11" width="1.1" height="1.1" fill="#00ffdc"/>
<rect x="8" y="-11" width="1.1" height="1.1" fill="#00ff97"/>
<rect x="9" y="-11" width="1.1" height="1.1" fill="#00ff51"/>
<rect x="10" y="-11" width="1.1" height="1.1" fill="#00ff11"/>
<rect x="11" y="-11" width="1.1" height="1.1" fill="#22ff00"/>
<rect x="12" y="-11" width="1.1" height="1.1" fill="#5bff00"/>
<rect x="13" y="-11" width="1.1" height="1.1" fill="#9bff00"/>
<rect x="14" y="-11" width="1.1" height="1.1" fill="#e5ff00"/>
<rect x="15" y="-11" width="2.1" height="1.1" fill="#ffdf00"/>
<rect x="-16" y="-10" width="2.1" height="1.1" fill="#faff00"/>
<rect x="-14" y="-10" width="1.1" height="1.1" fill="#acff00"/>
<rect x="-13" y="-10" width="1.1" height="1.1" fill="#65ff00"/>
<rect x="-12" y="-10" width="1.1" height="1.1" fill="#27ff00"/>
<rect x="-11" y="-10" width="1.1" height="1.1" fill="#00ff11"/>
<rect x="-10" y="-10" width="1.1" height="1.1" fill="#00ff58"/>
<rect x="-9" y="-10" width="1.1" height="1.1" fill="#00ffa9"/>
<rect x="-8" y="-10" width="1.1" height="1.1" fill="#00fff8"/>
<rect x="-7" y="-10" width="1.1" height="1.1" fill="#00b7ff"/>
<rect x="-6" y="-10" width="1.1" height="1.1" fill="#0079ff"/>
<rect x="-5" y="-10" width="1.1" height="1.1" fill="#0047ff"/>
<rect x="-4" y="-10" width="1.1" height="1.1" fill="#002aff"/>
<rect x="-3" y="-10" width="1.1" height="1.1" fill="#0018ff"/>
<rect x="-2" y="-10" width="1.1" height="1.1" fill="#000bff"/>
<rect x="-1" y="-10" width="1.1" height="1.1" fill="#0003ff"/>
<rect x="0" y="-10" width="1.1" height="1.1" fill="#0000ff"/>
<rect x="1" y="-10" width="1.1" height="1.1" fill="#0003ff"/>
<rect x="2" y="-10" width="1.1" height="1.1" fill="#000bff"/>
<rect x="3" y="-10" width="1.1" height="1.1" fill="#0018ff"/>
<rect x="4" y="-10" width="1.1" height="1.1" fill="#002aff"/>
<rect x="5" y="-10" width="1.1" height="1.1" fill="#0047ff"/>
<rect x="6" y="-10" width="1.1" height="1.1" fill="#0079ff"/>
<rect x="7" y="-10" width="1.1" height="1.1" fill="#00b7ff"/>
<rect x="8" y="-10" width="1.1" height="1.1" fill="#00fff8"/>
<rect x="9" y="-10" width="1.1" height="1.1" fill="#00ffa9"/>
<rect x="10" y="-10" width="1.1" height="1.1" fill="#00ff58"/>
<rect x="11" y="-10" width="1.1" height="1.1" fill="#00ff11"/>
<rect x="12" y="-10" width="1.1" height="1.1" fill="#27ff00"/>
<rect x="13" y="-10" width="1.1" height="1.1" fill="#65ff00"/>
<rect x="14" y="-10" width="1.1" height="1.1" fill="#acff00"/>
<rect x="15" y="-10" width="2.1" height="1.1" fill="#faff00"/>
<rect x="-16" y="-9" width="2.1" height="1.1" fill="#c7ff00"/>
<rect x="-14" y="-9" width="1.1" height="1.1" fill="#7aff00"/>
<rect x="-13" y="-9" width="1.1" height="1.1" fill="#33ff00"/>
<rect x="-12" y="-9" width="1.1" height="1.1" fill="#00ff04"/>
<rect x="-11" y="-9" width="1.1" height="1.1" fill="#00ff51"/>
<rect x="-10" y="-9" width="1.1" height="1.1" fill="#00ffa9"/>
<rect x="-9" y="-9" width="1.1" height="1.1" fill="#00fdff"/>
<rect x="-8" y="-9" width="1.1" height="1.1" fill="#00a1ff"/>
<rect x="-7" y="-9" width="1.1" height="1.1" fill="#005eff"/>
<rect x="-6" y="-9" width="1.1" height="1.1" fill="#002cff"/>
<rect x="-5" y="-9" width="1.1" height="1.1" fill="#0010ff"/>
<rect x="-4" y="-9" width="1.1" height="1.1" fill="#0900ff"/>
<rect x="-3" y="-9" width="1.1" height="1.1" fill="#2000ff"/>
<rect x="-2" y="-9" width="1.1" height="1.1" fill="#3100ff"/>
<rect x="-1" y="-9" width="1.1" height="1.1" fill="#3b00ff"/>
<rect x="0" y="-9" width="1.1" height="1.1" fill="#3f00ff"/>
<rect x="1" y="-9" width="1.1" height="1.1" fill="#3b00ff"/>
<rect x="2" y="-9" width="1.1" height="1.1" fill="#3100ff"/>
<rect x="3" y="-9" width="1.1" height="1.1" fill="#2000ff"/>
<rect x="4" y="-9" width="1.1" height="1.1" fill="#0900ff"/>
<rect x="5" y="-9" width="1.1" height="1.1" fill="#0010ff"/>
<rect x="6" y="-9" width="1.1" height="1.1" fill="#002cff"/>
<rect x="7" y="-9" width="1.1" height="1.1" fill="#005eff"/>
<rect x="8" y="-9" width="1.1" height="1.1" fill="#00a1ff"/>
<rect x="9" y="-9" width="1.1" height="1.1" fill="#00fdff"/>
<rect x="10" y="-9" width="1.1" height="1.1" fill="#00ffa9"/>
<rect x="11" y="-9" width="1.1" height="1.1" fill="#00ff51"/>
<rect x="12" y="-9" width="1.1" height="1.1" fill="#00ff04"/>
<rect x="13" y="-9" width="1.1" height="1.1" fill="#33ff00"/>
<rect x="14" y="-9" width="1.1" height="1.1" fill="#7aff00"/>
<rect x="15" y="-9" width="2.1" height="1.1" fill="#c7ff00"/>
<rect x="-16" y="-8" width="2.1" height="1.1" fill="#99ff00"/>
<rect x="-14" y="-8" width="1.1" height="1.1" fill="#4dff00"/>
<rect x="-13" y="-8" width="1.1" height="1.1" fill="#0fff00"/>
<rect x="-12" y="-8" width="1.1" height="1.1" fill="#00ff3d"/>
<rect x="-11" y="-8" width="1.1" height="1.1" fill="#00ff97"/>
<rect x="-10" y="-8" width="1.1" height="1.1" fill="#00fff8"/>
<rect x="-9" y="-8" width="1.1" height="1.1" fill="#00a1ff"/>
<rect x="-8" y="-8" width="1.1" height="1.1" fill="#0055ff"/>
<rect x="-7" y="-8" width="1.1" height="1.1" fill="#0022ff"/>
<rect x="-6" y="-8" width="1.1" height="1.1" fill="#0000ff"/>
<rect x="-5" y="-8" width="1.1" height="1.1" fill="#2300ff"/>
<rect x="-4" y="-8" width="1.1" height="1.1" fill="#4200ff"/>
<rect x="-3" y="-8" width="1.1" height="1.1" fill="#5900ff"/>
<rect x="-2" y="-8" width="1.1" height="1.1" fill="#6a00ff"/>
<rect x="-1" y="-8" width="1.1" height="1.1" fill="#7500ff"/>
<rect x="0" y="-8" width="1.1" height="1.1" fill="#7900ff"/>
<rect x="1" y="-8" width="1.1" height="1.1" fill="#7500ff"/>
<rect x="2" y="-8" width="1.1" height="1.1" fill="#6a00ff"/>
<rect x="3" y="-8" width="1.1" height="1.1" fill="#5900ff"/>
<rect x="4" y="-8" width="1.1" height="1.1" fill="#4200ff"/>
<rect x="5" y="-8" width="1.1" height="1.1" fill="#2300ff"/>
<rect x="6" y="-8" width="1.1" height="1.1" fill="#0000ff"/>
<rect x="7" y="-8" width="1.1" height="1.1" fill="#0022ff"/>
<rect x="8" y="-8" width="1.1" height="1.1" fill="#0055ff"/>
<rect x="9" y="-8" width="1.1" height="1.1" fill="#00a1ff"/>
<rect x="10" y="-8" width="1.1" height="1.1" fill="#00fff8"/>
<rect x="11" y="-8" width="1.1" height="1.1" fill="#00ff97"/>
<rect x="12" y="-8" width="1.1" height="1.1" fill="#00ff3d"/>
<rect x="13" y="-8" width="1.1" height="1.1" fill="#0fff00"/>
<rect x="14" y="-8" width="1.1" height="1.1" fill="#4dff00"/>
<rect x="15" y="-8" width="2.1" height="1.1" fill="#99ff00"/>
<rect x="-16" y="-7" width="2.1" height="1.1" fill="#72ff00"/>
<rect x="-14" y="-7" width="1.1" height="1.1" fill="#29ff00"/>
<rect x="-13" y="-7" width="1.1" height="1.1" fill="#00ff1b"/>
<rect x="-12" y="-7" width="1.1" height="1.1" fill="#00ff73"/>
<rect x="-11" y="-7" width="1.1" height="1.1" fill="#00ffdc"/>
<rect x="-10" y="-7" width="1.1" height="1.1" fill="#00b7ff"/>
<rect x="-9" y="-7" width="1.1" height="1.1" fill="#005eff"/>
<rect x="-8" y="-7" width="1.1" height="1.1" fill="#0022ff"/>
<rect x="-7" y="-7" width="1.1" height="1.1" fill="#0600ff"/>
<rect x="-6" y="-7" width="1.1" height="1.1" fill="#3100ff"/>
<rect x="-5" y="-7" width="1.1" height="1.1" fill="#5600ff"/>
<rect x="-4" y="-7" width="1.1" height="1.1" fill="#7500ff"/>
<rect x="-3" y="-7" width="1.1" height="1.1" fill="#7c00ff"/>
<rect x="-2" y="-7" width="1.1" height="1.1" fill="#8000ff"/>
<rect x="-1" y="-7" width="3.1" height="1.1" fill="#8200ff"/>
<rect x="2" y="-7" width="1.1" height="1.1" fill="#8000ff"/>
<rect x="3" y="-7" width="1.1" height="1.1" fill="#7c00ff"/>
<rect x="4" y="-7" width="1.1" height="1.1" fill="#7500ff"/>
<rect x="5" y="-7" width="1.1" height="1.1" fill="#5600ff"/>
<rect x="6" y="-7" width="1.1" height="1.1" fill="#3100ff"/>
<rect x="7" y="-7" width="1.1" height="1.1" fill="#0600ff"/>
<rect x="8" y="-7" width="1.1" height="1.1" fill="#0022ff"/>
<rect x="9" y="-7" width="1.1" height="1.1" fill="#005eff"/>
<rect x="10" y="-7" width="1.1" height="1.1" fill="#00b7ff"/>
<rect x="11" y="-7" width="1.1" height="1.1" fill="#00ffdc"/>
<rect x="12" y="-7" width="1.1" height="1.1" fill="#00ff73"/>
<rect x="13" y="-7" width="1.1" height="1.1" fill="#00ff1b"/>
<rect x="14" y="-7" width="1.1" height="1.1" fill="#29ff00"/>
<rect x="15" y="-7" width="2.1" height="1.1" fill="#72ff00"/>
<rect x="-16" y="-6" width="2.1" height="1.1" fill="#50ff00"/>
<rect x="-14" y="-6" width="1.1" height="1.1" fill="#0dff00"/>
<rect x="-13" y="-6" width="1.1" height="1.1" fill="#00ff47"/>
<rect x="-12" y="-6" width="1.1" height="1.1" fill="#00ffae"/>
<rect x="-11" y="-6" width="1.1" height="1.1" fill="#00e2ff"/>
<rect x="-10" y="-6" width="1.1" height="1.1" fill="#0079ff"/>
<rect x="-9" y="-6" width="1.1" height="1.1" fill="#002cff"/>
<rect x="-8" y="-6" width="1.1" height="1.1" fill="#0000ff"/>
<rect x="-7" y="-6" width="1.1" height="1.1" fill="#3100ff"/>
<rect x="-6" y="-6" width="1.1" height="1.1" fill="#5d00ff"/>
<rect x="-5" y="-6" width="1.1" height="1.1" fill="#7b00ff"/>
<rect x="-4" y="-6" width="1.1" height="1.1" fill="#8000ff"/>
<rect x="-3" y="-6" width="1.1" height="1.1" fill="#7e00ff"/>
<rect x="-2" y="-6" width="1.1" height="1.1" fill="#7a00ff"/>
<rect x="-1" y="-6" width="1.1" height="1.1" fill="#7800ff"/>
<rect x="0" y="-6" width="1.1" height="1.1" fill="#7700ff"/>
<rect x="1" y="-6" width="1.1" height="1.1" fill="#7800ff"/>
<rect x="2" y="-6" width="1.1" height="1.1" fill="#7a00ff"/>
<rect x="3" y="-6" width="1.1" height="1.1" fill="#7e00ff"/>
<rect x="4" y="-6" width="1.1" height="1.1" fill="#8000ff"/>
<rect x="5" y="-6" width="1.1" height="1.1" fill="#7b00ff"/>
<rect x="6" y="-6" width="1.1" height="1.1" fill="#5d00ff"/>
<rect x="7" y="-6" width="1.1" height="1.1" fill="#3100ff"/>
<rect x="8" y="-6" width="1.1" height="1.1" fill="#0000ff"/>
<rect x="9" y="-6" width="1.1" height="1.1" fill="#002cff"/>
<rect x="10" y="-6" width="1.1" height="1.1" fill="#0079ff"/>
<rect x="11" y="-6" width="1.1" height="1.1" fill="#00e2ff"/>
<rect x="12" y="-6" width="1.1" height="1.1" fill="#00ffae"/>
<rect x="13" y="-6" width="1.1" height="1.1" fill="#00ff47"/>
<rect x="14" y="-6" width="1.1" height="1.1" fill="#0dff00"/>
<rect x="15" y="-6" width="2.1" height="1.1" fill="#50ff00"/>
<rect x="-16" y="-5" width="2.1" height="1.1" fill="#33ff00"/>
<rect x="-14" y="-5" width="1.1" height="1.1" fill="#00ff11"/>
<rect x="-13" y="-5" width="1.1" height="1.1" fill="#00ff6f"/>
<rect x="-12" y="-5" width="1.1" height="1.1" fill="#00ffe1"/>
<rect x="-11" y="-5" width="1.1" height="1.1" fill="#00a7ff"/>
<rect x="-10" y="-5" width="1.1" height="1.1" fill="#0047ff"/>
<rect x="-9" y="-5" width="1.1" height="1.1" fill="#0010ff"/>
<rect x="-8" y="-5" width="1.1" height="1.1" fill="#2300ff"/>
<rect x="-7" y="-5" width="1.1" height="1.1" fill="#5600ff"/>
<rect x="-6" y="-5" width="1.1" height="1.1" fill="#7b00ff"/>
<rect x="-5" y="-5" width="1.1" height="1.1" fill="#8200ff"/>
<rect x="-4" y="-5" width="1.1" height="1.1" fill="#7b00ff"/>
<rect x="-3" y="-5" width="1.1" height="1.1" fill="#6e00ff"/>
<rect x="-2" y="-5" width="1.1" height="1.1" fill="#5500ff"/>
<rect x="-1" y="-5" width="1.1" height="1.1" fill="#4100ff"/>
<rect x="0" y="-5" width="1.1" height="1.1" fill="#3a00ff"/>
<rect x="1" y="-5" width="1.1" height="1.1" fill="#4100ff"/>
<rect x="2" y="-5" width="1.1" height="1.1" fill="#5500ff"/>
<rect x="3" y="-5" width="1.1" height="1.1" fill="#6e00ff"/>
<rect x="4" y="-5" width="1.1" height="1.1" fill="#7b00ff"/>
<rect x="5" y="-5" width="1.1" height="1.1" fill="#8200ff"/>
<rect x="6" y="-5" width="1.1" height="1.1" fill="#7b00ff"/>
<rect x="7" y="-5" width="1.1" height="1.1" fill="#5600ff"/>
<rect x="8" y="-5" width="1.1" height="1.1" fill="#2300ff"/>
<rect x="9" y="-5" width="1.1" height="1.1" fill="#0010ff"/>
<rect x="10" y="-5" width="1.1" height="1.1" fill="#0047ff"/>
<rect x="11" y="-5" width="1.1" height="1.1" fill="#00a7ff"/>
<rect x="12" y="-5" width="1.1" height="1.1" fill="#00ffe1"/>
<rect x="13" y="-5" width="1.1" height="1.1" fill="#00ff6f"/>
<rect x="14" y="-5" width="1.1" height="1.1" fill="#00ff11"/>
<rect x="15" y="-5" width="2.1" height="1.1" fill="#33ff00"/>
<rect x="-16" y="-4" width="2.1" height="1.1" fill="#20ff00"/>
<rect x="-14" y="-4" width="1.1" height="1.1" fill="#00ff2f"/>
<rect x="-13" y="-4" width="1.1" height="1.1" fill="#00ff97"/>
<rect x="-12" y="-4" width="1.1" height="1.1" fill="#00f2ff"/>
<rect x="-11" y="-4" width="1.1" height="1.1" fill="#007dff"/>
<rect x="-10" y="-4" width="1.1" height="1.1" fill="#002aff"/>
<rect x="-9" y="-4" width="1.1" height="1.1" fill="#0900ff"/>
<rect x="-8" y="-4" width="1.1" height="1.1" fill="#4200ff"/>
<rect x="-7" y="-4" width="1.1" height="1.1" fill="#7500ff"/>
<rect x="-6" y="-4" width="1.1" height="1.1" fill="#8000ff"/>
<rect x="-5" y="-4" width="1.1" height="1.1" fill="#7b00ff"/>
<rect x="-4" y="-4" width="1.1" height="1.1" fill="#6400ff"/>
<rect x="-3" y="-4" width="1.1" height="1.1" fill="#3a00ff"/>
<rect x="-2" y="-4" width="1.1" height="1.1" fill="#1200ff"/>
<rect x="-1" y="-4" width="1.1" height="1.1" fill="#002aff"/>
<rect x="0" y="-4" width="1.1" height="1.1" fill="#0047ff"/>
<rect x="1" y="-4" width="1.1" height="1.1" fill="#002aff"/>
<rect x="2" y="-4" width="1.1" height="1.1" fill="#1200ff"/>
<rect x="3" y="-4" width="1.1" height="1.1" fill="#3a00ff"/>
<rect x="4" y="-4" width="1.1" height="1.1" fill="#6400ff"/>
<rect x="5" y="-4" width="1.1" height="1.1" fill="#7b00ff"/>
<rect x="6" y="-4" width="1.1" height="1.1" fill="#8000ff"/>
<rect x="7" y="-4" width="1.1" height="1.1" fill="#7500ff"/>
<rect x="8" y="-4" width="1.1" height="1.1" fill="#4200ff"/>
<rect x="9" y="-4" width="1.1" height="1.1" fill="#0900ff"/>
<rect x="10" y="-4" width="1.1" height="1.1" fill="#002aff"/>
<rect x="11" y="-4" width="1.1" height="1.1" fill="#007dff"/>
<rect x="12" y="-4" width="1.1" height="1.1" fill="#00f2ff"/>
<rect x="13" y="-4" width="1.1" height="1.1" fill="#00ff97"/>
<rect x="14" y="-4" width="1.1" height="1.1" fill="#00ff2f"/>
<rect x="15" y="-4" width="2.1" height="1.1" fill="#20ff00"/>
<rect x="-16" y="-3" width="2.1" height="1.1" fill="#11ff00"/>
<rect x="-14" y="-3" width="1.1" height="1.1" fill="#00ff47"/>
<rect x="-13" y="-3" width="1.1" height="1.1" fill="#00ffb7"/>
<rect x="-12" y="-3" width="1.1" height="1.1" fill="#00cdff"/>
<rect x="-11" y="-3" width="1.1" height="1.1" fill="#005eff"/>
<rect x="-10" y="-3" width="1.1" height="1.1" fill="#0018ff"/>
<rect x="-9" y="-3" width="1.1" height="1.1" fill="#2000ff"/>
<rect x="-8" y="-3" width="1.1" height="1.1" fill="#5900ff"/>
<rect x="-7" y="-3" width="1.1" height="1.1" fill="#7c00ff"/>
<rect x="-6" y="-3" width="1.1" height="1.1" fill="#7e00ff"/>
<rect x="-5" y="-3" width="1.1" height="1.1" fill="#6e00ff"/>
<rect x="-4" y="-3" width="1.1" height="1.1" fill="#3a00ff"/>
<rect x="-3" y="-3" width="1.1" height="1.1" fill="#000eff"/>
<rect x="-2" y="-3" width="1.1" height="1.1" fill="#008dff"/>
<rect x="-1" y="-3" width="1.1" height="1.1" fill="#00f2ff"/>
<rect x="0" y="-3" width="1.1" height="1.1" fill="#00ffe5"/>
<rect x="1" y="-3" width="1.1" height="1.1" fill="#00f2ff"/>
<rect x="2" y="-3" width="1.1" height="1.1" fill="#008dff"/>
<rect x="3" y="-3" width="1.1" height="1.1" fill="#000eff"/>
<rect x="4" y="-3" width="1.1" height="1.1" fill="#3a00ff"/>
<rect x="5" y="-3" width="1.1" height="1.1" fill="#6e00ff"/>
<rect x="6" y="-3" width="1.1" height="1.1" fill="#7e00ff"/>
<rect x="7" y="-3" width="1.1" height="1.1" fill="#7c00ff"/>
<rect x="8" y="-3" width="1.1" height="1.1" fill="#5900ff"/>
<rect x="9" y="-3" width="1.1" height="1.1" fill="#2000ff"/>
<rect x="10" y="-3" width="1.1" height="1.1" fill="#0018ff"/>
<rect x="11" y="-3" width="1.1" height="1.1" fill="#005eff"/>
<rect x="12" y="-3" width="1.1" height="1.1" fill="#00cdff"/>
<rect x="13" y="-3" width="1.1" height="1.1" fill="#00ffb7"/>
<rect x="14" y="-3" width="1.1" height="1.1" fill="#00ff47"/>
<rect x="15" y="-3" width="2.1" height="1.1" fill="#11ff00"/>
<rect x="-16" y="-2" width="2.1" height="1.1" fill="#06ff00"/>
<rect x="-14" y="-2" width="1.1" height="1.1" fill="#00ff58"/>
<rect x="-13" y="-2" width="1.1" height="1.1" fill="#00ffce"/>
<rect x="-12" y="-2" width="1.1" height="1.1" fill="#00b2ff"/>
<rect x="-11" y="-2" width="1.1" height="1.1" fill="#0047ff"/>
<rect x="-10" y="-2" width="1.1" height="1.1" fill="#000bff"/>
<rect x="-9" y="-2" width="1.1" height="1.1" fill="#3100ff"/>
<rect x="-8" y="-2" width="1.1" height="1.1" fill="#6a00ff"/>
<rect x="-7" y="-2" width="1.1" height="1.1" fill="#8000ff"/>
<rect x="-6" y="-2" width="1.1" height="1.1" fill="#7a00ff"/>
<rect x="-5" y="-2" width="1.1" height="1.1" fill="#5500ff"/>
<rect x="-4" y="-2" width="1.1" height="1.1" fill="#1200ff"/>
<rect x="-3" y="-2" width="1.1" height="1.1" fill="#008dff"/>
<rect x="-2" y="-2" width="1.1" height="1.1" fill="#00ff8b"/>
<rect x="-1" y="-2" width="1.1" height="1.1" fill="#00ff0c"/>
<rect x="0" y="-2" width="1.1" height="1.1" fill="#20ff00"/>
<rect x="1" y="-2" width="1.1" height="1.1" fill="#00ff0c"/>
<rect x="2" y="-2" width="1.1" height="1.1" fill="#00ff8b"/>
<rect x="3" y="-2" width="1.1" height="1.1" fill="#008dff"/>
<rect x="4" y="-2" width="1.1" height="1.1" fill="#1200ff"/>
<rect x="5" y="-2" width="1.1" height="1.1" fill="#5500ff"/>
<rect x="6" y="-2" width="1.1" height="1.1" fill="#7a00ff"/>
<rect x="7" y="-2" width="1.1" height="1.1" fill="#8000ff"/>
<rect x="8" y="-2" width="1.1" height="1.1" fill="#6a00ff"/>
<rect x="9" y="-2" width="1.1" height="1.1" fill="#3100ff"/>
<rect x="10" y="-2" width="1.1" height="1.1" fill="#000bff"/>
<rect x="11" y="-2" width="1.1" height="1.1" fill="#0047ff"/>
<rect x="12" y="-2" width="1.1" height="1.1" fill="#00b2ff"/>
<rect x="13" y="-2" width="1.1" height="1.1" fill="#00ffce"/>
<rect x="14" y="-2" width="1.1" height="1.1" fill="#00ff58"/>
<rect x="15" y="-2" width="2.1" height="1.1" fill="#06ff00"/>
<rect x="-16" y="-1" width="2.1" height="1.1" fill="#00ff01"/>
<rect x="-14" y="-1" width="1.1" height="1.1" fill="#00ff63"/>
<rect x="-13" y="-1" width="1.1" height="1.1" fill="#00ffdc"/>
<rect x="-12" y="-1" width="1.1" height="1.1" fill="#00a1ff"/>
<rect x="-11" y="-1" width="1.1" height="1.1" fill="#0039ff"/>
<rect x="-10" y="-1" width="1.1" height="1.1" fill="#0003ff"/>
<rect x="-9" y="-1" width="1.1" height="1.1" fill="#3b00ff"/>
<rect x="-8" y="-1" width="1.1" height="1.1" fill="#7500ff"/>
<rect x="-7" y="-1" width="1.1" height="1.1" fill="#8200ff"/>
<rect x="-6" y="-1" width="1.1" height="1.1" fill="#7800ff"/>
<rect x="-5" y="-1" width="1.1" height="1.1" fill="#4100ff"/>
<rect x="-4" y="-1" width="1.1" height="1.1" fill="#002aff"/>
<rect x="-3" y="-1" width="1.1" height="1.1" fill="#00f2ff"/>
<rect x="-2" y="-1" width="1.1" height="1.1" fill="#00ff0c"/>
<rect x="-1" y="-1" width="1.1" height="1.1" fill="#94ff00"/>
<rect x="0" y="-1" width="1.1" height="1.1" fill="#fff500"/>
<rect x="1" y="-1" width="1.1" height="1.1" fill="#94ff00"/>
<rect x="2" y="-1" width="1.1" height="1.1" fill="#00ff0c"/>
<rect x="3" y="-1" width="1.1" height="1.1" fill="#00f2ff"/>
<rect x="4" y="-1" width="1.1" height="1.1" fill="#002aff"/>
<rect x="5" y="-1" width="1.1" height="1.1" fill="#4100ff"/>
<rect x="6" y="-1" width="1.1" height="1.1" fill="#7800ff"/>
<rect x="7" y="-1" width="1.1" height="1.1" fill="#8200ff"/>
<rect x="8" y="-1" width="1.1" height="1.1" fill="#7500ff"/>
<rect x="9" y="-1" width="1.1" height="1.1" fill="#3b00ff"/>
<rect x="10" y="-1" width="1.1" height="1.1" fill="#0003ff"/>
<rect x="11" y="-1" width="1.1" height="1.1" fill="#0039ff"/>
<rect x="12" y="-1" width="1.1" height="1.1" fill="#00a1ff"/>
<rect x="13" y="-1" width="1.1" height="1.1" fill="#00ffdc"/>
<rect x="14" y="-1" width="1.1" height="1.1" fill="#00ff63"/>
<rect x="15" y="-1" width="2.1" height="1.1" fill="#00ff01"/>
<rect x="-16" y="0" width="2.1" height="1.1" fill="#00ff04"/>
<rect x="-14" y="0" width="1.1" height="1.1" fill="#00ff66"/>
<rect x="-13" y="0" width="1.1" height="1.1" fill="#00ffe1"/>
<rect x="-12" y="0" width="1.1" height="1.1" fill="#009cff"/>
<rect x="-11" y="0" width="1.1" height="1.1" fill="#0036ff"/>
<rect x="-10" y="0" width="1.1" height="1.1" fill="#0000ff"/>
<rect x="-9" y="0" width="1.1" height="1.1" fill="#3f00ff"/>
<rect x="-8" y="0" width="1.1" height="1.1" fill="#7900ff"/>
<rect x="-7" y="0" width="1.1" height="1.1" fill="#8200ff"/>
<rect x="-6" y="0" width="1.1" height="1.1" fill="#7700ff"/>
<rect x="-5" y="0" width="1.1" height="1.1" fill="#3a00ff"/>
<rect x="-4" y="0" width="1.1" height="1.1" fill="#0047ff"/>
<rect x="-3" y="0" width="1.1" height="1.1" fill="#00ffe5"/>
<rect x="-2" y="0" width="1.1" height="1.1" fill="#20ff00"/>
<rect x="-1" y="0" width="1.1" height="1.1" fill="#fff500"/>
<rect x="0" y="0" width="1.1" height="1.1" fill="#ff0000"/>
<rect x="1" y="0" width="1.1" height="1.1" fill="#fff500"/>
<rect x="2" y="0" width="1.1" height="1.1" fill="#20ff00"/>
<rect x="3" y="0" width="1.1" height="1.1" fill="#00ffe5"/>
<rect x="4" y="0" width="1.1" height="1.1" fill="#0047ff"/>
<rect x="5" y="0" width="1.1" height="1.1" fill="#3a00ff"/>
<rect x="6" y="0" width="1.1" height="1.1" fill="#7700ff"/>
<rect x="7" y="0" width="1.1" height="1.1" fill="#8200ff"/>
<rect x="8" y="0" width="1.1" height="1.1" fill="#7900ff"/>
<rect x="9" y="0" width="1.1" height="1.1" fill="#3f00ff"/>
<rect x="10" y="0" width="1.1" height="1.1" fill="#0000ff"/>
<rect x="11" y="0" width="1.1" height="1.1" fill="#0036ff"/>
<rect x="12" y="0" width="1.1" height="1.1" fill="#009cff"/>
<rect x="13" y="0" width="1.1" height="1.1" fill="#00ffe1"/>
<rect x="14" y="0" width="1.1" height="1.1" fill="#00ff66"/>
<rect x="15" y="0" width="2.1" height="1.1" fill="#00ff04"/>
<rect x="-16" y="1" width="2.1" height="1.1" fill="#00ff01"/>
<rect x="-14" y="1" width="1.1" height="1.1" fill="#00ff63"/>
<rect x="-13" y="1" width="1.1" height="1.1" fill="#00ffdc"/>
<rect x="-12" y="1" width="1.1" height="1.1" fill="#00a1ff"/>
<rect x="-11" y="1" width="1.1" height="1.1" fill="#0039ff"/>
<rect x="-10" y="1" width="1.1" height="1.1" fill="#0003ff"/>
<rect x="-9" y="1" width="1.1" height="1.1" fill="#3b00ff"/>
<rect x="-8" y="1" width="1.1" height="1.1" fill="#7500ff"/>
<rect x="-7" y="1" width="1.1" height="1.1" fill="#8200ff"/>
<rect x="-6" y="1" width="1.1" height="1.1" fill="#7800ff"/>
<rect x="-5" y="1" width="1.1" height="1.1" fill="#4100ff"/>
<rect x="-4" y="1" width="1.1" height="1.1" fill="#002aff"/>
<rect x="-3" y="1" width="1.1" height="1.1" fill="#00f2ff"/>
<rect x="-2" y="1" width="1.1" height="1.1" fill="#00ff0c"/>
<rect x="-1" y="1" width="1.1" height="1.1" fill="#94ff00"/>
<rect x="0" y="1" width="1.1" height="1.1" fill="#fff500"/>
<rect x="1" y="1" width="1.1" height="1.1" fill="#94ff00"/>
<rect x="2" y="1" width="1.1" height="1.1" fill="#00ff0c"/>
<rect x="3" y="1" width="1.1" height="1.1" fill="#00f2ff"/>
<rect x="4" y="1" width="1.1" height="1.1" fill="#002aff"/>
<rect x="5" y="1" width="1.1" height="1.1" fill="#4100ff"/>
<rect x="6" y="1" width="1.1" height="1.1" fill="#7800ff"/>
<rect x="7" y="1" width="1.1" height="1.1" fill="#8200ff"/>
<rect x="8" y="1" width="1.1" height="1.1" fill="#7500ff"/>
<rect x="9" y="1" width="1.1" height="1.1" fill="#3b00ff"/>
<rect x="10" y="1" width="1.1" height="1.1" fill="#0003ff"/>
<rect x="11" y="1" width="1.1" height="1.1" fill="#0039ff"/>
<rect x="12" y="1" width="1.1" height="1.1" fill="#00a1ff"/>
<rect x="13" y="1" width="1.1" height="1.1" fill="#00ffdc"/>
<rect x="14" y="1" width="1.1" height="1.1" fill="#00ff63"/>
<rect x="15" y="1" width="2.1" height="1.1" fill="#00ff01"/>
<rect x="-16" y="2" width="2.1" height="1.1" fill="#06ff00"/>
<rect x="-14" y="2" width="1.1" height="1.1" fill="#00ff58"/>
<rect x="-13" y="2" width="1.1" height="1.1" fill="#00ffce"/>
<rect x="-12" y="2" width="1.1" height="1.1" fill="#00b2ff"/>
<rect x="-11" y="2" width="1.1" height="1.1" fill="#0047ff"/>
<rect x="-10" y="2" width="1.1" height="1.1" fill="#000bff"/>
<rect x="-9" y="2" width="1.1" height="1.1" fill="#3100ff"/>
<rect x="-8" y="2" width="1.1" height="1.1" fill="#6a00ff"/>
<rect x="-7" y="2" width="1.1" height="1.1" fill="#8000ff"/>
<rect x="-6" y="2" width="1.1" height="1.1" fill="#7a00ff"/>
<rect x="-5" y="2" width="1.1" height="1.1" fill="#5500ff"/>
<rect x="-4" y="2" width="1.1" height="1.1" fill="#1200ff"/>
<rect x="-3" y="2" width="1.1" height="1.1" fill="#008dff"/>
<rect x="-2" y="2" width="1.1" height="1.1" fill="#00ff8b"/>
<rect x="-1" y="2" width="1.1" height="1.1" fill="#00ff0c"/>
<rect x="0" y="2" width="1.1" height="1.1" fill="#20ff00"/>
<rect x="1" y="2" width="1.1" height="1.1" fill="#00ff0c"/>
<rect x="2" y="2" width="1.1" height="1.1" fill="#00ff8b"/>
<rect x="3" y="2" width="1.1" height="1.1" fill="#008dff"/>
<rect x="4" y="2" width="1.1" height="1.1" fill="#1200ff"/>
<rect x="5" y="2" width="1.1" height="1.1" fill="#5500ff"/>
<rect x="6" y="2" width="1.1" height="1.1" fill="#7a00ff"/>
<rect x="7" y="2" width="1.1" height="1.1" fill="#8000ff"/>
<rect x="8" y="2" width="1.1" height="1.1" fill="#6a00ff"/>
<rect x="9" y="2" width="1.1" height="1.1" fill="#3100ff"/>
<rect x="10" y="2" width="1.1" height="1.1" fill="#000bff"/>
<rect x="11" y="2" width="1.1" height="1.1" fill="#0047ff"/>
<rect x="12" y="2" width="1.1" height="1.1" fill="#00b2ff"/>
<rect x="13" y="2" width="1.1" height="1.1" fill="#00ffce"/>
<rect x="14" y="2" width="1.1" height="1.1" fill="#00ff58"/>
<rect x="15" y="2" width="2.1" height="1.1" fill="#06ff00"/>
<rect x="-16" y="3" width="2.1" height="1.1" fill="#11ff00"/>
<rect x="-14" y="3" width="1.1" height="1.1" fill="#00ff47"/>
<rect x="-13" y="3" width="1.1" height="1.1" fill="#00ffb7"/>
<rect x="-12" y="3" width="1.1" height="1.1" fill="#00cdff"/>
<rect x="-11" y="3" width="1.1" height="1.1" fill="#005eff"/>
<rect x="-10" y="3" width="1.1" height="1.1" fill="#0018ff"/>
<rect x="-9" y="3" width="1.1" height="1.1" fill="#2000ff"/>
<rect x="-8" y="3" width="1.1" height="1.1" fill="#5900ff"/>
<rect x="-7" y="3" width="1.1" height="1.1" fill="#7c00ff"/>
<rect x="-6" y="3" width="1.1" height="1.1" fill="#7e00ff"/>
<rect x="-5" y="3" width="1.1" height="1.1" fill="#6e00ff"/>
<rect x="-4" y="3" width="1.1" height="1.1" fill="#3a00ff"/>
<rect x="-3" y="3" width="1.1" height="1.1" fill="#000eff"/>
<rect x="-2" y="3" width="1.1" height="1.1" fill="#008dff"/>
<rect x="-1" y="3" width="1.1" height="1.1" fill="#00f2ff"/>
<rect x="0" y="3" width="1.1" height="1.1" fill="#00ffe5"/>
<rect x="1" y="3" width="1.1" height="1.1" fill="#00f2ff"/>
<rect x="2" y="3" width="1.1" height="1.1" fill="#008dff"/>
<rect x="3" y="3" width="1.1" height="1.1" fill="#000eff"/>
<rect x="4" y="3" width="1.1" height="1.1" fill="#3a00ff"/>
<rect x="5" y="3" width="1.1" height="1.1" fill="#6e00ff"/>
<rect x="6" y="3" width="1.1" height="1.1" fill="#7e00ff"/>
<rect x="7" y="3" width="1.1" height="1.1" fill="#7c00ff"/>
<rect x="8" y="3" width="1.1" height="1.1" fill="#5900ff"/>
<rect x="9" y="3" width="1.1" height="1.1" fill="#2000ff"/>
<rect x="10" y="3" width="1.1" height="1.1" fill="#0018ff"/>
<rect x="11" y="3" width="1.1" height="1.1" fill="#005eff"/>
<rect x="12" y="3" width="1.1" height="1.1" fill="#00cdff"/>
<rect x="13" y="3" width="1.1" height="1.1" fill="#00ffb7"/>
<rect x="14" y="3" width="1.1" height="1.1" fill="#00ff47"/>
<rect x="15" y="3" width="2.1" height="1.1" fill="#11ff00"/>
<rect x="-16" y="4" width="2.1" height="1.1" fill="#20ff00"/>
<rect x="-14" y="4" width="1.1" height="1.1" fill="#00ff2f"/>
<rect x="-13" y="4" width="1.1" height="1.1" fill="#00ff97"/>
<rect x="-12" y="4" width="1.1" height="1.1" fill="#00f2ff"/>
<rect x="-11" y="4" width="1.1" height="1.1" fill="#007dff"/>
<rect x="-10" y="4" width="1.1" height="1.1" fill="#002aff"/>
<rect x="-9" y="4" width="1.1" height="1.1" fill="#0900ff"/>
<rect x="-8" y="4" width="1.1" height="1.1" fill="#4200ff"/>
<rect x="-7" y="4" width="1.1" height="1.1" fill="#7500ff"/>
<rect x="-6" y="4" width="1.1" height="1.1" fill="#8000ff"/>
<rect x="-5" y="4" width="1.1" height="1.1" fill="#7b00ff"/>
<rect x="-4" y="4" width="1.1" height="1.1" fill="#6400ff"/>
<rect x="-3" y="4" width="1.1" height="1.1" fill="#3a00ff"/>
<rect x="-2" y="4" width="1.1" height="1.1" fill="#1200ff"/>
<rect x="-1" y="4" width="1.1" height="1.1" fill="#002aff"/>
<rect x="0" y="4" width="1.1" height="1.1" fill="#0047ff"/>
<rect x="1" y="4" width="1.1" height="1.1" fill="#002aff"/>
<rect x="2" y="4" width="1.1" height="1.1" fill="#1200ff"/>
<rect x="3" y="4" width="1.1" height="1.1" fill="#3a00ff"/>
<rect x="4" y="4" width="1.1" height="1.1" fill="#6400ff"/>
<rect x="5" y="4" width="1.1" height="1.1" fill="#7b00ff"/>
<rect x="6" y="4" width="1.1" height="1.1" fill="#8000ff"/>
<rect x="7" y="4" width="1.1" height="1.1" fill="#7500ff"/>
<rect x="8" y="4" width="1.1" height="1.1" fill="#4200ff"/>
<rect x="9" y="4" width="1.1" height="1.1" fill="#0900ff"/>
<rect x="10" y="4" width="1.1" height="1.1" fill="#002aff"/>
<rect x="11" y="4" width="1.1" height="1.1" fill="#007dff"/>
<rect x="12" y="4" width="1.1" height="1.1" fill="#00f2ff"/>
<rect x="13" y="4" width="1.1" height="1.1" fill="#00ff97"/>
<rect x="14" y="4" width="1.1" height="1.1" fill="#00ff2f"/>
<rect x="15" y="4" width="2.1" height="1.1" fill="#20ff00"/>
<rect x="-16" y="5" width="2.1" height="1.1" fill="#33ff00"/>
<rect x="-14" y="5" width="1.1" height="1.1" fill="#00ff11"/>
<rect x="-13" y="5" width="1.1" height="1.1" fill="#00ff6f"/>
<rect x="-12" y="5" width="1.1" height="1.1" fill="#00ffe1"/>
<rect x="-11" y="5" width="1.1" height="1.1" fill="#00a7ff"/>
<rect x="-10" y="5" width="1.1" height="1.1" fill="#0047ff"/>
<rect x="-9" y="5" width="1.1" height="1.1" fill="#0010ff"/>
<rect x="-8" y="5" width="1.1" height="1.1" fill="#2300ff"/>
<rect x="-7" y="5" width="1.1" height="1.1" fill="#5600ff"/>
<rect x="-6" y="5" width="1.1" height="1.1" fill="#7b00ff"/>
<rect x="-5" y="5" width="1.1" height="1.1" fill="#8200ff"/>
<rect x="-4" y="5" width="1.1" height="1.1" fill="#7b00ff"/>
<rect x="-3" y="5" width="1.1" height="1.1" fill="#6e00ff"/>
<rect x="-2" y="5" width="1.1" height="1.1" fill="#5500ff"/>
<rect x="-1" y="5" width="1.1" height="1.1" fill="#4100ff"/>
<rect x="0" y="5" width="1.1" height="1.1" fill="#3a00ff"/>
<rect x="1" y="5" width="1.1" height="1.1" fill="#4100ff"/>
<rect x="2" y="5" width="1.1" height="1.1" fill="#5500ff"/>
<rect x="3" y="5" width="1.1" height="1.1" fill="#6e00ff"/>
<rect x="4" y="5" width="1.1" height="1.1" fill="#7b00ff"/>
<rect x="5" y="5" width="1.1" height="1.1" fill="#8200ff"/>
<rect x="6" y="5" width="1.1" height="1.1" fill="#7b00ff"/>
<rect x="7" y="5" width="1.1" height="1.1" fill="#5600ff"/>
<rect x="8" y="5" width="1.1" height="1.1" fill="#2300ff"/>
<rect x="9" y="5" width="1.1" height="1.1" fill="#0010ff"/>
<rect x="10" y="5" width="1.1" height="1.1" fill="#0047ff"/>
<rect x="11" y="5" width="1.1" height="1.1" fill="#00a7ff"/>
<rect x="12" y="5" width="1.1" height="1.1" fill="#00ffe1"/>
<rect x="13" y="5" width="1.1" height="1.1" fill="#00ff6f"/>
<rect x="14" y="5" width="1.1" height="1.1" fill="#00ff11"/>
<rect x="15" y="5" width="2.1" height="1.1" fill="#33ff00"/>
<rect x="-16" y="6" width="2.1" height="1.1" fill="#50ff00"/>
<rect x="-14" y="6" width="1.1" height="1.1" fill="#0dff00"/>
<rect x="-13" y="6" width="1.1" height="1.1" fill="#00ff47"/>
<rect x="-12" y="6" width="1.1" height="1.1" fill="#00ffae"/>
<rect x="-11" y="6" width="1.1" height="1.1" fill="#00e2ff"/>
<rect x="-10" y="6" width="1.1" height="1.1" fill="#0079ff"/>
<rect x="-9" y="6" width="1.1" height="1.1" fill="#002cff"/>
<rect x="-8" y="6" width="1.1" height="1.1" fill="#0000ff"/>
<rect x="-7" y="6" width="1.1" height="1.1" fill="#3100ff"/>
<rect x="-6" y="6" width="1.1" height="1.1" fill="#5d00ff"/>
<rect x="-5" y="6" width="1.1" height="1.1" fill="#7b00ff"/>
<rect x="-4" y="6" width="1.1" height="1.1" fill="#8000ff"/>
<rect x="-3" y="6" width="1.1" height="1.1" fill="#7e00ff"/>
<rect x="-2" y="6" width="1.1" height="1.1" fill="#7a00ff"/>
<rect x="-1" y="6" width="1.1" height="1.1" fill="#7800ff"/>
<rect x="0" y="6" width="1.1" height="1.1" fill="#7700ff"/>
<rect x="1" y="6" width="1.1" height="1.1" fill="#7800ff"/>
<rect x="2" y="6" width="1.1" height="1.1" fill="#7a00ff"/>
<rect x="3" y="6" width="1.1" height="1.1" fill="#7e00ff"/>
<rect x="4" y="6" width="1.1" height="1.1" fill="#8000ff"/>
<rect x="5" y="6" width="1.1" height="1.1" fill="#7b00ff"/>
<rect x="6" y="6" width="1.1" height="1.1" fill="#5d00ff"/>
<rect x="7" y="6" width="1.1" height="1.1" fill="#3100ff"/>
<rect x="8" y="6" width="1.1" height="1.1" fill="#0000ff"/>
<rect x="9" y="6" width="1.1" height="1.1" fill="#002cff"/>
<rect x="10" y="6" width="1.1" height="1.1" fill="#0079ff"/>
<rect x="11" y="6" width="1.1" height="1.1" fill="#00e2ff"/>
<rect x="12" y="6" width="1.1" height="1.1" fill="#00ffae"/>
<rect x="13" y="6" width="1.1" height="1.1" fill="#00ff47"/>
<rect x="14" y="6" width="1.1" height="1.1" fill="#0dff00"/>
<rect x="15" y="6" width="2.1" height="1.1" fill="#50ff00"/>
<rect x="-16" y="7" width="2.1" height="1.1" fill="#72ff00"/>
<rect x="-14" y="7" width="1.1" height="1.1" fill="#29ff00"/>
<rect x="-13" y="7" width="1.1" height="1.1" fill="#00ff1b"/>
<rect x="-12" y="7" width="1.1" height="1.1" fill="#00ff73"/>
<rect x="-11" y="7" width="1.1" height="1.1" fill="#00ffdc"/>
<rect x="-10" y="7" width="1.1" height="1.1" fill="#00b7ff"/>
<rect x="-9" y="7" width="1.1" height="1.1" fill="#005eff"/>
<rect x="-8" y="7" width="1.1" height="1.1" fill="#0022ff"/>
<rect x="-7" y="7" width="1.1" height="1.1" fill="#0600ff"/>
<rect x="-6" y="7" width="1.1" height="1.1" fill="#3100ff"/>
<rect x="-5" y="7" width="1.1" height="1.1" fill="#5600ff"/>
<rect x="-4" y="7" width="1.1" height="1.1" fill="#7500ff"/>
<rect x="-3" y="7" width="1.1" height="1.1" fill="#7c00ff"/>
<rect x="-2" y="7" width="1.1" height="1.1" fill="#8000ff"/>
<rect x="-1" y="7" width="3.1" height="1.1" fill="#8200ff"/>
<rect x="2" y="7" width="1.1" height="1.1" fill="#8000ff"/>
<rect x="3" y="7" width="1.1" height="1.1" fill="#7c00ff"/>
<rect x="4" y="7" width="1.1" height="1.1" fill="#7500ff"/>
<rect x="5" y="7" width="1.1" height="1.1" fill="#5600ff"/>
<rect x="6" y="7" width="1.1" height="1.1" fill="#3100ff"/>
<rect x="7" y="7" width="1.1" height="1.1" fill="#0600ff"/>
<rect x="8" y="7" width="1.1" height="1.1" fill="#0022ff"/>
<rect x="9" y="7" width="1.1" height="1.1" fill="#005eff"/>
<rect x="10" y="7" width="1.1" height="1.1" fill="#00b7ff"/>
<rect x="11" y="7" width="1.1" height="1.1" fill="#00ffdc"/>
<rect x="12" y="7" width="1.1" height="1.1" fill="#00ff73"/>
<rect x="13" y="7" width="1.1" height="1.1" fill="#00ff1b"/>
<rect x="14" y="7" width="1.1" height="1.1" fill="#29ff00"/>
<rect x="15" y="7" width="2.1" height="1.1" fill="#72ff00"/>
<rect x="-16" y="8" width="2.1" height="1.1" fill="#99ff00"/>
<rect x="-14" y="8" width="1.1" height="1.1" fill="#4dff00"/>
<rect x="-13" y="8" width="1.1" height="1.1" fill="#0fff00"/>
<rect x="-12" y="8" width="1.1" height="1.1" fill="#00ff3d"/>
<rect x="-11" y="8" width="1.1" height="1.1" fill="#00ff97"/>
<rect x="-10" y="8" width="1.1" height="1.1" fill="#00fff8"/>
<rect x="-9" y="8" width="1.1" height="1.1" fill="#00a1ff"/>
<rect x="-8" y="8" width="1.1" height="1.1" fill="#0055ff"/>
<rect x="-7" y="8" width="1.1" height="1.1" fill="#0022ff"/>
<rect x="-6" y="8" width="1.1" height="1.1" fill="#0000ff"/>
<rect x="-5" y="8" width="1.1" height="1.1" fill="#2300ff"/>
<rect x="-4" y="8" width="1.1" height="1.1" fill="#4200ff"/>
<rect x="-3" y="8" width="1.1" height="1.1" fill="#5900ff"/>
<rect x="-2" y="8" width="1.1" height="1.1" fill="#6a00ff"/>
<rect x="-1" y="8" width="1.1" height="1.1" fill="#7500ff"/>
<rect x="0" y="8" width="1.1" height="1.1" fill="#7900ff"/>
<rect x="1" y="8" width="1.1" height="1.1" fill="#7500ff"/>
<rect x="2" y="8" width="1.1" height="1.1" fill="#6a00ff"/>
<rect x="3" y="8" width="1.1" height="1.1" fill="#5900ff"/>
<rect x="4" y="8" width="1.1" height="1.1" fill="#4200ff"/>
<rect x="5" y="8" width="1.1" height="1.1" fill="#2300ff"/>
<rect x="6" y="8" width="1.1" height="1.1" fill="#0000ff"/>
<rect x="7" y="8" width="1.1" height="1.1" fill="#0022ff"/>
<rect x="8" y="8" width="1.1" height="1.1" fill="#0055ff"/>
<rect x="9" y="8" width="1.1" height="1.1" fill="#00a1ff"/>
<rect x="10" y="8" width="1.1" height="1.1" fill="#00fff8"/>
<rect x="11" y="8" width="1.1" height="1.1" fill="#00ff97"/>
<rect x="12" y="8" width="1.1" height="1.1" fill="#00ff3d"/>
<rect x="13" y="8" width="1.1" height="1.1" fill="#0fff00"/>
<rect x="14" y="8" width="1.1" height="1.1" fill="#4dff00"/>
<rect x="15" y="8" width="2.1" height="1.1" fill="#99ff00"/>
<rect x="-16" y="9" width="2.1" height="1.1" fill="#c7ff00"/>
<rect x="-14" y="9" width="1.1" height="1.1" fill="#7aff00"/>
<rect x="-13" y="9" width="1.1" height="1.1" fill="#33ff00"/>
<rect x="-12" y="9" width="1.1" height="1.1" fill="#00ff04"/>
<rect x="-11" y="9" width="1.1" height="1.1" fill="#00ff51"/>
<rect x="-10" y="9" width="1.1" height="1.1" fill="#00ffa9"/>
<rect x="-9" y="9" width="1.1" height="1.1" fill="#00fdff"/>
<rect x="-8" y="9" width="1.1" height="1.1" fill="#00a1ff"/>
<rect x="-7" y="9" width="1.1" height="1.1" fill="#005eff"/>
<rect x="-6" y="9" width="1.1" height="1.1" fill="#002cff"/>
<rect x="-5" y="9" width="1.1" height="1.1" fill="#0010ff"/>
<rect x="-4" y="9" width="1.1" height="1.1" fill="#0900ff"/>
<rect x="-3" y="9" width="1.1" height="1.1" fill="#2000ff"/>
<rect x="-2" y="9" width="1.1" height="1.1" fill="#3100ff"/>
<rect x="-1" y="9" width="1.1" height="1.1" fill="#3b00ff"/>
<rect x="0" y="9" width="1.1" height="1.1" fill="#3f00ff"/>
<rect x="1" y="9" width="1.1" height="1.1" fill="#3b00ff"/>
<rect x="2" y="9" width="1.1" height="1.1" fill="#3100ff"/>
<rect x="3" y="9" width="1.1" height="1.1" fill="#2000ff"/>
<rect x="4" y="9" width="1.1" height="1.1" fill="#0900ff"/>
<rect x="5" y="9" width="1.1" height="1.1" fill="#0010ff"/>
<rect x="6" y="9" width="1.1" height="1.1" fill="#002cff"/>
<rect x="7" y="9" width="1.1" height="1.1" fill="#005eff"/>
<rect x="8" y="9" width="1.1" height="1.1" fill="#00a1ff"/>
<rect x="9" y="9" width="1.1" height="1.1" fill="#00fdff"/>
<rect x="10" y="9" width="1.1" height="1.1" fill="#00ffa9"/>
<rect x="11" y="9" width="1.1" height="1.1" fill="#00ff51"/>
<rect x="12" y="9" width="1.1" height="1.1" fill="#00ff04"/>
<rect x="13" y="9" width="1.1" height="1.1" fill="#33ff00"/>
<rect x="14" y="9" width="1.1" height="1.1" fill="#7aff00"/>
<rect x="15" y="9" width="2.1" height="1.1" fill="#c7ff00"/>
<rect x="-16" y="10" width="2.1" height="1.1" fill="#faff00"/>
<rect x="-14" y="10" width="1.1" height="1.1" fill="#acff00"/>
<rect x="-13" y="10" width="1.1" height="1.1" fill="#65ff00"/>
<rect x="-12" y="10" width="1.1" height="1.1" fill="#27ff00"/>
<rect x="-11" y="10" width="1.1" height="1.1" fill="#00ff11"/>
<rect x="-10" y="10" width="1.1" height="1.1" fill="#00ff58"/>
<rect x="-9" y="10" width="1.1" height="1.1" fill="#00ffa9"/>
<rect x="-8" y="10" width="1.1" height="1.1" fill="#00fff8"/>
<rect x="-7" y="10" width="1.1" height="1.1" fill="#00b7ff"/>
<rect x="-6" y="10" width="1.1" height="1.1" fill="#0079ff"/>
<rect x="-5" y="10" width="1.1" height="1.1" fill="#0047ff"/>
<rect x="-4" y="10" width="1.1" height="1.1" fill="#002aff"/>
<rect x="-3" y="10" width="1.1" height="1.1" fill="#0018ff"/>
<rect x="-2" y="10" width="1.1" height="1.1" fill="#000bff"/>
<rect x="-1" y="10" width="1.1" height="1.1" fill="#0003ff"/>
<rect x="0" y="10" width="1.1" height="1.1" fill="#0000ff"/>
<rect x="1" y="10" width="1.1" height="1.1" fill="#0003ff"/>
<rect x="2" y="10" width="1.1" height="1.1" fill="#000bff"/>
<rect x="3" y="10" width="1.1" height="1.1" fill="#0018ff"/>
<rect x="4" y="10" width="1.1" height="1.1" fill="#002aff"/>
<rect x="5" y="10" width="1.1" height="1.1" fill="#0047ff"/>
<rect x="6" y="10" width="1.1" height="1.1" fill="#0079ff"/>
<rect x="7" y="10" width="1.1" height="1.1" fill="#00b7ff"/>
<rect x="8" y="10" width="1.1" height="1.1" fill="#00fff8"/>
<rect x="9" y="10" width="1.1" height="1.1" fill="#00ffa9"/>
<rect x="10" y="10" width="1.1" height="1.1" fill="#00ff58"/>
<rect x="11" y="10" width="1.1" height="1.1" fill="#00ff11"/>
<rect x="12" y="10" width="1.1" height="1.1" fill="#27ff00"/>
<rect x="13" y="10" width="1.1" height="1.1" fill="#65ff00"/>
<rect x="14" y="10" width="1.1" height="1.1" fill="#acff00"/>
<rect x="15" y="10" width="2.1" height="1.1" fill="#faff00"/>
<rect x="-16" y="11" width="2.1" height="1.1" fill="#ffdf00"/>
<rect x="-14" y="11" width="1.1" height="1.1" fill="#e5ff00"/>
<rect x="-13" y="11" width="1.1" height="1.1" fill="#9bff00"/>
<rect x="-12" y="11" width="1.1" height="1.1" fill="#5bff00"/>
<rect x="-11" y="11" width="1.1" height="1.1" fill="#22ff00"/>
<rect x="-10" y="11" width="1.1" height="1.1" fill="#00ff11"/>
<rect x="-9" y="11" width="1.1" height="1.1" fill="#00ff51"/>
<rect x="-8" y="11" width="1.1" height="1.1" fill="#00ff97"/>
<rect x="-7" y="11" width="1.1" height="1.1" fill="#00ffdc"/>
<rect x="-6" y="11" width="1.1" height="1.1" fill="#00e2ff"/>
<rect x="-5" y="11" width="1.1" height="1.1" fill="#00a7ff"/>
<rect x="-4" y="11" width="1.1" height="1.1" fill="#007dff"/>
<rect x="-3" y="11" width="1.1" height="1.1" fill="#005eff"/>
<rect x="-2" y="11" width="1.1" height="1.1" fill="#0047ff"/>
<rect x="-1" y="11" width="1.1" height="1.1" fill="#0039ff"/>
<rect x="0" y="11" width="1.1" height="1.1" fill="#0036ff"/>
<rect x="1" y="11" width="1.1" height="1.1" fill="#0039ff"/>
<rect x="2" y="11" width="1.1" height="1.1" fill="#0047ff"/>
<rect x="3" y="11" width="1.1" height="1.1" fill="#005eff"/>
<rect x="4" y="11" width="1.1" height="1.1" fill="#007dff"/>
<rect x="5" y="11" width="1.1" height="1.1" fill="#00a7ff"/>
<rect x="6" y="11" width="1.1" height="1.1" fill="#00e2ff"/>
<rect x="7" y="11" width="1.1" height="1.1" fill="#00ffdc"/>
<rect x="8" y="11" width="1.1" height="1.1" fill="#00ff97"/>
<rect x="9" y="11" width="1.1" height="1.1" fill="#00ff51"/>
<rect x="10" y="11" width="1.1" height="1.1" fill="#00ff11"/>
<rect x="11" y="11" width="1.1" height="1.1" fill="#22ff00"/>
<rect x="12" y="11" width="1.1" height="1.1" fill="#5bff00"/>
<rect x="13" y="11" width="1.1" height="1.1" fill="#9bff00"/>
<rect x="14" y="11" width="1.1" height="1.1" fill="#e5ff00"/>
<rect x="15" y="11" width="2.1" height="1.1" fill="#ffdf00"/>
<rect x="-16" y="12" width="2.1" height="1.1" fill="#ffb900"/>
<rect x="-14" y="12" width="1.1" height="1.1" fill="#ffe900"/>
<rect x="-13" y="12" width="1.1" height="1.1" fill="#daff00"/>
<rect x="-12" y="12" width="1.1" height="1.1" fill="#96ff00"/>
<rect x="-11" y="12" width="1.1" height="1.1" fill="#5bff00"/>
<rect x="-10" y="12" width="1.1" height="1.1" fill="#27ff00"/>
<rect x="-9" y="12" width="1.1" height="1.1" fill="#00ff04"/>
<rect x="-8" y="12" width="1.1" height="1.1" fill="#00ff3d"/>
<rect x="-7" y="12" width="1.1" height="1.1" fill="#00ff73"/>
<rect x="-6" y="12" width="1.1" height="1.1" fill="#00ffae"/>
<rect x="-5" y="12" width="1.1" height="1.1" fill="#00ffe1"/>
<rect x="-4" y="12" width="1.1" height="1.1" fill="#00f2ff"/>
<rect x="-3" y="12" width="1.1" height="1.1" fill="#00cdff"/>
<rect x="-2" y="12" width="1.1" height="1.1" fill="#00b2ff"/>
<rect x="-1" y="12" width="1.1" height="1.1" fill="#00a1ff"/>
<rect x="0" y="12" width="1.1" height="1.1" fill="#009cff"/>
<rect x="1" y="12" width="1.1" height="1.1" fill="#00a1ff"/>
<rect x="2" y="12" width="1.1" height="1.1" fill="#00b2ff"/>
<rect x="3" y="12" width="1.1" height="1.1" fill="#00cdff"/>
<rect x="4" y="12" width="1.1" height="1.1" fill="#00f2ff"/>
<rect x="5" y="12" width="1.1" height="1.1" fill="#00ffe1"/>
<rect x="6" y="12" width="1.1" height="1.1" fill="#00ffae"/>
<rect x="7" y="12" width="1.1" height="1.1" fill="#00ff73"/>
<rect x="8" y="12" width="1.1" height="1.1" fill="#00ff3d"/>
<rect x="9" y="12" width="1.1" height="1.1" fill="#00ff04"/>
<rect x="10" y="12" width="1.1" height="1.1" fill="#27ff00"/>
<rect x="11" y="12" width="1.1" height="1.1" fill="#5bff00"/>
<rect x="12" y="12" width="1.1" height="1.1" fill="#96ff00"/>
<rect x="13" y="12" width="1.1" height="1.1" fill="#daff00"/>
<rect x="14" y="12" width="1.1" height="1.1" fill="#ffe900"/>
<rect x="15" y="12" width="2.1" height="1.1" fill="#ffb900"/>
<rect x="-16" y="13" width="2.1" height="1.1" fill="#ffa000"/>
<rect x="-14" y="13" width="1.1" height="1.1" fill="#ffbf00"/>
<rect x="-13" y="13" width="1.1" height="1.1" fill="#ffec00"/>
<rect x="-12" y="13" width="1.1" height="1.1" fill="#daff00"/>
<rect x="-11" y="13" width="1.1" height="1.1" fill="#9bff00"/>
<rect x="-10" y="13" width="1.1" height="1.1" fill="#65ff00"/>
<rect x="-9" y="13" width="1.1" height="1.1" fill="#33ff00"/>
<rect x="-8" y="13" width="1.1" height="1.1" fill="#0fff00"/>
<rect x="-7" y="13" width="1.1" height="1.1" fill="#00ff1b"/>
<rect x="-6" y="13" width="1.1" height="1.1" fill="#00ff47"/>
<rect x="-5" y="13" width="1.1" height="1.1" fill="#00ff6f"/>
<rect x="-4" y="13" width="1.1" height="1.1" fill="#00ff97"/>
<rect x="-3" y="13" width="1.1" height="1.1" fill="#00ffb7"/>
<rect x="-2" y="13" width="1.1" height="1.1" fill="#00ffce"/>
<rect x="-1" y="13" width="1.1" height="1.1" fill="#00ffdc"/>
<rect x="0" y="13" width="1.1" height="1.1" fill="#00ffe1"/>
<rect x="1" y="13" width="1.1" height="1.1" fill="#00ffdc"/>
<rect x="2" y="13" width="1.1" height="1.1" fill="#00ffce"/>
<rect x="3" y="13" width="1.1" height="1.1" fill="#00ffb7"/>
<rect x="4" y="13" width="1.1" height="1.1" fill="#00ff97"/>
<rect x="5" y="13" width="1.1" height="1.1" fill="#00ff6f"/>
<rect x="6" y="13" width="1.1" height="1.1" fill="#00ff47"/>
<rect x="7" y="13" width="1.1" height="1.1" fill="#00ff1b"/>
<rect x="8" y="13" width="1.1" height="1.1" fill="#0fff00"/>
<rect x="9" y="13" width="1.1" height="1.1" fill="#33ff00"/>
<rect x="10" y="13" width="1.1" height="1.1" fill="#65ff00"/>
<rect x="11" y="13" width="1.1" height="1.1" fill="#9bff00"/>
<rect x="12" y="13" width="1.1" height="1.1" fill="#daff00"/>
<rect x="13" y="13" width="1.1" height="1.1" fill="#ffec00"/>
<rect x="14" y="13" width="1.1" height="1.1" fill="#ffbf00"/>
<rect x="15" y="13" width="2.1" height="1.1" fill="#ffa000"/>
<rect x="-16" y="14" width="2.1" height="1.1" fill="#ff8500"/>
<rect x="-14" y="14" width="1.1" height="1.1" fill="#ffa200"/>
<rect x="-13" y="14" width="1.1" height="1.1" fill="#ffbf00"/>
<rect x="-12" y="14" width="1.1" height="1.1" fill="#ffe900"/>
<rect x="-11" y="14" width="1.1" height="1.1" fill="#e5ff00"/>
<rect x="-10" y="14" width="1.1" height="1.1" fill="#acff00"/>
<rect x="-9" y="14" width="1.1" height="1.1" fill="#7aff00"/>
<rect x="-8" y="14" width="1.1" height="1.1" fill="#4dff00"/>
<rect x="-7" y="14" width="1.1" height="1.1" fill="#29ff00"/>
<rect x="-6" y="14" width="1.1" height="1.1" fill="#0dff00"/>
<rect x="-5" y="14" width="1.1" height="1.1" fill="#00ff11"/>
<rect x="-4" y="14" width="1.1" height="1.1" fill="#00ff2f"/>
<rect x="-3" y="14" width="1.1" height="1.1" fill="#00ff47"/>
<rect x="-2" y="14" width="1.1" height="1.1" fill="#00ff58"/>
<rect x="-1" y="14" width="1.1" height="1.1" fill="#00ff63"/>
<rect x="0" y="14" width="1.1" height="1.1" fill="#00ff66"/>
<rect x="1" y="14" width="1.1" height="1.1" fill="#00ff63"/>
<rect x="2" y="14" width="1.1" height="1.1" fill="#00ff58"/>
<rect x="3" y="14" width="1.1" height="1.1" fill="#00ff47"/>
<rect x="4" y="14" width="1.1" height="1.1" fill="#00ff2f"/>
<rect x="5" y="14" width="1.1" height="1.1" fill="#00ff11"/>
<rect x="6" y="14" width="1.1" height="1.1" fill="#0dff00"/>
<rect x="7" y="14" width="1.1" height="1.1" fill="#29ff00"/>
<rect x="8" y="14" width="1.1" height="1.1" fill="#4dff00"/>
<rect x="9" y="14" width="1.1" height="1.1" fill="#7aff00"/>
<rect x="10" y="14" width="1.1" height="1.1" fill="#acff00"/>
<rect x="11" y="14" width="1.1" height="1.1" fill="#e5ff00"/>
<rect x="12" y="14" width="1.1" height="1.1" fill="#ffe900"/>
<rect x="13" y="14" width="1.1" height="1.1" fill="#ffbf00"/>
<rect x="14" y="14" width="1.1" height="1.1" fill="#ffa200"/>
<rect x="15" y="14" width="2.1" height="1.1" fill="#ff8500"/>
<rect x="-16" y="15" width="2.1" height="1.1" fill="#ff5400"/>
<rect x="-14" y="15" width="1.1" height="1.1" fill="#ff8500"/>
<rect x="-13" y="15" width="1.1" height="1.1" fill="#ffa000"/>
<rect x="-12" y="15" width="1.1" height="1.1" fill="#ffb900"/>
<rect x="-11" y="15" width="1.1" height="1.1" fill="#ffdf00"/>
<rect x="-10" y="15" width="1.1" height="1.1" fill="#faff00"/>
<rect x="-9" y="15" width="1.1" height="1.1" fill="#c7ff00"/>
<rect x="-8" y="15" width="1.1" height="1.1" fill="#99ff00"/>
<rect x="-7" y="15" width="1.1" height="1.1" fill="#72ff00"/>
<rect x="-6" y="15" width="1.1" height="1.1" fill="#50ff00"/>
<rect x="-5" y="15" width="1.1" height="1.1" fill="#33ff00"/>
<rect x="-4" y="15" width="1.1" height="1.1" fill="#20ff00"/>
<rect x="-3" y="15" width="1.1" height="1.1" fill="#11ff00"/>
<rect x="-2" y="15" width="1.1" height="1.1" fill="#06ff00"/>
<rect x="-1" y="15" width="1.1" height="1.1" fill="#00ff01"/>
<rect x="0" y="15" width="1.1" height="1.1" fill="#00ff04"/>
<rect x="1" y="15" width="1.1" height="1.1" fill="#00ff01"/>
<rect x="2" y="15" width="1.1" height="1.1" fill="#06ff00"/>
<rect x="3" y="15" width="1.1" height="1.1" fill="#11ff00"/>
<rect x="4" y="15" width="1.1" height="1.1" fill="#20ff00"/>
<rect x="5" y="15" width="1.1" height="1.1" fill="#33ff00"/>
<rect x="6" y="15" width="1.1" height="1.1" fill="#50ff00"/>
<rect x="7" y="15" width="1.1" height="1.1" fill="#72ff00"/>
<rect x="8" y="15" width="1.1" height="1.1" fill="#99ff00"/>
<rect x="9" y="15" width="1.1" height="1.1" fill="#c7ff00"/>
<rect x="10" y="15" width="1.1" height="1.1" fill="#faff00"/>
<rect x="11" y="15" width="1.1" height="1.1" fill="#ffdf00"/>
<rect x="12" y="15" width="1.1" height="1.1" fill="#ffb900"/>
<rect x="13" y="15" width="1.1" height="1.1" fill="#ffa000"/>
<rect x="14" y="15" width="1.1" height="1.1" fill="#ff8500"/>
<rect x="15" y="15" width="2.1" height="1.1" fill="#ff5400"/>
<rect x="-16" y="16" width="2.1" height="1.1" fill="#ff5400"/>
<rect x="-14" y="16" width="1.1" height="1.1" fill="#ff8500"/>
<rect x="-13" y="16" width="1.1" height="1.1" fill="#ffa000"/>
<rect x="-12" y="16" width="1.1" height="1.1" fill="#ffb900"/>
<rect x="-11" y="16" width="1.1" height="1.1" fill="#ffdf00"/>
<rect x="-10" y="16" width="1.1" height="1.1" fill="#faff00"/>
<rect x="-9" y="16" width="1.1" height="1.1" fill="#c7ff00"/>
<rect x="-8" y="16" width="1.1" height="1.1" fill="#99ff00"/>
<rect x="-7" y="16" width="1.1" height="1.1" fill="#72ff00"/>
<rect x="-6" y="16" width="1.1" height="1.1" fill="#50ff00"/>
<rect x="-5" y="16" width="1.1" height="1.1" fill="#33ff00"/>
<rect x="-4" y="16" width="1.1" height="1.1" fill="#20ff00"/>
<rect x="-3" y="16" width="1.1" height="1.1" fill="#11ff00"/>
<rect x="-2" y="16" width="1.1" height="1.1" fill="#06ff00"/>
<rect x="-1" y="16" width="1.1" height="1.1" fill="#00ff01"/>
<rect x="0" y="16" width="1.1" height="1.1" fill="#00ff04"/>
<rect x="1" y="16" width="1.1" height="1.1" fill="#00ff01"/>
<rect x="2" y="16" width="1.1" height="1.1" fill="#06ff00"/>
<rect x="3" y="16" width="1.1" height="1.1" fill="#11ff00"/>
<rect x="4" y="16" width="1.1" height="1.1" fill="#20ff00"/>
<rect x="5" y="16" width="1.1" height="1.1" fill="#33ff00"/>
<rect x="6" y="16" width="1.1" height="1.1" fill="#50ff00"/>
<rect x="7" y="16" width="1.1" height="1.1" fill="#72ff00"/>
<rect x="8" y="16" width="1.1" height="1.1" fill="#99ff00"/>
<rect x="9" y="16" width="1.1" height="1.1" fill="#c7ff00"/>
<rect x="10" y="16" width="1.1" height="1.1" fill="#faff00"/>
<rect x="11" y="16" width="1.1" height="1.1" fill="#ffdf00"/>
<rect x="12" y="16" width="1.1" height="1.1" fill="#ffb900"/>
<rect x="13" y="16" width="1.1" height="1.1" fill="#ffa000"/>
<rect x="14" y="16" width="1.1" height="1.1" fill="#ff8500"/>
<rect x="15" y="16" width="2.1" height="1.1" fill="#ff5400"/>
</g></g>
<clipPath id="cpd"><rect x="265.90000000000003" y="204.4" width="187.97" height="188.37"/></clipPath>
<g clip-path="url(#cpd)"><g transform="translate(353.88,292.77) scale(6.25)">
<rect x="-16" y="-16" width="2.1" height="1.1" fill="#ff3c00"/>
<rect x="-14" y="-16" width="1.1" height="1.1" fill="#ff4e00"/>
<rect x="-13" y="-16" width="1.1" height="1.1" fill="#ff6500"/>
<rect x="-12" y="-16" width="1.1" height="1.1" fill="#ff7900"/>
<rect x="-11" y="-16" width="1.1" height="1.1" fill="#ff8a00"/>
<rect x="-10" y="-16" width="1.1" height="1.1" fill="#ffaf00"/>
<rect x="-9" y="-16" width="1.1" height="1.1" fill="#ffcc00"/>
<rect x="-8" y="-16" width="1.1" height="1.1" fill="#ffe800"/>
<rect x="-7" y="-16" width="1.1" height="1.1" fill="#faff00"/>
<rect x="-6" y="-16" width="1.1" height="1.1" fill="#e1ff00"/>
<rect x="-5" y="-16" width="1.1" height="1.1" fill="#cbff00"/>
<rect x="-4" y="-16" width="1.1" height="1.1" fill="#b7ff00"/>
<rect x="-3" y="-16" width="1.1" height="1.1" fill="#a4ff00"/>
<rect x="-2" y="-16" width="1.1" height="1.1" fill="#97ff00"/>
<rect x="-1" y="-16" width="1.1" height="1.1" fill="#8fff00"/>
<rect x="0" y="-16" width="1.1" height="1.1" fill="#8cff00"/>
<rect x="1" y="-16" width="1.1" height="1.1" fill="#8fff00"/>
<rect x="2" y="-16" width="1.1" height="1.1" fill="#97ff00"/>
<rect x="3" y="-16" width="1.1" height="1.1" fill="#a4ff00"/>
<rect x="4" y="-16" width="1.1" height="1.1" fill="#b7ff00"/>
<rect x="5" y="-16" width="1.1" height="1.1" fill="#cbff00"/>
<rect x="6" y="-16" width="1.1" height="1.1" fill="#e1ff00"/>
<rect x="7" y="-16" width="1.1" height="1.1" fill="#faff00"/>
<rect x="8" y="-16" width="1.1" height="1.1" fill="#ffe800"/>
<rect x="9" y="-16" width="1.1" height="1.1" fill="#ffcc00"/>
<rect x="10" y="-16" width="1.1" height="1.1" fill="#ffaf00"/>
<rect x="11" y="-16" width="1.1" height="1.1" fill="#ff8a00"/>
<rect x="12" y="-16" width="1.1" height="1.1" fill="#ff7900"/>
<rect x="13" y="-16" width="1.1" height="1.1" fill="#ff6500"/>
<rect x="14" y="-16" width="1.1" height="1.1" fill="#ff4e00"/>
<rect x="15" y="-16" width="2.1" height="1.1" fill="#ff3c00"/>
<rect x="-16" y="-15" width="2.1" height="1.1" fill="#ff3c00"/>
<rect x="-14" y="-15" width="1.1" height="1.1" fill="#ff4e00"/>
<rect x="-13" y="-15" width="1.1" height="1.1" fill="#ff6500"/>
<rect x="-12" y="-15" width="1.1" height="1.1" fill="#ff7900"/>
<rect x="-11" y="-15" width="1.1" height="1.1" fill="#ff8a00"/>
<rect x="-10" y="-15" width="1.1" height="1.1" fill="#ffaf00"/>
<rect x="-9" y="-15" width="1.1" height="1.1" fill="#ffcc00"/>
<rect x="-8" y="-15" width="1.1" height="1.1" fill="#ffe800"/>
<rect x="-7" y="-15" width="1.1" height="1.1" fill="#faff00"/>
<rect x="-6" y="-15" width="1.1" height="1.1" fill="#e1ff00"/>
<rect x="-5" y="-15" width="1.1" height="1.1" fill="#cbff00"/>
<rect x="-4" y="-15" width="1.1" height="1.1" fill="#b7ff00"/>
<rect x="-3" y="-15" width="1.1" height="1.1" fill="#a4ff00"/>
<rect x="-2" y="-15" width="1.1" height="1.1" fill="#97ff00"/>
<rect x="-1" y="-15" width="1.1" height="1.1" fill="#8fff00"/>
<rect x="0" y="-15" width="1.1" height="1.1" fill="#8cff00"/>
<rect x="1" y="-15" width="1.1" height="1.1" fill="#8fff00"/>
<rect x="2" y="-15" width="1.1" height="1.1" fill="#97ff00"/>
<rect x="3" y="-15" width="1.1" height="1.1" fill="#a4ff00"/>
<rect x="4" y="-15" width="1.1" height="1.1" fill="#b7ff00"/>
<rect x="5" y="-15" width="1.1" height="1.1" fill="#cbff00"/>
<rect x="6" y="-15" width="1.1" height="1.1" fill="#e1ff00"/>
<rect x="7" y="-15" width="1.1" height="1.1" fill="#faff00"/>
<rect x="8" y="-15" width="1.1" height="1.1" fill="#ffe800"/>
<rect x="9" y="-15" width="1.1" height="1.1" fill="#ffcc00"/>
<rect x="10" y="-15" width="1.1" height="1.1" fill="#ffaf00"/>
<rect x="11" y="-15" width="1.1" height="1.1" fill="#ff8a00"/>
<rect x="12" y="-15" width="1.1" height="1.1" fill="#ff7900"/>
<rect x="13" y="-15" width="1.1" height="1.1" fill="#ff6500"/>
<rect x="14" y="-15" width="1.1" height="1.1" fill="#ff4e00"/>
<rect x="15" y="-15" width="2.1" height="1.1" fill="#ff3c00"/>
<rect x="-16" y="-14" width="2.1" height="1.1" fill="#ff4e00"/>
<rect x="-14" y="-14" width="1.1" height="1.1" fill="#ff6700"/>
<rect x="-13" y="-14" width="1.1" height="1.1" fill="#ff7c00"/>
<rect x="-12" y="-14" width="1.1" height="1.1" fill="#ff9300"/>
<rect x="-11" y="-14" width="1.1" height="1.1" fill="#ffbf00"/>
<rect x="-10" y="-14" width="1.1" height="1.1" fill="#ffe000"/>
<rect x="-9" y="-14" width="1.1" height="1.1" fill="#faff00"/>
<rect x="-8" y="-14" width="1.1" height="1.1" fill="#d7ff00"/>
<rect x="-7" y="-14" width="1.1" height="1.1" fill="#b6ff00"/>
<rect x="-6" y="-14" width="1.1" height="1.1" fill="#92ff00"/>
<rect x="-5" y="-14" width="1.1" height="1.1" fill="#79ff00"/>
<rect x="-4" y="-14" width="1.1" height="1.1" fill="#65ff00"/>
<rect x="-3" y="-14" width="1.1" height="1.1" fill="#55ff00"/>
<rect x="-2" y="-14" width="1.1" height="1.1" fill="#49ff00"/>
<rect x="-1" y="-14" width="1.1" height="1.1" fill="#42ff00"/>
<rect x="0" y="-14" width="1.1" height="1.1" fill="#40ff00"/>
<rect x="1" y="-14" width="1.1" height="1.1" fill="#42ff00"/>
<rect x="2" y="-14" width="1.1" height="1.1" fill="#49ff00"/>
<rect x="3" y="-14" width="1.1" height="1.1" fill="#55ff00"/>
<rect x="4" y="-14" width="1.1" height="1.1" fill="#65ff00"/>
<rect x="5" y="-14" width="1.1" height="1.1" fill="#79ff00"/>
<rect x="6" y="-14" width="1.1" height="1.1" fill="#92ff00"/>
<rect x="7" y="-14" width="1.1" height="1.1" fill="#b6ff00"/>
<rect x="8" y="-14" width="1.1" height="1.1" fill="#d7ff00"/>
<rect x="9" y="-14" width="1.1" height="1.1" fill="#faff00"/>
<rect x="10" y="-14" width="1.1" height="1.1" fill="#ffe000"/>
<rect x="11" y="-14" width="1.1" height="1.1" fill="#ffbf00"/>
<rect x="12" y="-14" width="1.1" height="1.1" fill="#ff9300"/>
<rect x="13" y="-14" width="1.1" height="1.1" fill="#ff7c00"/>
<rect x="14" y="-14" width="1.1" height="1.1" fill="#ff6700"/>
<rect x="15" y="-14" width="2.1" height="1.1" fill="#ff4e00"/>
<rect x="-16" y="-13" width="2.1" height="1.1" fill="#ff6500"/>
<rect x="-14" y="-13" width="1.1" height="1.1" fill="#ff7c00"/>
<rect x="-13" y="-13" width="1.1" height="1.1" fill="#ff9800"/>
<rect x="-12" y="-13" width="1.1" height="1.1" fill="#ffc600"/>
<rect x="-11" y="-13" width="1.1" height="1.1" fill="#ffee00"/>
<rect x="-10" y="-13" width="1.1" height="1.1" fill="#e5ff00"/>
<rect x="-9" y="-13" width="1.1" height="1.1" fill="#bdff00"/>
<rect x="-8" y="-13" width="1.1" height="1.1" fill="#8dff00"/>
<rect x="-7" y="-13" width="1.1" height="1.1" fill="#6bff00"/>
<rect x="-6" y="-13" width="1.1" height="1.1" fill="#4dff00"/>
<rect x="-5" y="-13" width="1.1" height="1.1" fill="#34ff00"/>
<rect x="-4" y="-13" width="1.1" height="1.1" fill="#21ff00"/>
<rect x="-3" y="-13" width="1.1" height="1.1" fill="#12ff00"/>
<rect x="-2" y="-13" width="1.1" height="1.1" fill="#06ff00"/>
<rect x="-1" y="-13" width="1.1" height="1.1" fill="#00ff00"/>
<rect x="0" y="-13" width="1.1" height="1.1" fill="#00ff03"/>
<rect x="1" y="-13" width="1.1" height="1.1" fill="#00ff00"/>
<rect x="2" y="-13" width="1.1" height="1.1" fill="#06ff00"/>
<rect x="3" y="-13" width="1.1" height="1.1" fill="#12ff00"/>
<rect x="4" y="-13" width="1.1" height="1.1" fill="#21ff00"/>
<rect x="5" y="-13" width="1.1" height="1.1" fill="#34ff00"/>
<rect x="6" y="-13" width="1.1" height="1.1" fill="#4dff00"/>
<rect x="7" y="-13" width="1.1" height="1.1" fill="#6bff00"/>
<rect x="8" y="-13" width="1.1" height="1.1" fill="#8dff00"/>
<rect x="9" y="-13" width="1.1" height="1.1" fill="#bdff00"/>
<rect x="10" y="-13" width="1.1" height="1.1" fill="#e5ff00"/>
<rect x="11" y="-13" width="1.1" height="1.1" fill="#ffee00"/>
<rect x="12" y="-13" width="1.1" height="1.1" fill="#ffc600"/>
<rect x="13" y="-13" width="1.1" height="1.1" fill="#ff9800"/>
<rect x="14" y="-13" width="1.1" height="1.1" fill="#ff7c00"/>
<rect x="15" y="-13" width="2.1" height="1.1" fill="#ff6500"/>
<rect x="-16" y="-12" width="2.1" height="1.1" fill="#ff7900"/>
<rect x="-14" y="-12" width="1.1" height="1.1" fill="#ff9300"/>
<rect x="-13" y="-12" width="1.1" height="1.1" fill="#ffc600"/>
<rect x="-12" y="-12" width="1.1" height="1.1" fill="#fff200"/>
<rect x="-11" y="-12" width="1.1" height="1.1" fill="#dbff00"/>
<rect x="-10" y="-12" width="1.1" height="1.1" fill="#a8ff00"/>
<rect x="-9" y="-12" width="1.1" height="1.1" fill="#77ff00"/>
<rect x="-8" y="-12" width="1.1" height="1.1" fill="#4fff00"/>
<rect x="-7" y="-12" width="1.1" height="1.1" fill="#2dff00"/>
<rect x="-6" y="-12" width="1.1" height="1.1" fill="#11ff00"/>
<rect x="-5" y="-12" width="1.1" height="1.1" fill="#00ff08"/>
<rect x="-4" y="-12" width="1.1" height="1.1" fill="#00ff17"/>
<rect x="-3" y="-12" width="1.1" height="1.1" fill="#00ff23"/>
<rect x="-2" y="-12" width="1.1" height="1.1" fill="#00ff2c"/>
<rect x="-1" y="-12" width="1.1" height="1.1" fill="#00ff31"/>
<rect x="0" y="-12" width="1.1" height="1.1" fill="#00ff33"/>
<rect x="1" y="-12" width="1.1" height="1.1" fill="#00ff31"/>
<rect x="2" y="-12" width="1.1" height="1.1" fill="#00ff2c"/>
<rect x="3" y="-12" width="1.1" height="1.1" fill="#00ff23"/>
<rect x="4" y="-12" width="1.1" height="1.1" fill="#00ff17"/>
<rect x="5" y="-12" width="1.1" height="1.1" fill="#00ff08"/>
<rect x="6" y="-12" width="1.1" height="1.1" fill="#11ff00"/>
<rect x="7" y="-12" width="1.1" height="1.1" fill="#2dff00"/>
<rect x="8" y="-12" width="1.1" height="1.1" fill="#4fff00"/>
<rect x="9" y="-12" width="1.1" height="1.1" fill="#77ff00"/>
<rect x="10" y="-12" width="1.1" height="1.1" fill="#a8ff00"/>
<rect x="11" y="-12" width="1.1" height="1.1" fill="#dbff00"/>
<rect x="12" y="-12" width="1.1" height="1.1" fill="#fff200"/>
<rect x="13" y="-12" width="1.1" height="1.1" fill="#ffc600"/>
<rect x="14" y="-12" width="1.1" height="1.1" fill="#ff9300"/>
<rect x="15" y="-12" width="2.1" height="1.1" fill="#ff7900"/>
<rect x="-16" y="-11" width="2.1" height="1.1" fill="#ff8a00"/>
<rect x="-14" y="-11" width="1.1" height="1.1" fill="#ffbf00"/>
<rect x="-13" y="-11" width="1.1" height="1.1" fill="#ffee00"/>
<rect x="-12" y="-11" width="1.1" height="1.1" fill="#dbff00"/>
<rect x="-11" y="-11" width="1.1" height="1.1" fill="#a1ff00"/>
<rect x="-10" y="-11" width="1.1" height="1.1" fill="#6cff00"/>
<rect x="-9" y="-11" width="1.1" height="1.1" fill="#3eff00"/>
<rect x="-8" y="-11" width="1.1" height="1.1" fill="#19ff00"/>
<rect x="-7" y="-11" width="1.1" height="1.1" fill="#00ff09"/>
<rect x="-6" y="-11" width="1.1" height="1.1" fill="#00ff1f"/>
<rect x="-5" y="-11" width="1.1" height="1.1" fill="#00ff32"/>
<rect x="-4" y="-11" width="1.1" height="1.1" fill="#00ff47"/>
<rect x="-3" y="-11" width="1.1" height="1.1" fill="#00ff58"/>
<rect x="-2" y="-11" width="1.1" height="1.1" fill="#00ff64"/>
<rect x="-1" y="-11" width="1.1" height="1.1" fill="#00ff6c"/>
<rect x="0" y="-11" width="1.1" height="1.1" fill="#00ff6f"/>
<rect x="1" y="-11" width="1.1" height="1.1" fill="#00ff6c"/>
<rect x="2" y="-11" width="1.1" height="1.1" fill="#00ff64"/>
<rect x="3" y="-11" width="1.1" height="1.1" fill="#00ff58"/>
<rect x="4" y="-11" width="1.1" height="1.1" fill="#00ff47"/>
<rect x="5" y="-11" width="1.1" height="1.1" fill="#00ff32"/>
<rect x="6" y="-11" width="1.1" height="1.1" fill="#00ff1f"/>
<rect x="7" y="-11" width="1.1" height="1.1" fill="#00ff09"/>
<rect x="8" y="-11" width="1.1" height="1.1" fill="#19ff00"/>
<rect x="9" y="-11" width="1.1" height="1.1" fill="#3eff00"/>
<rect x="10" y="-11" width="1.1" height="1.1" fill="#6cff00"/>
<rect x="11" y="-11" width="1.1" height="1.1" fill="#a1ff00"/>
<rect x="12" y="-11" width="1.1" height="1.1" fill="#dbff00"/>
<rect x="13" y="-11" width="1.1" height="1.1" fill="#ffee00"/>
<rect x="14" y="-11" width="1.1" height="1.1" fill="#ffbf00"/>
<rect x="15" y="-11" width="2.1" height="1.1" fill="#ff8a00"/>
<rect x="-16" y="-10" width="2.1" height="1.1" fill="#ffaf00"/>
<rect x="-14" y="-10" width="1.1" height="1.1" fill="#ffe000"/>
<rect x="-13" y="-10" width="1.1" height="1.1" fill="#e5ff00"/>
<rect x="-12" y="-10" width="1.1" height="1.1" fill="#a8ff00"/>
<rect x="-11" y="-10" width="1.1" height="1.1" fill="#6cff00"/>
<rect x="-10" y="-10" width="1.1" height="1.1" fill="#39ff00"/>
<rect x="-9" y="-10" width="1.1" height="1.1" fill="#0fff00"/>
<rect x="-8" y="-10" width="1.1" height="1.1" fill="#00ff14"/>
<rect x="-7" y="-10" width="1.1" height="1.1" fill="#00ff2e"/>
<rect x="-6" y="-10" width="1.1" height="1.1" fill="#00ff4b"/>
<rect x="-5" y="-10" width="1.1" height="1.1" fill="#00ff67"/>
<rect x="-4" y="-10" width="1.1" height="1.1" fill="#00ff7e"/>
<rect x="-3" y="-10" width="1.1" height="1.1" fill="#00ff92"/>
<rect x="-2" y="-10" width="1.1" height="1.1" fill="#00ffa0"/>
<rect x="-1" y="-10" width="1.1" height="1.1" fill="#00ffa9"/>
<rect x="0" y="-10" width="1.1" height="1.1" fill="#00ffac"/>
<rect x="1" y="-10" width="1.1" height="1.1" fill="#00ffa9"/>
<rect x="2" y="-10" width="1.1" height="1.1" fill="#00ffa0"/>
<rect x="3" y="-10" width="1.1" height="1.1" fill="#00ff92"/>
<rect x="4" y="-10" width="1.1" height="1.1" fill="#00ff7e"/>
<rect x="5" y="-10" width="1.1" height="1.1" fill="#00ff67"/>
<rect x="6" y="-10" width="1.1" height="1.1" fill="#00ff4b"/>
<rect x="7" y="-10" width="1.1" height="1.1" fill="#00ff2e"/>
<rect x="8" y="-10" width="1.1" height="1.1" fill="#00ff14"/>
<rect x="9" y="-10" width="1.1" height="1.1" fill="#0fff00"/>
<rect x="10" y="-10" width="1.1" height="1.1" fill="#39ff00"/>
<rect x="11" y="-10" width="1.1" height="1.1" fill="#6cff00"/>
<rect x="12" y="-10" width="1.1" height="1.1" fill="#a8ff00"/>
<rect x="13" y="-10" width="1.1" height="1.1" fill="#e5ff00"/>
<rect x="14" y="-10" width="1.1" height="1.1" fill="#ffe000"/>
<rect x="15" y="-10" width="2.1" height="1.1" fill="#ffaf00"/>
<rect x="-16" y="-9" width="2.1" height="1.1" fill="#ffcc00"/>
<rect x="-14" y="-9" width="1.1" height="1.1" fill="#faff00"/>
<rect x="-13" y="-9" width="1.1" height="1.1" fill="#bdff00"/>
<rect x="-12" y="-9" width="1.1" height="1.1" fill="#77ff00"/>
<rect x="-11" y="-9" width="1.1" height="1.1" fill="#3eff00"/>
<rect x="-10" y="-9" width="1.1" height="1.1" fill="#0fff00"/>
<rect x="-9" y="-9" width="1.1" height="1.1" fill="#00ff18"/>
<rect x="-8" y="-9" width="1.1" height="1.1" fill="#00ff37"/>
<rect x="-7" y="-9" width="1.1" height="1.1" fill="#00ff5b"/>
<rect x="-6" y="-9" width="1.1" height="1.1" fill="#00ff7d"/>
<rect x="-5" y="-9" width="1.1" height="1.1" fill="#00ff9b"/>
<rect x="-4" y="-9" width="1.1" height="1.1" fill="#00ffb3"/>
<rect x="-3" y="-9" width="1.1" height="1.1" fill="#00ffc2"/>
<rect x="-2" y="-9" width="1.1" height="1.1" fill="#00ffce"/>
<rect x="-1" y="-9" width="1.1" height="1.1" fill="#00ffd5"/>
<rect x="0" y="-9" width="1.1" height="1.1" fill="#00ffd7"/>
<rect x="1" y="-9" width="1.1" height="1.1" fill="#00ffd5"/>
<rect x="2" y="-9" width="1.1" height="1.1" fill="#00ffce"/>
<rect x="3" y="-9" width="1.1" height="1.1" fill="#00ffc2"/>
<rect x="4" y="-9" width="1.1" height="1.1" fill="#00ffb3"/>
<rect x="5" y="-9" width="1.1" height="1.1" fill="#00ff9b"/>
<rect x="6" y="-9" width="1.1" height="1.1" fill="#00ff7d"/>
<rect x="7" y="-9" width="1.1" height="1.1" fill="#00ff5b"/>
<rect x="8" y="-9" width="1.1" height="1.1" fill="#00ff37"/>
<rect x="9" y="-9" width="1.1" height="1.1" fill="#00ff18"/>
<rect x="10" y="-9" width="1.1" height="1.1" fill="#0fff00"/>
<rect x="11" y="-9" width="1.1" height="1.1" fill="#3eff00"/>
<rect x="12" y="-9" width="1.1" height="1.1" fill="#77ff00"/>
<rect x="13" y="-9" width="1.1" height="1.1" fill="#bdff00"/>
<rect x="14" y="-9" width="1.1" height="1.1" fill="#faff00"/>
<rect x="15" y="-9" width="2.1" height="1.1" fill="#ffcc00"/>
<rect x="-16" y="-8" width="2.1" height="1.1" fill="#ffe800"/>
<rect x="-14" y="-8" width="1.1" height="1.1" fill="#d7ff00"/>
<rect x="-13" y="-8" width="1.1" height="1.1" fill="#8dff00"/>
<rect x="-12" y="-8" width="1.1" height="1.1" fill="#4fff00"/>
<rect x="-11" y="-8" width="1.1" height="1.1" fill="#19ff00"/>
<rect x="-10" y="-8" width="1.1" height="1.1" fill="#00ff14"/>
<rect x="-9" y="-8" width="1.1" height="1.1" fill="#00ff37"/>
<rect x="-8" y="-8" width="1.1" height="1.1" fill="#00ff60"/>
<rect x="-7" y="-8" width="1.1" height="1.1" fill="#00ff88"/>
<rect x="-6" y="-8" width="1.1" height="1.1" fill="#00ffad"/>
<rect x="-5" y="-8" width="1.1" height="1.1" fill="#00ffc4"/>
<rect x="-4" y="-8" width="1.1" height="1.1" fill="#00ffd9"/>
<rect x="-3" y="-8" width="1.1" height="1.1" fill="#00ffdc"/>
<rect x="-2" y="-8" width="1.1" height="1.1" fill="#00ffdd"/>
<rect x="-1" y="-8" width="3.1" height="1.1" fill="#00ffdf"/>
<rect x="2" y="-8" width="1.1" height="1.1" fill="#00ffdd"/>
<rect x="3" y="-8" width="1.1" height="1.1" fill="#00ffdc"/>
<rect x="4" y="-8" width="1.1" height="1.1" fill="#00ffd9"/>
<rect x="5" y="-8" width="1.1" height="1.1" fill="#00ffc4"/>
<rect x="6" y="-8" width="1.1" height="1.1" fill="#00ffad"/>
<rect x="7" y="-8" width="1.1" height="1.1" fill="#00ff88"/>
<rect x="8" y="-8" width="1.1" height="1.1" fill="#00ff60"/>
<rect x="9" y="-8" width="1.1" height="1.1" fill="#00ff37"/>
<rect x="10" y="-8" width="1.1" height="1.1" fill="#00ff14"/>
<rect x="11" y="-8" width="1.1" height="1.1" fill="#19ff00"/>
<rect x="12" y="-8" width="1.1" height="1.1" fill="#4fff00"/>
<rect x="13" y="-8" width="1.1" height="1.1" fill="#8dff00"/>
<rect x="14" y="-8" width="1.1" height="1.1" fill="#d7ff00"/>
<rect x="15" y="-8" width="2.1" height="1.1" fill="#ffe800"/>
<rect x="-16" y="-7" width="2.1" height="1.1" fill="#faff00"/>
<rect x="-14" y="-7" width="1.1" height="1.1" fill="#b6ff00"/>
<rect x="-13" y="-7" width="1.1" height="1.1" fill="#6bff00"/>
<rect x="-12" y="-7" width="1.1" height="1.1" fill="#2dff00"/>
<rect x="-11" y="-7" width="1.1" height="1.1" fill="#00ff09"/>
<rect x="-10" y="-7" width="1.1" height="1.1" fill="#00ff2e"/>
<rect x="-9" y="-7" width="1.1" height="1.1" fill="#00ff5b"/>
<rect x="-8" y="-7" width="1.1" height="1.1" fill="#00ff88"/>
<rect x="-7" y="-7" width="1.1" height="1.1" fill="#00ffb1"/>
<rect x="-6" y="-7" width="1.1" height="1.1" fill="#00ffce"/>
<rect x="-5" y="-7" width="1.1" height="1.1" fill="#00ffdb"/>
<rect x="-4" y="-7" width="1.1" height="1.1" fill="#00ffdf"/>
<rect x="-3" y="-7" width="1.1" height="1.1" fill="#00ffda"/>
<rect x="-2" y="-7" width="1.1" height="1.1" fill="#00ffd6"/>
<rect x="-1" y="-7" width="1.1" height="1.1" fill="#00ffd3"/>
<rect x="0" y="-7" width="1.1" height="1.1" fill="#00ffd1"/>
<rect x="1" y="-7" width="1.1" height="1.1" fill="#00ffd3"/>
<rect x="2" y="-7" width="1.1" height="1.1" fill="#00ffd6"/>
<rect x="3" y="-7" width="1.1" height="1.1" fill="#00ffda"/>
<rect x="4" y="-7" width="1.1" height="1.1" fill="#00ffdf"/>
<rect x="5" y="-7" width="1.1" height="1.1" fill="#00ffdb"/>
<rect x="6" y="-7" width="1.1" height="1.1" fill="#00ffce"/>
<rect x="7" y="-7" width="1.1" height="1.1" fill="#00ffb1"/>
<rect x="8" y="-7" width="1.1" height="1.1" fill="#00ff88"/>
<rect x="9" y="-7" width="1.1" height="1.1" fill="#00ff5b"/>
<rect x="10" y="-7" width="1.1" height="1.1" fill="#00ff2e"/>
<rect x="11" y="-7" width="1.1" height="1.1" fill="#00ff09"/>
<rect x="12" y="-7" width="1.1" height="1.1" fill="#2dff00"/>
<rect x="13" y="-7" width="1.1" height="1.1" fill="#6bff00"/>
<rect x="14" y="-7" width="1.1" height="1.1" fill="#b6ff00"/>
<rect x="15" y="-7" width="2.1" height="1.1" fill="#faff00"/>
<rect x="-16" y="-6" width="2.1" height="1.1" fill="#e1ff00"/>
<rect x="-14" y="-6" width="1.1" height="1.1" fill="#92ff00"/>
<rect x="-13" y="-6" width="1.1" height="1.1" fill="#4dff00"/>
<rect x="-12" y="-6" width="1.1" height="1.1" fill="#11ff00"/>
<rect x="-11" y="-6" width="1.1" height="1.1" fill="#00ff1f"/>
<rect x="-10" y="-6" width="1.1" height="1.1" fill="#00ff4b"/>
<rect x="-9" y="-6" width="1.1" height="1.1" fill="#00ff7d"/>
<rect x="-8" y="-6" width="1.1" height="1.1" fill="#00ffad"/>
<rect x="-7" y="-6" width="1.1" height="1.1" fill="#00ffce"/>
<rect x="-6" y="-6" width="1.1" height="1.1" fill="#00ffdc"/>
<rect x="-5" y="-6" width="1.1" height="1.1" fill="#00ffdd"/>
<rect x="-4" y="-6" width="1.1" height="1.1" fill="#00ffd5"/>
<rect x="-3" y="-6" width="1.1" height="1.1" fill="#00ffc8"/>
<rect x="-2" y="-6" width="1.1" height="1.1" fill="#00ffbc"/>
<rect x="-1" y="-6" width="1.1" height="1.1" fill="#00ffb5"/>
<rect x="0" y="-6" width="1.1" height="1.1" fill="#00ffb2"/>
<rect x="1" y="-6" width="1.1" height="1.1" fill="#00ffb5"/>
<rect x="2" y="-6" width="1.1" height="1.1" fill="#00ffbc"/>
<rect x="3" y="-6" width="1.1" height="1.1" fill="#00ffc8"/>
<rect x="4" y="-6" width="1.1" height="1.1" fill="#00ffd5"/>
<rect x="5" y="-6" width="1.1" height="1.1" fill="#00ffdd"/>
<rect x="6" y="-6" width="1.1" height="1.1" fill="#00ffdc"/>
<rect x="7" y="-6" width="1.1" height="1.1" fill="#00ffce"/>
<rect x="8" y="-6" width="1.1" height="1.1" fill="#00ffad"/>
<rect x="9" y="-6" width="1.1" height="1.1" fill="#00ff7d"/>
<rect x="10" y="-6" width="1.1" height="1.1" fill="#00ff4b"/>
<rect x="11" y="-6" width="1.1" height="1.1" fill="#00ff1f"/>
<rect x="12" y="-6" width="1.1" height="1.1" fill="#11ff00"/>
<rect x="13" y="-6" width="1.1" height="1.1" fill="#4dff00"/>
<rect x="14" y="-6" width="1.1" height="1.1" fill="#92ff00"/>
<rect x="15" y="-6" width="2.1" height="1.1" fill="#e1ff00"/>
<rect x="-16" y="-5" width="2.1" height="1.1" fill="#cbff00"/>
<rect x="-14" y="-5" width="1.1" height="1.1" fill="#79ff00"/>
<rect x="-13" y="-5" width="1.1" height="1.1" fill="#34ff00"/>
<rect x="-12" y="-5" width="1.1" height="1.1" fill="#00ff08"/>
<rect x="-11" y="-5" width="1.1" height="1.1" fill="#00ff32"/>
<rect x="-10" y="-5" width="1.1" height="1.1" fill="#00ff67"/>
<rect x="-9" y="-5" width="1.1" height="1.1" fill="#00ff9b"/>
<rect x="-8" y="-5" width="1.1" height="1.1" fill="#00ffc4"/>
<rect x="-7" y="-5" width="1.1" height="1.1" fill="#00ffdb"/>
<rect x="-6" y="-5" width="1.1" height="1.1" fill="#00ffdd"/>
<rect x="-5" y="-5" width="1.1" height="1.1" fill="#00ffd3"/>
<rect x="-4" y="-5" width="1.1" height="1.1" fill="#00ffbf"/>
<rect x="-3" y="-5" width="1.1" height="1.1" fill="#00ffaa"/>
<rect x="-2" y="-5" width="1.1" height="1.1" fill="#00ff94"/>
<rect x="-1" y="-5" width="1.1" height="1.1" fill="#00ff86"/>
<rect x="0" y="-5" width="1.1" height="1.1" fill="#00ff81"/>
<rect x="1" y="-5" width="1.1" height="1.1" fill="#00ff86"/>
<rect x="2" y="-5" width="1.1" height="1.1" fill="#00ff94"/>
<rect x="3" y="-5" width="1.1" height="1.1" fill="#00ffaa"/>
<rect x="4" y="-5" width="1.1" height="1.1" fill="#00ffbf"/>
<rect x="5" y="-5" width="1.1" height="1.1" fill="#00ffd3"/>
<rect x="6" y="-5" width="1.1" height="1.1" fill="#00ffdd"/>
<rect x="7" y="-5" width="1.1" height="1.1" fill="#00ffdb"/>
<rect x="8" y="-5" width="1.1" height="1.1" fill="#00ffc4"/>
<rect x="9" y="-5" width="1.1" height="1.1" fill="#00ff9b"/>
<rect x="10" y="-5" width="1.1" height="1.1" fill="#00ff67"/>
<rect x="11" y="-5" width="1.1" height="1.1" fill="#00ff32"/>
<rect x="12" y="-5" width="1.1" height="1.1" fill="#00ff08"/>
<rect x="13" y="-5" width="1.1" height="1.1" fill="#34ff00"/>
<rect x="14" y="-5" width="1.1" height="1.1" fill="#79ff00"/>
<rect x="15" y="-5" width="2.1" height="1.1" fill="#cbff00"/>
<rect x="-16" y="-4" width="2.1" height="1.1" fill="#b7ff00"/>
<rect x="-14" y="-4" width="1.1" height="1.1" fill="#65ff00"/>
<rect x="-13" y="-4" width="1.1" height="1.1" fill="#21ff00"/>
<rect x="-12" y="-4" width="1.1" height="1.1" fill="#00ff17"/>
<rect x="-11" y="-4" width="1.1" height="1.1" fill="#00ff47"/>
<rect x="-10" y="-4" width="1.1" height="1.1" fill="#00ff7e"/>
<rect x="-9" y="-4" width="1.1" height="1.1" fill="#00ffb3"/>
<rect x="-8" y="-4" width="1.1" height="1.1" fill="#00ffd9"/>
<rect x="-7" y="-4" width="1.1" height="1.1" fill="#00ffdf"/>
<rect x="-6" y="-4" width="1.1" height="1.1" fill="#00ffd5"/>
<rect x="-5" y="-4" width="1.1" height="1.1" fill="#00ffbf"/>
<rect x="-4" y="-4" width="1.1" height="1.1" fill="#00ffa2"/>
<rect x="-3" y="-4" width="1.1" height="1.1" fill="#00ff81"/>
<rect x="-2" y="-4" width="1.1" height="1.1" fill="#00ff52"/>
<rect x="-1" y="-4" width="1.1" height="1.1" fill="#00ff32"/>
<rect x="0" y="-4" width="1.1" height="1.1" fill="#00ff26"/>
<rect x="1" y="-4" width="1.1" height="1.1" fill="#00ff32"/>
<rect x="2" y="-4" width="1.1" height="1.1" fill="#00ff52"/>
<rect x="3" y="-4" width="1.1" height="1.1" fill="#00ff81"/>
<rect x="4" y="-4" width="1.1" height="1.1" fill="#00ffa2"/>
<rect x="5" y="-4" width="1.1" height="1.1" fill="#00ffbf"/>
<rect x="6" y="-4" width="1.1" height="1.1" fill="#00ffd5"/>
<rect x="7" y="-4" width="1.1" height="1.1" fill="#00ffdf"/>
<rect x="8" y="-4" width="1.1" height="1.1" fill="#00ffd9"/>
<rect x="9" y="-4" width="1.1" height="1.1" fill="#00ffb3"/>
<rect x="10" y="-4" width="1.1" height="1.1" fill="#00ff7e"/>
<rect x="11" y="-4" width="1.1" height="1.1" fill="#00ff47"/>
<rect x="12" y="-4" width="1.1" height="1.1" fill="#00ff17"/>
<rect x="13" y="-4" width="1.1" height="1.1" fill="#21ff00"/>
<rect x="14" y="-4" width="1.1" height="1.1" fill="#65ff00"/>
<rect x="15" y="-4" width="2.1" height="1.1" fill="#b7ff00"/>
<rect x="-16" y="-3" width="2.1" height="1.1" fill="#a4ff00"/>
<rect x="-14" y="-3" width="1.1" height="1.1" fill="#55ff00"/>
<rect x="-13" y="-3" width="1.1" height="1.1" fill="#12ff00"/>
<rect x="-12" y="-3" width="1.1" height="1.1" fill="#00ff23"/>
<rect x="-11" y="-3" width="1.1" height="1.1" fill="#00ff58"/>
<rect x="-10" y="-3" width="1.1" height="1.1" fill="#00ff92"/>
<rect x="-9" y="-3" width="1.1" height="1.1" fill="#00ffc2"/>
<rect x="-8" y="-3" width="1.1" height="1.1" fill="#00ffdc"/>
<rect x="-7" y="-3" width="1.1" height="1.1" fill="#00ffda"/>
<rect x="-6" y="-3" width="1.1" height="1.1" fill="#00ffc8"/>
<rect x="-5" y="-3" width="1.1" height="1.1" fill="#00ffaa"/>
<rect x="-4" y="-3" width="1.1" height="1.1" fill="#00ff81"/>
<rect x="-3" y="-3" width="1.1" height="1.1" fill="#00ff3d"/>
<rect x="-2" y="-3" width="1.1" height="1.1" fill="#03ff00"/>
<rect x="-1" y="-3" width="1.1" height="1.1" fill="#2fff00"/>
<rect x="0" y="-3" width="1.1" height="1.1" fill="#40ff00"/>
<rect x="1" y="-3" width="1.1" height="1.1" fill="#2fff00"/>
<rect x="2" y="-3" width="1.1" height="1.1" fill="#03ff00"/>
<rect x="3" y="-3" width="1.1" height="1.1" fill="#00ff3d"/>
<rect x="4" y="-3" width="1.1" height="1.1" fill="#00ff81"/>
<rect x="5" y="-3" width="1.1" height="1.1" fill="#00ffaa"/>
<rect x="6" y="-3" width="1.1" height="1.1" fill="#00ffc8"/>
<rect x="7" y="-3" width="1.1" height="1.1" fill="#00ffda"/>
<rect x="8" y="-3" width="1.1" height="1.1" fill="#00ffdc"/>
<rect x="9" y="-3" width="1.1" height="1.1" fill="#00ffc2"/>
<rect x="10" y="-3" width="1.1" height="1.1" fill="#00ff92"/>
<rect x="11" y="-3" width="1.1" height="1.1" fill="#00ff58"/>
<rect x="12" y="-3" width="1.1" height="1.1" fill="#00ff23"/>
<rect x="13" y="-3" width="1.1" height="1.1" fill="#12ff00"/>
<rect x="14" y="-3" width="1.1" height="1.1" fill="#55ff00"/>
<rect x="15" y="-3" width="2.1" height="1.1" fill="#a4ff00"/>
<rect x="-16" y="-2" width="2.1" height="1.1" fill="#97ff00"/>
<rect x="-14" y="-2" width="1.1" height="1.1" fill="#49ff00"/>
<rect x="-13" y="-2" width="1.1" height="1.1" fill="#06ff00"/>
<rect x="-12" y="-2" width="1.1" height="1.1" fill="#00ff2c"/>
<rect x="-11" y="-2" width="1.1" height="1.1" fill="#00ff64"/>
<rect x="-10" y="-2" width="1.1" height="1.1" fill="#00ffa0"/>
<rect x="-9" y="-2" width="1.1" height="1.1" fill="#00ffce"/>
<rect x="-8" y="-2" width="1.1" height="1.1" fill="#00ffdd"/>
<rect x="-7" y="-2" width="1.1" height="1.1" fill="#00ffd6"/>
<rect x="-6" y="-2" width="1.1" height="1.1" fill="#00ffbc"/>
<rect x="-5" y="-2" width="1.1" height="1.1" fill="#00ff94"/>
<rect x="-4" y="-2" width="1.1" height="1.1" fill="#00ff52"/>
<rect x="-3" y="-2" width="1.1" height="1.1" fill="#03ff00"/>
<rect x="-2" y="-2" width="1.1" height="1.1" fill="#6bff00"/>
<rect x="-1" y="-2" width="1.1" height="1.1" fill="#a0ff00"/>
<rect x="0" y="-2" width="1.1" height="1.1" fill="#bfff00"/>
<rect x="1" y="-2" width="1.1" height="1.1" fill="#a0ff00"/>
<rect x="2" y="-2" width="1.1" height="1.1" fill="#6bff00"/>
<rect x="3" y="-2" width="1.1" height="1.1" fill="#03ff00"/>
<rect x="4" y="-2" width="1.1" height="1.1" fill="#00ff52"/>
<rect x="5" y="-2" width="1.1" height="1.1" fill="#00ff94"/>
<rect x="6" y="-2" width="1.1" height="1.1" fill="#00ffbc"/>
<rect x="7" y="-2" width="1.1" height="1.1" fill="#00ffd6"/>
<rect x="8" y="-2" width="1.1" height="1.1" fill="#00ffdd"/>
<rect x="9" y="-2" width="1.1" height="1.1" fill="#00ffce"/>
<rect x="10" y="-2" width="1.1" height="1.1" fill="#00ffa0"/>
<rect x="11" y="-2" width="1.1" height="1.1" fill="#00ff64"/>
<rect x="12" y="-2" width="1.1" height="1.1" fill="#00ff2c"/>
<rect x="13" y="-2" width="1.1" height="1.1" fill="#06ff00"/>
<rect x="14" y="-2" width="1.1" height="1.1" fill="#49ff00"/>
<rect x="15" y="-2" width="2.1" height="1.1" fill="#97ff00"/>
<rect x="-16" y="-1" width="2.1" height="1.1" fill="#8fff00"/>
<rect x="-14" y="-1" width="1.1" height="1.1" fill="#42ff00"/>
<rect x="-13" y="-1" width="1.1" height="1.1" fill="#00ff00"/>
<rect x="-12" y="-1" width="1.1" height="1.1" fill="#00ff31"/>
<rect x="-11" y="-1" width="1.1" height="1.1" fill="#00ff6c"/>
<rect x="-10" y="-1" width="1.1" height="1.1" fill="#00ffa9"/>
<rect x="-9" y="-1" width="1.1" height="1.1" fill="#00ffd5"/>
<rect x="-8" y="-1" width="1.1" height="1.1" fill="#00ffdf"/>
<rect x="-7" y="-1" width="1.1" height="1.1" fill="#00ffd3"/>
<rect x="-6" y="-1" width="1.1" height="1.1" fill="#00ffb5"/>
<rect x="-5" y="-1" width="1.1" height="1.1" fill="#00ff86"/>
<rect x="-4" y="-1" width="1.1" height="1.1" fill="#00ff32"/>
<rect x="-3" y="-1" width="1.1" height="1.1" fill="#2fff00"/>
<rect x="-2" y="-1" width="1.1" height="1.1" fill="#a0ff00"/>
<rect x="-1" y="-1" width="1.1" height="1.1" fill="#ffec00"/>
<rect x="0" y="-1" width="1.1" height="1.1" fill="#ff8800"/>
<rect x="1" y="-1" width="1.1" height="1.1" fill="#ffec00"/>
<rect x="2" y="-1" width="1.1" height="1.1" fill="#a0ff00"/>
<rect x="3" y="-1" width="1.1" height="1.1" fill="#2fff00"/>
<rect x="4" y="-1" width="1.1" height="1.1" fill="#00ff32"/>
<rect x="5" y="-1" width="1.1" height="1.1" fill="#00ff86"/>
<rect x="6" y="-1" width="1.1" height="1.1" fill="#00ffb5"/>
<rect x="7" y="-1" width="1.1" height="1.1" fill="#00ffd3"/>
<rect x="8" y="-1" width="1.1" height="1.1" fill="#00ffdf"/>
<rect x="9" y="-1" width="1.1" height="1.1" fill="#00ffd5"/>
<rect x="10" y="-1" width="1.1" height="1.1" fill="#00ffa9"/>
<rect x="11" y="-1" width="1.1" height="1.1" fill="#00ff6c"/>
<rect x="12" y="-1" width="1.1" height="1.1" fill="#00ff31"/>
<rect x="13" y="-1" width="1.1" height="1.1" fill="#00ff00"/>
<rect x="14" y="-1" width="1.1" height="1.1" fill="#42ff00"/>
<rect x="15" y="-1" width="2.1" height="1.1" fill="#8fff00"/>
<rect x="-16" y="0" width="2.1" height="1.1" fill="#8cff00"/>
<rect x="-14" y="0" width="1.1" height="1.1" fill="#40ff00"/>
<rect x="-13" y="0" width="1.1" height="1.1" fill="#00ff03"/>
<rect x="-12" y="0" width="1.1" height="1.1" fill="#00ff33"/>
<rect x="-11" y="0" width="1.1" height="1.1" fill="#00ff6f"/>
<rect x="-10" y="0" width="1.1" height="1.1" fill="#00ffac"/>
<rect x="-9" y="0" width="1.1" height="1.1" fill="#00ffd7"/>
<rect x="-8" y="0" width="1.1" height="1.1" fill="#00ffdf"/>
<rect x="-7" y="0" width="1.1" height="1.1" fill="#00ffd1"/>
<rect x="-6" y="0" width="1.1" height="1.1" fill="#00ffb2"/>
<rect x="-5" y="0" width="1.1" height="1.1" fill="#00ff81"/>
<rect x="-4" y="0" width="1.1" height="1.1" fill="#00ff26"/>
<rect x="-3" y="0" width="1.1" height="1.1" fill="#40ff00"/>
<rect x="-2" y="0" width="1.1" height="1.1" fill="#bfff00"/>
<rect x="-1" y="0" width="1.1" height="1.1" fill="#ff8800"/>
<rect x="0" y="0" width="1.1" height="1.1" fill="#ff0000"/>
<rect x="1" y="0" width="1.1" height="1.1" fill="#ff8800"/>
<rect x="2" y="0" width="1.1" height="1.1" fill="#bfff00"/>
<rect x="3" y="0" width="1.1" height="1.1" fill="#40ff00"/>
<rect x="4" y="0" width="1.1" height="1.1" fill="#00ff26"/>
<rect x="5" y="0" width="1.1" height="1.1" fill="#00ff81"/>
<rect x="6" y="0" width="1.1" height="1.1" fill="#00ffb2"/>
<rect x="7" y="0" width="1.1" height="1.1" fill="#00ffd1"/>
<rect x="8" y="0" width="1.1" height="1.1" fill="#00ffdf"/>
<rect x="9" y="0" width="1.1" height="1.1" fill="#00ffd7"/>
<rect x="10" y="0" width="1.1" height="1.1" fill="#00ffac"/>
<rect x="11" y="0" width="1.1" height="1.1" fill="#00ff6f"/>
<rect x="12" y="0" width="1.1" height="1.1" fill="#00ff33"/>
<rect x="13" y="0" width="1.1" height="1.1" fill="#00ff03"/>
<rect x="14" y="0" width="1.1" height="1.1" fill="#40ff00"/>
<rect x="15" y="0" width="2.1" height="1.1" fill="#8cff00"/>
<rect x="-16" y="1" width="2.1" height="1.1" fill="#8fff00"/>
<rect x="-14" y="1" width="1.1" height="1.1" fill="#42ff00"/>
<rect x="-13" y="1" width="1.1" height="1.1" fill="#00ff00"/>
<rect x="-12" y="1" width="1.1" height="1.1" fill="#00ff31"/>
<rect x="-11" y="1" width="1.1" height="1.1" fill="#00ff6c"/>
<rect x="-10" y="1" width="1.1" height="1.1" fill="#00ffa9"/>
<rect x="-9" y="1" width="1.1" height="1.1" fill="#00ffd5"/>
<rect x="-8" y="1" width="1.1" height="1.1" fill="#00ffdf"/>
<rect x="-7" y="1" width="1.1" height="1.1" fill="#00ffd3"/>
<rect x="-6" y="1" width="1.1" height="1.1" fill="#00ffb5"/>
<rect x="-5" y="1" width="1.1" height="1.1" fill="#00ff86"/>
<rect x="-4" y="1" width="1.1" height="1.1" fill="#00ff32"/>
<rect x="-3" y="1" width="1.1" height="1.1" fill="#2fff00"/>
<rect x="-2" y="1" width="1.1" height="1.1" fill="#a0ff00"/>
<rect x="-1" y="1" width="1.1" height="1.1" fill="#ffec00"/>
<rect x="0" y="1" width="1.1" height="1.1" fill="#ff8800"/>
<rect x="1" y="1" width="1.1" height="1.1" fill="#ffec00"/>
<rect x="2" y="1" width="1.1" height="1.1" fill="#a0ff00"/>
<rect x="3" y="1" width="1.1" height="1.1" fill="#2fff00"/>
<rect x="4" y="1" width="1.1" height="1.1" fill="#00ff32"/>
<rect x="5" y="1" width="1.1" height="1.1" fill="#00ff86"/>
<rect x="6" y="1" width="1.1" height="1.1" fill="#00ffb5"/>
<rect x="7" y="1" width="1.1" height="1.1" fill="#00ffd3"/>
<rect x="8" y="1" width="1.1" height="1.1" fill="#00ffdf"/>
<rect x="9" y="1" width="1.1" height="1.1" fill="#00ffd5"/>
<rect x="10" y="1" width="1.1" height="1.1" fill="#00ffa9"/>
<rect x="11" y="1" width="1.1" height="1.1" fill="#00ff6c"/>
<rect x="12" y="1" width="1.1" height="1.1" fill="#00ff31"/>
<rect x="13" y="1" width="1.1" height="1.1" fill="#00ff00"/>
<rect x="14" y="1" width="1.1" height="1.1" fill="#42ff00"/>
<rect x="15" y="1" width="2.1" height="1.1" fill="#8fff00"/>
<rect x="-16" y="2" width="2.1" height="1.1" fill="#97ff00"/>
<rect x="-14" y="2" width="1.1" height="1.1" fill="#49ff00"/>
<rect x="-13" y="2" width="1.1" height="1.1" fill="#06ff00"/>
<rect x="-12" y="2" width="1.1" height="1.1" fill="#00ff2c"/>
<rect x="-11" y="2" width="1.1" height="1.1" fill="#00ff64"/>
<rect x="-10" y="2" width="1.1" height="1.1" fill="#00ffa0"/>
<rect x="-9" y="2" width="1.1" height="1.1" fill="#00ffce"/>
<rect x="-8" y="2" width="1.1" height="1.1" fill="#00ffdd"/>
<rect x="-7" y="2" width="1.1" height="1.1" fill="#00ffd6"/>
<rect x="-6" y="2" width="1.1" height="1.1" fill="#00ffbc"/>
<rect x="-5" y="2" width="1.1" height="1.1" fill="#00ff94"/>
<rect x="-4" y="2" width="1.1" height="1.1" fill="#00ff52"/>
<rect x="-3" y="2" width="1.1" height="1.1" fill="#03ff00"/>
<rect x="-2" y="2" width="1.1" height="1.1" fill="#6bff00"/>
<rect x="-1" y="2" width="1.1" height="1.1" fill="#a0ff00"/>
<rect x="0" y="2" width="1.1" height="1.1" fill="#bfff00"/>
<rect x="1" y="2" width="1.1" height="1.1" fill="#a0ff00"/>
<rect x="2" y="2" width="1.1" height="1.1" fill="#6bff00"/>
<rect x="3" y="2" width="1.1" height="1.1" fill="#03ff00"/>
<rect x="4" y="2" width="1.1" height="1.1" fill="#00ff52"/>
<rect x="5" y="2" width="1.1" height="1.1" fill="#00ff94"/>
<rect x="6" y="2" width="1.1" height="1.1" fill="#00ffbc"/>
<rect x="7" y="2" width="1.1" height="1.1" fill="#00ffd6"/>
<rect x="8" y="2" width="1.1" height="1.1" fill="#00ffdd"/>
<rect x="9" y="2" width="1.1" height="1.1" fill="#00ffce"/>
<rect x="10" y="2" width="1.1" height="1.1" fill="#00ffa0"/>
<rect x="11" y="2" width="1.1" height="1.1" fill="#00ff64"/>
<rect x="12" y="2" width="1.1" height="1.1" fill="#00ff2c"/>
<rect x="13" y="2" width="1.1" height="1.1" fill="#06ff00"/>
<rect x="14" y="2" width="1.1" height="1.1" fill="#49ff00"/>
<rect x="15" y="2" width="2.1" height="1.1" fill="#97ff00"/>
<rect x="-16" y="3" width="2.1" height="1.1" fill="#a4ff00"/>
<rect x="-14" y="3" width="1.1" height="1.1" fill="#55ff00"/>
<rect x="-13" y="3" width="1.1" height="1.1" fill="#12ff00"/>
<rect x="-12" y="3" width="1.1" height="1.1" fill="#00ff23"/>
<rect x="-11" y="3" width="1.1" height="1.1" fill="#00ff58"/>
<rect x="-10" y="3" width="1.1" height="1.1" fill="#00ff92"/>
<rect x="-9" y="3" width="1.1" height="1.1" fill="#00ffc2"/>
<rect x="-8" y="3" width="1.1" height="1.1" fill="#00ffdc"/>
<rect x="-7" y="3" width="1.1" height="1.1" fill="#00ffda"/>
<rect x="-6" y="3" width="1.1" height="1.1" fill="#00ffc8"/>
<rect x="-5" y="3" width="1.1" height="1.1" fill="#00ffaa"/>
<rect x="-4" y="3" width="1.1" height="1.1" fill="#00ff81"/>
<rect x="-3" y="3" width="1.1" height="1.1" fill="#00ff3d"/>
<rect x="-2" y="3" width="1.1" height="1.1" fill="#03ff00"/>
<rect x="-1" y="3" width="1.1" height="1.1" fill="#2fff00"/>
<rect x="0" y="3" width="1.1" height="1.1" fill="#40ff00"/>
<rect x="1" y="3" width="1.1" height="1.1" fill="#2fff00"/>
<rect x="2" y="3" width="1.1" height="1.1" fill="#03ff00"/>
<rect x="3" y="3" width="1.1" height="1.1" fill="#00ff3d"/>
<rect x="4" y="3" width="1.1" height="1.1" fill="#00ff81"/>
<rect x="5" y="3" width="1.1" height="1.1" fill="#00ffaa"/>
<rect x="6" y="3" width="1.1" height="1.1" fill="#00ffc8"/>
<rect x="7" y="3" width="1.1" height="1.1" fill="#00ffda"/>
<rect x="8" y="3" width="1.1" height="1.1" fill="#00ffdc"/>
<rect x="9" y="3" width="1.1" height="1.1" fill="#00ffc2"/>
<rect x="10" y="3" width="1.1" height="1.1" fill="#00ff92"/>
<rect x="11" y="3" width="1.1" height="1.1" fill="#00ff58"/>
<rect x="12" y="3" width="1.1" height="1.1" fill="#00ff23"/>
<rect x="13" y="3" width="1.1" height="1.1" fill="#12ff00"/>
<rect x="14" y="3" width="1.1" height="1.1" fill="#55ff00"/>
<rect x="15" y="3" width="2.1" height="1.1" fill="#a4ff00"/>
<rect x="-16" y="4" width="2.1" height="1.1" fill="#b7ff00"/>
<rect x="-14" y="4" width="1.1" height="1.1" fill="#65ff00"/>
<rect x="-13" y="4" width="1.1" height="1.1" fill="#21ff00"/>
<rect x="-12" y="4" width="1.1" height="1.1" fill="#00ff17"/>
<rect x="-11" y="4" width="1.1" height="1.1" fill="#00ff47"/>
<rect x="-10" y="4" width="1.1" height="1.1" fill="#00ff7e"/>
<rect x="-9" y="4" width="1.1" height="1.1" fill="#00ffb3"/>
<rect x="-8" y="4" width="1.1" height="1.1" fill="#00ffd9"/>
<rect x="-7" y="4" width="1.1" height="1.1" fill="#00ffdf"/>
<rect x="-6" y="4" width="1.1" height="1.1" fill="#00ffd5"/>
<rect x="-5" y="4" width="1.1" height="1.1" fill="#00ffbf"/>
<rect x="-4" y="4" width="1.1" height="1.1" fill="#00ffa2"/>
<rect x="-3" y="4" width="1.1" height="1.1" fill="#00ff81"/>
<rect x="-2" y="4" width="1.1" height="1.1" fill="#00ff52"/>
<rect x="-1" y="4" width="1.1" height="1.1" fill="#00ff32"/>
<rect x="0" y="4" width="1.1" height="1.1" fill="#00ff26"/>
<rect x="1" y="4" width="1.1" height="1.1" fill="#00ff32"/>
<rect x="2" y="4" width="1.1" height="1.1" fill="#00ff52"/>
<rect x="3" y="4" width="1.1" height="1.1" fill="#00ff81"/>
<rect x="4" y="4" width="1.1" height="1.1" fill="#00ffa2"/>
<rect x="5" y="4" width="1.1" height="1.1" fill="#00ffbf"/>
<rect x="6" y="4" width="1.1" height="1.1" fill="#00ffd5"/>
<rect x="7" y="4" width="1.1" height="1.1" fill="#00ffdf"/>
<rect x="8" y="4" width="1.1" height="1.1" fill="#00ffd9"/>
<rect x="9" y="4" width="1.1" height="1.1" fill="#00ffb3"/>
<rect x="10" y="4" width="1.1" height="1.1" fill="#00ff7e"/>
<rect x="11" y="4" width="1.1" height="1.1" fill="#00ff47"/>
<rect x="12" y="4" width="1.1" height="1.1" fill="#00ff17"/>
<rect x="13" y="4" width="1.1" height="1.1" fill="#21ff00"/>
<rect x="14" y="4" width="1.1" height="1.1" fill="#65ff00"/>
<rect x="15" y="4" width="2.1" height="1.1" fill="#b7ff00"/>
<rect x="-16" y="5" width="2.1" height="1.1" fill="#cbff00"/>
<rect x="-14" y="5" width="1.1" height="1.1" fill="#79ff00"/>
<rect x="-13" y="5" width="1.1" height="1.1" fill="#34ff00"/>
<rect x="-12" y="5" width="1.1" height="1.1" fill="#00ff08"/>
<rect x="-11" y="5" width="1.1" height="1.1" fill="#00ff32"/>
<rect x="-10" y="5" width="1.1" height="1.1" fill="#00ff67"/>
<rect x="-9" y="5" width="1.1" height="1.1" fill="#00ff9b"/>
<rect x="-8" y="5" width="1.1" height="1.1" fill="#00ffc4"/>
<rect x="-7" y="5" width="1.1" height="1.1" fill="#00ffdb"/>
<rect x="-6" y="5" width="1.1" height="1.1" fill="#00ffdd"/>
<rect x="-5" y="5" width="1.1" height="1.1" fill="#00ffd3"/>
<rect x="-4" y="5" width="1.1" height="1.1" fill="#00ffbf"/>
<rect x="-3" y="5" width="1.1" height="1.1" fill="#00ffaa"/>
<rect x="-2" y="5" width="1.1" height="1.1" fill="#00ff94"/>
<rect x="-1" y="5" width="1.1" height="1.1" fill="#00ff86"/>
<rect x="0" y="5" width="1.1" height="1.1" fill="#00ff81"/>
<rect x="1" y="5" width="1.1" height="1.1" fill="#00ff86"/>
<rect x="2" y="5" width="1.1" height="1.1" fill="#00ff94"/>
<rect x="3" y="5" width="1.1" height="1.1" fill="#00ffaa"/>
<rect x="4" y="5" width="1.1" height="1.1" fill="#00ffbf"/>
<rect x="5" y="5" width="1.1" height="1.1" fill="#00ffd3"/>
<rect x="6" y="5" width="1.1" height="1.1" fill="#00ffdd"/>
<rect x="7" y="5" width="1.1" height="1.1" fill="#00ffdb"/>
<rect x="8" y="5" width="1.1" height="1.1" fill="#00ffc4"/>
<rect x="9" y="5" width="1.1" height="1.1" fill="#00ff9b"/>
<rect x="10" y="5" width="1.1" height="1.1" fill="#00ff67"/>
<rect x="11" y="5" width="1.1" height="1.1" fill="#00ff32"/>
<rect x="12" y="5" width="1.1" height="1.1" fill="#00ff08"/>
<rect x="13" y="5" width="1.1" height="1.1" fill="#34ff00"/>
<rect x="14" y="5" width="1.1" height="1.1" fill="#79ff00"/>
<rect x="15" y="5" width="2.1" height="1.1" fill="#cbff00"/>
<rect x="-16" y="6" width="2.1" height="1.1" fill="#e1ff00"/>
<rect x="-14" y="6" width="1.1" height="1.1" fill="#92ff00"/>
<rect x="-13" y="6" width="1.1" height="1.1" fill="#4dff00"/>
<rect x="-12" y="6" width="1.1" height="1.1" fill="#11ff00"/>
<rect x="-11" y="6" width="1.1" height="1.1" fill="#00ff1f"/>
<rect x="-10" y="6" width="1.1" height="1.1" fill="#00ff4b"/>
<rect x="-9" y="6" width="1.1" height="1.1" fill="#00ff7d"/>
<rect x="-8" y="6" width="1.1" height="1.1" fill="#00ffad"/>
<rect x="-7" y="6" width="1.1" height="1.1" fill="#00ffce"/>
<rect x="-6" y="6" width="1.1" height="1.1" fill="#00ffdc"/>
<rect x="-5" y="6" width="1.1" height="1.1" fill="#00ffdd"/>
<rect x="-4" y="6" width="1.1" height="1.1" fill="#00ffd5"/>
<rect x="-3" y="6" width="1.1" height="1.1" fill="#00ffc8"/>
<rect x="-2" y="6" width="1.1" height="1.1" fill="#00ffbc"/>
<rect x="-1" y="6" width="1.1" height="1.1" fill="#00ffb5"/>
<rect x="0" y="6" width="1.1" height="1.1" fill="#00ffb2"/>
<rect x="1" y="6" width="1.1" height="1.1" fill="#00ffb5"/>
<rect x="2" y="6" width="1.1" height="1.1" fill="#00ffbc"/>
<rect x="3" y="6" width="1.1" height="1.1" fill="#00ffc8"/>
<rect x="4" y="6" width="1.1" height="1.1" fill="#00ffd5"/>
<rect x="5" y="6" width="1.1" height="1.1" fill="#00ffdd"/>
<rect x="6" y="6" width="1.1" height="1.1" fill="#00ffdc"/>
<rect x="7" y="6" width="1.1" height="1.1" fill="#00ffce"/>
<rect x="8" y="6" width="1.1" height="1.1" fill="#00ffad"/>
<rect x="9" y="6" width="1.1" height="1.1" fill="#00ff7d"/>
<rect x="10" y="6" width="1.1" height="1.1" fill="#00ff4b"/>
<rect x="11" y="6" width="1.1" height="1.1" fill="#00ff1f"/>
<rect x="12" y="6" width="1.1" height="1.1" fill="#11ff00"/>
<rect x="13" y="6" width="1.1" height="1.1" fill="#4dff00"/>
<rect x="14" y="6" width="1.1" height="1.1" fill="#92ff00"/>
<rect x="15" y="6" width="2.1" height="1.1" fill="#e1ff00"/>
<rect x="-16" y="7" width="2.1" height="1.1" fill="#faff00"/>
<rect x="-14" y="7" width="1.1" height="1.1" fill="#b6ff00"/>
<rect x="-13" y="7" width="1.1" height="1.1" fill="#6bff00"/>
<rect x="-12" y="7" width="1.1" height="1.1" fill="#2dff00"/>
<rect x="-11" y="7" width="1.1" height="1.1" fill="#00ff09"/>
<rect x="-10" y="7" width="1.1" height="1.1" fill="#00ff2e"/>
<rect x="-9" y="7" width="1.1" height="1.1" fill="#00ff5b"/>
<rect x="-8" y="7" width="1.1" height="1.1" fill="#00ff88"/>
<rect x="-7" y="7" width="1.1" height="1.1" fill="#00ffb1"/>
<rect x="-6" y="7" width="1.1" height="1.1" fill="#00ffce"/>
<rect x="-5" y="7" width="1.1" height="1.1" fill="#00ffdb"/>
<rect x="-4" y="7" width="1.1" height="1.1" fill="#00ffdf"/>
<rect x="-3" y="7" width="1.1" height="1.1" fill="#00ffda"/>
<rect x="-2" y="7" width="1.1" height="1.1" fill="#00ffd6"/>
<rect x="-1" y="7" width="1.1" height="1.1" fill="#00ffd3"/>
<rect x="0" y="7" width="1.1" height="1.1" fill="#00ffd1"/>
<rect x="1" y="7" width="1.1" height="1.1" fill="#00ffd3"/>
<rect x="2" y="7" width="1.1" height="1.1" fill="#00ffd6"/>
<rect x="3" y="7" width="1.1" height="1.1" fill="#00ffda"/>
<rect x="4" y="7" width="1.1" height="1.1" fill="#00ffdf"/>
<rect x="5" y="7" width="1.1" height="1.1" fill="#00ffdb"/>
<rect x="6" y="7" width="1.1" height="1.1" fill="#00ffce"/>
<rect x="7" y="7" width="1.1" height="1.1" fill="#00ffb1"/>
<rect x="8" y="7" width="1.1" height="1.1" fill="#00ff88"/>
<rect x="9" y="7" width="1.1" height="1.1" fill="#00ff5b"/>
<rect x="10" y="7" width="1.1" height="1.1" fill="#00ff2e"/>
<rect x="11" y="7" width="1.1" height="1.1" fill="#00ff09"/>
<rect x="12" y="7" width="1.1" height="1.1" fill="#2dff00"/>
<rect x="13" y="7" width="1.1" height="1.1" fill="#6bff00"/>
<rect x="14" y="7" width="1.1" height="1.1" fill="#b6ff00"/>
<rect x="15" y="7" width="2.1" height="1.1" fill="#faff00"/>
<rect x="-16" y="8" width="2.1" height="1.1" fill="#ffe800"/>
<rect x="-14" y="8" width="1.1" height="1.1" fill="#d7ff00"/>
<rect x="-13" y="8" width="1.1" height="1.1" fill="#8dff00"/>
<rect x="-12" y="8" width="1.1" height="1.1" fill="#4fff00"/>
<rect x="-11" y="8" width="1.1" height="1.1" fill="#19ff00"/>
<rect x="-10" y="8" width="1.1" height="1.1" fill="#00ff14"/>
<rect x="-9" y="8" width="1.1" height="1.1" fill="#00ff37"/>
<rect x="-8" y="8" width="1.1" height="1.1" fill="#00ff60"/>
<rect x="-7" y="8" width="1.1" height="1.1" fill="#00ff88"/>
<rect x="-6" y="8" width="1.1" height="1.1" fill="#00ffad"/>
<rect x="-5" y="8" width="1.1" height="1.1" fill="#00ffc4"/>
<rect x="-4" y="8" width="1.1" height="1.1" fill="#00ffd9"/>
<rect x="-3" y="8" width="1.1" height="1.1" fill="#00ffdc"/>
<rect x="-2" y="8" width="1.1" height="1.1" fill="#00ffdd"/>
<rect x="-1" y="8" width="3.1" height="1.1" fill="#00ffdf"/>
<rect x="2" y="8" width="1.1" height="1.1" fill="#00ffdd"/>
<rect x="3" y="8" width="1.1" height="1.1" fill="#00ffdc"/>
<rect x="4" y="8" width="1.1" height="1.1" fill="#00ffd9"/>
<rect x="5" y="8" width="1.1" height="1.1" fill="#00ffc4"/>
<rect x="6" y="8" width="1.1" height="1.1" fill="#00ffad"/>
<rect x="7" y="8" width="1.1" height="1.1" fill="#00ff88"/>
<rect x="8" y="8" width="1.1" height="1.1" fill="#00ff60"/>
<rect x="9" y="8" width="1.1" height="1.1" fill="#00ff37"/>
<rect x="10" y="8" width="1.1" height="1.1" fill="#00ff14"/>
<rect x="11" y="8" width="1.1" height="1.1" fill="#19ff00"/>
<rect x="12" y="8" width="1.1" height="1.1" fill="#4fff00"/>
<rect x="13" y="8" width="1.1" height="1.1" fill="#8dff00"/>
<rect x="14" y="8" width="1.1" height="1.1" fill="#d7ff00"/>
<rect x="15" y="8" width="2.1" height="1.1" fill="#ffe800"/>
<rect x="-16" y="9" width="2.1" height="1.1" fill="#ffcc00"/>
<rect x="-14" y="9" width="1.1" height="1.1" fill="#faff00"/>
<rect x="-13" y="9" width="1.1" height="1.1" fill="#bdff00"/>
<rect x="-12" y="9" width="1.1" height="1.1" fill="#77ff00"/>
<rect x="-11" y="9" width="1.1" height="1.1" fill="#3eff00"/>
<rect x="-10" y="9" width="1.1" height="1.1" fill="#0fff00"/>
<rect x="-9" y="9" width="1.1" height="1.1" fill="#00ff18"/>
<rect x="-8" y="9" width="1.1" height="1.1" fill="#00ff37"/>
<rect x="-7" y="9" width="1.1" height="1.1" fill="#00ff5b"/>
<rect x="-6" y="9" width="1.1" height="1.1" fill="#00ff7d"/>
<rect x="-5" y="9" width="1.1" height="1.1" fill="#00ff9b"/>
<rect x="-4" y="9" width="1.1" height="1.1" fill="#00ffb3"/>
<rect x="-3" y="9" width="1.1" height="1.1" fill="#00ffc2"/>
<rect x="-2" y="9" width="1.1" height="1.1" fill="#00ffce"/>
<rect x="-1" y="9" width="1.1" height="1.1" fill="#00ffd5"/>
<rect x="0" y="9" width="1.1" height="1.1" fill="#00ffd7"/>
<rect x="1" y="9" width="1.1" height="1.1" fill="#00ffd5"/>
<rect x="2" y="9" width="1.1" height="1.1" fill="#00ffce"/>
<rect x="3" y="9" width="1.1" height="1.1" fill="#00ffc2"/>
<rect x="4" y="9" width="1.1" height="1.1" fill="#00ffb3"/>
<rect x="5" y="9" width="1.1" height="1.1" fill="#00ff9b"/>
<rect x="6" y="9" width="1.1" height="1.1" fill="#00ff7d"/>
<rect x="7" y="9" width="1.1" height="1.1" fill="#00ff5b"/>
<rect x="8" y="9" width="1.1" height="1.1" fill="#00ff37"/>
<rect x="9" y="9" width="1.1" height="1.1" fill="#00ff18"/>
<rect x="10" y="9" width="1.1" height="1.1" fill="#0fff00"/>
<rect x="11" y="9" width="1.1" height="1.1" fill="#3eff00"/>
<rect x="12" y="9" width="1.1" height="1.1" fill="#77ff00"/>
<rect x="13" y="9" width="1.1" height="1.1" fill="#bdff00"/>
<rect x="14" y="9" width="1.1" height="1.1" fill="#faff00"/>
<rect x="15" y="9" width="2.1" height="1.1" fill="#ffcc00"/>
<rect x="-16" y="10" width="2.1" height="1.1" fill="#ffaf00"/>
<rect x="-14" y="10" width="1.1" height="1.1" fill="#ffe000"/>
<rect x="-13" y="10" width="1.1" height="1.1" fill="#e5ff00"/>
<rect x="-12" y="10" width="1.1" height="1.1" fill="#a8ff00"/>
<rect x="-11" y="10" width="1.1" height="1.1" fill="#6cff00"/>
<rect x="-10" y="10" width="1.1" height="1.1" fill="#39ff00"/>
<rect x="-9" y="10" width="1.1" height="1.1" fill="#0fff00"/>
<rect x="-8" y="10" width="1.1" height="1.1" fill="#00ff14"/>
<rect x="-7" y="10" width="1.1" height="1.1" fill="#00ff2e"/>
<rect x="-6" y="10" width="1.1" height="1.1" fill="#00ff4b"/>
<rect x="-5" y="10" width="1.1" height="1.1" fill="#00ff67"/>
<rect x="-4" y="10" width="1.1" height="1.1" fill="#00ff7e"/>
<rect x="-3" y="10" width="1.1" height="1.1" fill="#00ff92"/>
<rect x="-2" y="10" width="1.1" height="1.1" fill="#00ffa0"/>
<rect x="-1" y="10" width="1.1" height="1.1" fill="#00ffa9"/>
<rect x="0" y="10" width="1.1" height="1.1" fill="#00ffac"/>
<rect x="1" y="10" width="1.1" height="1.1" fill="#00ffa9"/>
<rect x="2" y="10" width="1.1" height="1.1" fill="#00ffa0"/>
<rect x="3" y="10" width="1.1" height="1.1" fill="#00ff92"/>
<rect x="4" y="10" width="1.1" height="1.1" fill="#00ff7e"/>
<rect x="5" y="10" width="1.1" height="1.1" fill="#00ff67"/>
<rect x="6" y="10" width="1.1" height="1.1" fill="#00ff4b"/>
<rect x="7" y="10" width="1.1" height="1.1" fill="#00ff2e"/>
<rect x="8" y="10" width="1.1" height="1.1" fill="#00ff14"/>
<rect x="9" y="10" width="1.1" height="1.1" fill="#0fff00"/>
<rect x="10" y="10" width="1.1" height="1.1" fill="#39ff00"/>
<rect x="11" y="10" width="1.1" height="1.1" fill="#6cff00"/>
<rect x="12" y="10" width="1.1" height="1.1" fill="#a8ff00"/>
<rect x="13" y="10" width="1.1" height="1.1" fill="#e5ff00"/>
<rect x="14" y="10" width="1.1" height="1.1" fill="#ffe000"/>
<rect x="15" y="10" width="2.1" height="1.1" fill="#ffaf00"/>
<rect x="-16" y="11" width="2.1" height="1.1" fill="#ff8a00"/>
<rect x="-14" y="11" width="1.1" height="1.1" fill="#ffbf00"/>
<rect x="-13" y="11" width="1.1" height="1.1" fill="#ffee00"/>
<rect x="-12" y="11" width="1.1" height="1.1" fill="#dbff00"/>
<rect x="-11" y="11" width="1.1" height="1.1" fill="#a1ff00"/>
<rect x="-10" y="11" width="1.1" height="1.1" fill="#6cff00"/>
<rect x="-9" y="11" width="1.1" height="1.1" fill="#3eff00"/>
<rect x="-8" y="11" width="1.1" height="1.1" fill="#19ff00"/>
<rect x="-7" y="11" width="1.1" height="1.1" fill="#00ff09"/>
<rect x="-6" y="11" width="1.1" height="1.1" fill="#00ff1f"/>
<rect x="-5" y="11" width="1.1" height="1.1" fill="#00ff32"/>
<rect x="-4" y="11" width="1.1" height="1.1" fill="#00ff47"/>
<rect x="-3" y="11" width="1.1" height="1.1" fill="#00ff58"/>
<rect x="-2" y="11" width="1.1" height="1.1" fill="#00ff64"/>
<rect x="-1" y="11" width="1.1" height="1.1" fill="#00ff6c"/>
<rect x="0" y="11" width="1.1" height="1.1" fill="#00ff6f"/>
<rect x="1" y="11" width="1.1" height="1.1" fill="#00ff6c"/>
<rect x="2" y="11" width="1.1" height="1.1" fill="#00ff64"/>
<rect x="3" y="11" width="1.1" height="1.1" fill="#00ff58"/>
<rect x="4" y="11" width="1.1" height="1.1" fill="#00ff47"/>
<rect x="5" y="11" width="1.1" height="1.1" fill="#00ff32"/>
<rect x="6" y="11" width="1.1" height="1.1" fill="#00ff1f"/>
<rect x="7" y="11" width="1.1" height="1.1" fill="#00ff09"/>
<rect x="8" y="11" width="1.1" height="1.1" fill="#19ff00"/>
<rect x="9" y="11" width="1.1" height="1.1" fill="#3eff00"/>
<rect x="10" y="11" width="1.1" height="1.1" fill="#6cff00"/>
<rect x="11" y="11" width="1.1" height="1.1" fill="#a1ff00"/>
<rect x="12" y="11" width="1.1" height="1.1" fill="#dbff00"/>
<rect x="13" y="11" width="1.1" height="1.1" fill="#ffee00"/>
<rect x="14" y="11" width="1.1" height="1.1" fill="#ffbf00"/>
<rect x="15" y="11" width="2.1" height="1.1" fill="#ff8a00"/>
<rect x="-16" y="12" width="2.1" height="1.1" fill="#ff7900"/>
<rect x="-14" y="12" width="1.1" height="1.1" fill="#ff9300"/>
<rect x="-13" y="12" width="1.1" height="1.1" fill="#ffc600"/>
<rect x="-12" y="12" width="1.1" height="1.1" fill="#fff200"/>
<rect x="-11" y="12" width="1.1" height="1.1" fill="#dbff00"/>
<rect x="-10" y="12" width="1.1" height="1.1" fill="#a8ff00"/>
<rect x="-9" y="12" width="1.1" height="1.1" fill="#77ff00"/>
<rect x="-8" y="12" width="1.1" height="1.1" fill="#4fff00"/>
<rect x="-7" y="12" width="1.1" height="1.1" fill="#2dff00"/>
<rect x="-6" y="12" width="1.1" height="1.1" fill="#11ff00"/>
<rect x="-5" y="12" width="1.1" height="1.1" fill="#00ff08"/>
<rect x="-4" y="12" width="1.1" height="1.1" fill="#00ff17"/>
<rect x="-3" y="12" width="1.1" height="1.1" fill="#00ff23"/>
<rect x="-2" y="12" width="1.1" height="1.1" fill="#00ff2c"/>
<rect x="-1" y="12" width="1.1" height="1.1" fill="#00ff31"/>
<rect x="0" y="12" width="1.1" height="1.1" fill="#00ff33"/>
<rect x="1" y="12" width="1.1" height="1.1" fill="#00ff31"/>
<rect x="2" y="12" width="1.1" height="1.1" fill="#00ff2c"/>
<rect x="3" y="12" width="1.1" height="1.1" fill="#00ff23"/>
<rect x="4" y="12" width="1.1" height="1.1" fill="#00ff17"/>
<rect x="5" y="12" width="1.1" height="1.1" fill="#00ff08"/>
<rect x="6" y="12" width="1.1" height="1.1" fill="#11ff00"/>
<rect x="7" y="12" width="1.1" height="1.1" fill="#2dff00"/>
<rect x="8" y="12" width="1.1" height="1.1" fill="#4fff00"/>
<rect x="9" y="12" width="1.1" height="1.1" fill="#77ff00"/>
<rect x="10" y="12" width="1.1" height="1.1" fill="#a8ff00"/>
<rect x="11" y="12" width="1.1" height="1.1" fill="#dbff00"/>
<rect x="12" y="12" width="1.1" height="1.1" fill="#fff200"/>
<rect x="13" y="12" width="1.1" height="1.1" fill="#ffc600"/>
<rect x="14" y="12" width="1.1" height="1.1" fill="#ff9300"/>
<rect x="15" y="12" width="2.1" height="1.1" fill="#ff7900"/>
<rect x="-16" y="13" width="2.1" height="1.1" fill="#ff6500"/>
<rect x="-14" y="13" width="1.1" height="1.1" fill="#ff7c00"/>
<rect x="-13" y="13" width="1.1" height="1.1" fill="#ff9800"/>
<rect x="-12" y="13" width="1.1" height="1.1" fill="#ffc600"/>
<rect x="-11" y="13" width="1.1" height="1.1" fill="#ffee00"/>
<rect x="-10" y="13" width="1.1" height="1.1" fill="#e5ff00"/>
<rect x="-9" y="13" width="1.1" height="1.1" fill="#bdff00"/>
<rect x="-8" y="13" width="1.1" height="1.1" fill="#8dff00"/>
<rect x="-7" y="13" width="1.1" height="1.1" fill="#6bff00"/>
<rect x="-6" y="13" width="1.1" height="1.1" fill="#4dff00"/>
<rect x="-5" y="13" width="1.1" height="1.1" fill="#34ff00"/>
<rect x="-4" y="13" width="1.1" height="1.1" fill="#21ff00"/>
<rect x="-3" y="13" width="1.1" height="1.1" fill="#12ff00"/>
<rect x="-2" y="13" width="1.1" height="1.1" fill="#06ff00"/>
<rect x="-1" y="13" width="1.1" height="1.1" fill="#00ff00"/>
<rect x="0" y="13" width="1.1" height="1.1" fill="#00ff03"/>
<rect x="1" y="13" width="1.1" height="1.1" fill="#00ff00"/>
<rect x="2" y="13" width="1.1" height="1.1" fill="#06ff00"/>
<rect x="3" y="13" width="1.1" height="1.1" fill="#12ff00"/>
<rect x="4" y="13" width="1.1" height="1.1" fill="#21ff00"/>
<rect x="5" y="13" width="1.1" height="1.1" fill="#34ff00"/>
<rect x="6" y="13" width="1.1" height="1.1" fill="#4dff00"/>
<rect x="7" y="13" width="1.1" height="1.1" fill="#6bff00"/>
<rect x="8" y="13" width="1.1" height="1.1" fill="#8dff00"/>
<rect x="9" y="13" width="1.1" height="1.1" fill="#bdff00"/>
<rect x="10" y="13" width="1.1" height="1.1" fill="#e5ff00"/>
<rect x="11" y="13" width="1.1" height="1.1" fill="#ffee00"/>
<rect x="12" y="13" width="1.1" height="1.1" fill="#ffc600"/>
<rect x="13" y="13" width="1.1" height="1.1" fill="#ff9800"/>
<rect x="14" y="13" width="1.1" height="1.1" fill="#ff7c00"/>
<rect x="15" y="13" width="2.1" height="1.1" fill="#ff6500"/>
<rect x="-16" y="14" width="2.1" height="1.1" fill="#ff4e00"/>
<rect x="-14" y="14" width="1.1" height="1.1" fill="#ff6700"/>
<rect x="-13" y="14" width="1.1" height="1.1" fill="#ff7c00"/>
<rect x="-12" y="14" width="1.1" height="1.1" fill="#ff9300"/>
<rect x="-11" y="14" width="1.1" height="1.1" fill="#ffbf00"/>
<rect x="-10" y="14" width="1.1" height="1.1" fill="#ffe000"/>
<rect x="-9" y="14" width="1.1" height="1.1" fill="#faff00"/>
<rect x="-8" y="14" width="1.1" height="1.1" fill="#d7ff00"/>
<rect x="-7" y="14" width="1.1" height="1.1" fill="#b6ff00"/>
<rect x="-6" y="14" width="1.1" height="1.1" fill="#92ff00"/>
<rect x="-5" y="14" width="1.1" height="1.1" fill="#79ff00"/>
<rect x="-4" y="14" width="1.1" height="1.1" fill="#65ff00"/>
<rect x="-3" y="14" width="1.1" height="1.1" fill="#55ff00"/>
<rect x="-2" y="14" width="1.1" height="1.1" fill="#49ff00"/>
<rect x="-1" y="14" width="1.1" height="1.1" fill="#42ff00"/>
<rect x="0" y="14" width="1.1" height="1.1" fill="#40ff00"/>
<rect x="1" y="14" width="1.1" height="1.1" fill="#42ff00"/>
<rect x="2" y="14" width="1.1" height="1.1" fill="#49ff00"/>
<rect x="3" y="14" width="1.1" height="1.1" fill="#55ff00"/>
<rect x="4" y="14" width="1.1" height="1.1" fill="#65ff00"/>
<rect x="5" y="14" width="1.1" height="1.1" fill="#79ff00"/>
<rect x="6" y="14" width="1.1" height="1.1" fill="#92ff00"/>
<rect x="7" y="14" width="1.1" height="1.1" fill="#b6ff00"/>
<rect x="8" y="14" width="1.1" height="1.1" fill="#d7ff00"/>
<rect x="9" y="14" width="1.1" height="1.1" fill="#faff00"/>
<rect x="10" y="14" width="1.1" height="1.1" fill="#ffe000"/>
<rect x="11" y="14" width="1.1" height="1.1" fill="#ffbf00"/>
<rect x="12" y="14" width="1.1" height="1.1" fill="#ff9300"/>
<rect x="13" y="14" width="1.1" height="1.1" fill="#ff7c00"/>
<rect x="14" y="14" width="1.1" height="1.1" fill="#ff6700"/>
<rect x="15" y="14" width="2.1" height="1.1" fill="#ff4e00"/>
<rect x="-16" y="15" width="2.1" height="1.1" fill="#ff3c00"/>
<rect x="-14" y="15" width="1.1" height="1.1" fill="#ff4e00"/>
<rect x="-13" y="15" width="1.1" height="1.1" fill="#ff6500"/>
<rect x="-12" y="15" width="1.1" height="1.1" fill="#ff7900"/>
<rect x="-11" y="15" width="1.1" height="1.1" fill="#ff8a00"/>
<rect x="-10" y="15" width="1.1" height="1.1" fill="#ffaf00"/>
<rect x="-9" y="15" width="1.1" height="1.1" fill="#ffcc00"/>
<rect x="-8" y="15" width="1.1" height="1.1" fill="#ffe800"/>
<rect x="-7" y="15" width="1.1" height="1.1" fill="#faff00"/>
<rect x="-6" y="15" width="1.1" height="1.1" fill="#e1ff00"/>
<rect x="-5" y="15" width="1.1" height="1.1" fill="#cbff00"/>
<rect x="-4" y="15" width="1.1" height="1.1" fill="#b7ff00"/>
<rect x="-3" y="15" width="1.1" height="1.1" fill="#a4ff00"/>
<rect x="-2" y="15" width="1.1" height="1.1" fill="#97ff00"/>
<rect x="-1" y="15" width="1.1" height="1.1" fill="#8fff00"/>
<rect x="0" y="15" width="1.1" height="1.1" fill="#8cff00"/>
<rect x="1" y="15" width="1.1" height="1.1" fill="#8fff00"/>
<rect x="2" y="15" width="1.1" height="1.1" fill="#97ff00"/>
<rect x="3" y="15" width="1.1" height="1.1" fill="#a4ff00"/>
<rect x="4" y="15" width="1.1" height="1.1" fill="#b7ff00"/>
<rect x="5" y="15" width="1.1" height="1.1" fill="#cbff00"/>
<rect x="6" y="15" width="1.1" height="1.1" fill="#e1ff00"/>
<rect x="7" y="15" width="1.1" height="1.1" fill="#faff00"/>
<rect x="8" y="15" width="1.1" height="1.1" fill="#ffe800"/>
<rect x="9" y="15" width="1.1" height="1.1" fill="#ffcc00"/>
<rect x="10" y="15" width="1.1" height="1.1" fill="#ffaf00"/>
<rect x="11" y="15" width="1.1" height="1.1" fill="#ff8a00"/>
<rect x="12" y="15" width="1.1" height="1.1" fill="#ff7900"/>
<rect x="13" y="15" width="1.1" height="1.1" fill="#ff6500"/>
<rect x="14" y="15" width="1.1" height="1.1" fill="#ff4e00"/>
<rect x="15" y="15" width="2.1" height="1.1" fill="#ff3c00"/>
<rect x="-16" y="16" width="2.1" height="1.1" fill="#ff3c00"/>
<rect x="-14" y="16" width="1.1" height="1.1" fill="#ff4e00"/>
<rect x="-13" y="16" width="1.1" height="1.1" fill="#ff6500"/>
<rect x="-12" y="16" width="1.1" height="1.1" fill="#ff7900"/>
<rect x="-11" y="16" width="1.1" height="1.1" fill="#ff8a00"/>
<rect x="-10" y="16" width="1.1" height="1.1" fill="#ffaf00"/>
<rect x="-9" y="16" width="1.1" height="1.1" fill="#ffcc00"/>
<rect x="-8" y="16" width="1.1" height="1.1" fill="#ffe800"/>
<rect x="-7" y="16" width="1.1" height="1.1" fill="#faff00"/>
<rect x="-6" y="16" width="1.1" height="1.1" fill="#e1ff00"/>
<rect x="-5" y="16" width="1.1" height="1.1" fill="#cbff00"/>
<rect x="-4" y="16" width="1.1" height="1.1" fill="#b7ff00"/>
<rect x="-3" y="16" width="1.1" height="1.1" fill="#a4ff00"/>
<rect x="-2" y="16" width="1.1" height="1.1" fill="#97ff00"/>
<rect x="-1" y="16" width="1.1" height="1.1" fill="#8fff00"/>
<rect x="0" y="16" width="1.1" height="1.1" fill="#8cff00"/>
<rect x="1" y="16" width="1.1" height="1.1" fill="#8fff00"/>
<rect x="2" y="16" width="1.1" height="1.1" fill="#97ff00"/>
<rect x="3" y="16" width="1.1" height="1.1" fill="#a4ff00"/>
<rect x="4" y="16" width="1.1" height="1.1" fill="#b7ff00"/>
<rect x="5" y="16" width="1.1" height="1.1" fill="#cbff00"/>
<rect x="6" y="16" width="1.1" height="1.1" fill="#e1ff00"/>
<rect x="7" y="16" width="1.1" height="1.1" fill="#faff00"/>
<rect x="8" y="16" width="1.1" height="1.1" fill="#ffe800"/>
<rect x="9" y="16" width="1.1" height="1.1" fill="#ffcc00"/>
<rect x="10" y="16" width="1.1" height="1.1" fill="#ffaf00"/>
<rect x="11" y="16" width="1.1" height="1.1" fill="#ff8a00"/>
<rect x="12" y="16" width="1.1" height="1.1" fill="#ff7900"/>
<rect x="13" y="16" width="1.1" height="1.1" fill="#ff6500"/>
<rect x="14" y="16" width="1.1" height="1.1" fill="#ff4e00"/>
<rect x="15" y="16" width="2.1" height="1.1" fill="#ff3c00"/>
</g></g>
<rect x="67.62" y="3.58" width="191.15" height="191.30" fill="none" stroke="#000" stroke-width="2.35"/>
<rect x="264.65" y="2.65" width="191.60" height="191.10" fill="none" stroke="#000" stroke-width="2.1"/>
<rect x="67.65" y="203.55" width="190.40" height="191.10" fill="none" stroke="#000" stroke-width="2.3"/>
<rect x="264.55" y="203.05" width="191.80" height="191.30" fill="none" stroke="#000" stroke-width="2.1"/>
<rect x="68.8" y="35.70" width="3.9" height="1.8" fill="#000"/>
<rect x="68.8" y="98.50" width="3.9" height="1.8" fill="#000"/>
<rect x="68.8" y="161.30" width="3.9" height="1.8" fill="#000"/>
<rect x="265.7" y="34.85" width="3.9" height="1.8" fill="#000"/>
<rect x="265.7" y="97.35" width="3.9" height="1.8" fill="#000"/>
<rect x="265.7" y="159.85" width="3.9" height="1.8" fill="#000"/>
<rect x="68.8" y="235.50" width="3.9" height="1.8" fill="#000"/>
<rect x="68.8" y="298.10" width="3.9" height="1.8" fill="#000"/>
<rect x="68.8" y="360.70" width="3.9" height="1.8" fill="#000"/>
<rect x="265.6" y="234.90" width="3.9" height="1.8" fill="#000"/>
<rect x="265.6" y="297.60" width="3.9" height="1.8" fill="#000"/>
<rect x="265.6" y="360.30" width="3.9" height="1.8" fill="#000"/>
<rect x="100.00" y="189.80" width="1.8" height="3.9" fill="#000"/>
<rect x="162.60" y="189.80" width="1.8" height="3.9" fill="#000"/>
<rect x="225.00" y="189.80" width="1.8" height="3.9" fill="#000"/>
<rect x="296.90" y="188.80" width="1.8" height="3.9" fill="#000"/>
<rect x="359.60" y="188.80" width="1.8" height="3.9" fill="#000"/>
<rect x="422.40" y="188.80" width="1.8" height="3.9" fill="#000"/>
<rect x="328.40" y="190.40" width="1.6" height="2.3" fill="#000"/>
<rect x="391.10" y="190.40" width="1.6" height="2.3" fill="#000"/>
<rect x="100.00" y="389.60" width="1.8" height="3.9" fill="#000"/>
<rect x="162.60" y="389.60" width="1.8" height="3.9" fill="#000"/>
<rect x="225.00" y="389.60" width="1.8" height="3.9" fill="#000"/>
<rect x="296.90" y="389.40" width="1.8" height="3.9" fill="#000"/>
<rect x="359.60" y="389.40" width="1.8" height="3.9" fill="#000"/>
<rect x="422.40" y="389.40" width="1.8" height="3.9" fill="#000"/>
<rect x="328.40" y="391.00" width="1.6" height="2.3" fill="#000"/>
<rect x="391.10" y="391.00" width="1.6" height="2.3" fill="#000"/>
<text x="64.3" y="43.9" font-size="20.3" text-anchor="end" font-weight="normal" fill="#000" >200</text>
<text x="64.3" y="106.7" font-size="20.3" text-anchor="end" font-weight="normal" fill="#000" >0</text>
<text x="64.3" y="169.5" font-size="20.3" text-anchor="end" font-weight="normal" fill="#000" >-200</text>
<text x="64.3" y="243.70000000000002" font-size="20.3" text-anchor="end" font-weight="normal" fill="#000" >200</text>
<text x="64.3" y="306.3" font-size="20.3" text-anchor="end" font-weight="normal" fill="#000" >0</text>
<text x="64.3" y="368.90000000000003" font-size="20.3" text-anchor="end" font-weight="normal" fill="#000" >-200</text>
<text x="100.5" y="417.8" font-size="20.3" text-anchor="middle" font-weight="normal" fill="#000" >-200</text>
<text x="163.6" y="416.3" font-size="20.3" text-anchor="middle" font-weight="normal" fill="#000" >0</text>
<text x="225" y="417.8" font-size="20.3" text-anchor="middle" font-weight="normal" fill="#000" >200</text>
<text x="297.8" y="417.8" font-size="20.3" text-anchor="middle" font-weight="normal" fill="#000" >-200</text>
<text x="360.5" y="417.8" font-size="20.3" text-anchor="middle" font-weight="normal" fill="#000" >0</text>
<text x="423.2" y="417.8" font-size="20.3" text-anchor="middle" font-weight="normal" fill="#000" >200</text>
<text x="165.5" y="436.7" font-size="21.3" text-anchor="middle" font-weight="normal" fill="#000" >X (nm)</text>
<text x="363.7" y="438.9" font-size="21.3" text-anchor="middle" font-weight="normal" fill="#000" >X (nm)</text>
<text transform="translate(22.4,101.1) rotate(-90) scale(1,1.06)" font-size="21.2" text-anchor="middle">Y (nm)</text>
<text transform="translate(18.0,291.6) rotate(-90) scale(1,1.06)" font-size="21.2" text-anchor="middle">Y (nm)</text>
<text x="77.6" y="33.2" font-size="27.5" font-weight="bold" fill="#fff" stroke="#fff" stroke-width="0.5" textLength="13.6" lengthAdjust="spacingAndGlyphs">a</text>
<text x="274.4" y="33.3" font-size="30" font-weight="bold" fill="#fff" stroke="#fff" stroke-width="0.5" textLength="14.8" lengthAdjust="spacingAndGlyphs">b</text>
<text x="76.9" y="236.2" font-size="27.5" font-weight="bold" fill="#000" stroke="#000" stroke-width="0.5" textLength="11.6" lengthAdjust="spacingAndGlyphs">c</text>
<text x="272.8" y="236.5" font-size="30" font-weight="bold" fill="#000" stroke="#000" stroke-width="0.5" textLength="14.6" lengthAdjust="spacingAndGlyphs">d</text>
<text x="190.6" y="31.2" font-size="22.4" font-weight="bold" fill="#fff" stroke="#fff" stroke-width="0.5" textLength="57.6" lengthAdjust="spacingAndGlyphs">On PS</text>
<text x="398.9" y="31.3" font-size="22.4" font-weight="bold" fill="#fff" stroke="#fff" stroke-width="0.5" textLength="47.8" lengthAdjust="spacingAndGlyphs">In PS</text>
<text x="190.8" y="230.6" font-size="22.4" font-weight="bold" fill="#000" stroke="#000" stroke-width="0.5" textLength="57.4" lengthAdjust="spacingAndGlyphs">On PS</text>
<text x="398.6" y="231.1" font-size="22.4" font-weight="bold" fill="#000" stroke="#000" stroke-width="0.5" textLength="47.9" lengthAdjust="spacingAndGlyphs">In PS</text>
<g fill="none" stroke="#fff" stroke-width="1.9"><circle cx="162.3" cy="98.7" r="8.9"/><path d="M157.8,94.2 L166.8,103.2 M166.8,94.2 L157.8,103.2"/></g>
<g fill="none" stroke="#fff" stroke-width="3.1"><circle cx="358.1" cy="94.1" r="14"/><path d="M351.3,87.3 L364.9,100.9 M364.9,87.3 L351.3,100.9" stroke-width="2.9"/></g>
<g stroke="#fff" stroke-width="2" marker-end="url(#mw)">
<line x1="105.7" y1="296.8" x2="142" y2="296.8"/>
<line x1="219.3" y1="297.5" x2="183" y2="297.5"/>
<line x1="164.3" y1="240.7" x2="164.3" y2="277"/>
<line x1="161.4" y1="351.4" x2="161.4" y2="315.7"/>
<line x1="118.2" y1="254.3" x2="148.4" y2="281.6"/>
<line x1="206.8" y1="249.8" x2="179.1" y2="279.3"/>
<line x1="117.7" y1="341.8" x2="145.5" y2="313.4"/>
<line x1="205.7" y1="336.1" x2="176.1" y2="308.4"/>
</g>
<g stroke="#fff" stroke-width="2" marker-end="url(#mw)">
<line x1="318.4" y1="297.9" x2="345.7" y2="297.9"/>
<line x1="399.1" y1="297.9" x2="372.8" y2="297.9"/>
<line x1="360" y1="257.4" x2="360" y2="283.2"/>
<line x1="358.1" y1="335.7" x2="358.1" y2="309.9"/>
<line x1="326.4" y1="267" x2="349.9" y2="286"/>
<line x1="390.5" y1="264.1" x2="370.5" y2="285.1"/>
<line x1="326.4" y1="330" x2="347.4" y2="308.6"/>
<line x1="389" y1="326.1" x2="368" y2="306.5"/>
</g>
<rect x="462.2" y="35.7" width="8" height="123.3" fill="url(#cb)" stroke="#000" stroke-width="1.4"/>
<rect x="463.3" y="241.9" width="8" height="123.3" fill="url(#cb)" stroke="#000" stroke-width="1.4"/>
<rect x="470.5" y="36.2" width="3.6" height="1.6" fill="#000"/>
<rect x="470.5" y="96.7" width="3.6" height="1.6" fill="#000"/>
<rect x="470.5" y="157.2" width="3.6" height="1.6" fill="#000"/>
<rect x="471.8" y="242.39999999999998" width="3.6" height="1.6" fill="#000"/>
<rect x="471.8" y="302.9" width="3.6" height="1.6" fill="#000"/>
<rect x="471.8" y="363.7" width="3.6" height="1.6" fill="#000"/>
<text x="476.3" y="42.5" font-size="15.3" text-anchor="start" font-weight="normal" fill="#000" >2</text>
<text x="476.3" y="103.0" font-size="15.3" text-anchor="start" font-weight="normal" fill="#000" >1</text>
<text x="476.3" y="163.5" font-size="15.3" text-anchor="start" font-weight="normal" fill="#000" >0</text>
<text x="483.8" y="247.9" font-size="15.3" text-anchor="start" font-weight="normal" fill="#000" >0</text>
<text x="477.8" y="308.9" font-size="15.3" text-anchor="start" font-weight="normal" fill="#000" >-100</text>
<text x="477.8" y="369.2" font-size="15.3" text-anchor="start" font-weight="normal" fill="#000" >-200</text>
<text transform="translate(511.3,65.5) rotate(90) scale(0.89,1)" font-size="21.5" font-weight="bold" font-style="italic">F</text>
<text transform="translate(506.2,77.7) rotate(90) scale(0.89,1)" font-size="16" font-weight="bold">rp</text>
<text transform="translate(510.9,94.7) rotate(90) scale(1,1)" font-size="21.7" font-weight="bold">(pN)</text>
<text transform="translate(515.5,257.2) rotate(90) scale(0.89,1)" font-size="21.5" font-weight="bold" font-style="italic">F</text>
<text transform="translate(509.9,266.2) rotate(90) scale(0.89,1)" font-size="16" font-weight="bold">grad</text>
<text transform="translate(515.1,302.6) rotate(90) scale(1,1)" font-size="22.1" font-weight="bold">(fN)</text>
<text x="3.1" y="470.3" font-size="27.6" font-weight="bold" fill="#000" stroke="#000" stroke-width="0.5" textLength="14.6" lengthAdjust="spacingAndGlyphs">e</text>
<rect x="7.4" y="527.1" width="143.8" height="35.7" fill="#8db3e2"/>
<rect x="7.4" y="562.3" width="143.8" height="30.4" fill="#7f7f7f"/>
<rect x="208.4" y="527.4" width="144.7" height="35.7" fill="#8db3e2"/>
<rect x="208.4" y="562.6" width="144.7" height="30.2" fill="#7f7f7f"/>
<rect x="404.3" y="528.1" width="144.5" height="36.1" fill="#8db3e2"/>
<rect x="404.3" y="563.7" width="144.5" height="29.1" fill="#7f7f7f"/>
<text x="12.9" y="553.9" font-size="18.8" font-weight="bold" fill="#000" stroke="#000" stroke-width="0.5" textLength="20.2" lengthAdjust="spacingAndGlyphs">PS</text>
<text x="13.3" y="585.6" font-size="18.8" font-weight="bold" fill="#000" stroke="#000" stroke-width="0.5" textLength="15.3" lengthAdjust="spacingAndGlyphs">Si</text>
<path d="M156.7,513.0 H192.2 V508.4 L201.1,517.4 L192.2,526.4 V521.8 H156.7 z" fill="#5d4780"/>
<path d="M359.3,510.0 H395.5 V505.4 L404.4,514.4 L395.5,523.4 V518.8 H359.3 z" fill="#5d4780"/>
<text x="147.6" y="500.1" font-size="19.1" font-weight="bold" fill="#000" stroke="#000" stroke-width="0.5" textLength="67.2" lengthAdjust="spacingAndGlyphs">Melting</text>
<text x="349.2" y="500.5" font-size="19.1" font-weight="bold" fill="#000" stroke="#000" stroke-width="0.5" textLength="63.2" lengthAdjust="spacingAndGlyphs">Etching</text>
<clipPath id="cpps3"><rect x="404.3" y="528.1" width="144.5" height="35.6"/></clipPath>
<g clip-path="url(#cpps3)" fill="#fff"><circle cx="471.3" cy="546" r="15.5"/><path d="M467,527.5 L474.6,527.5 L474.4,533.5 L461,536.5 z"/></g>
<circle cx="69.5" cy="513.1" r="13.9" fill="url(#ball)"/>
<g fill="none" stroke="#ff7878" opacity="0.5" stroke-width="10" stroke-linecap="round" filter="url(#blur)"><path d="M69.8,457.2 C70.5,458.2 72.8,460.9 74.2,463.2 C75.7,465.4 77.2,467.8 78.5,470.6 C79.8,473.5 81.0,477.2 81.8,480.5 C82.6,483.8 83.1,486.8 83.5,490.2 C83.9,493.7 84.4,497.4 84.4,501.0 C84.4,504.6 84.1,508.2 83.5,512.1 C82.9,515.9 82.1,520.5 80.7,524.2 C79.3,527.8 78.0,530.2 75.3,534.0 C72.6,537.8 66.1,544.7 64.3,546.8"/><path d="M96.7,454.2 L96.7,546.8"/><path d="M121.2,457.2 C120.5,458.2 118.2,460.9 116.8,463.2 C115.3,465.4 113.8,467.8 112.5,470.6 C111.2,473.5 110.0,477.2 109.2,480.5 C108.4,483.8 107.9,486.8 107.5,490.2 C107.1,493.7 106.6,497.4 106.6,501.0 C106.6,504.6 106.9,508.2 107.5,512.1 C108.1,515.9 108.9,520.5 110.3,524.2 C111.7,527.8 113.0,530.2 115.7,534.0 C118.4,537.8 124.9,544.7 126.7,546.8"/></g>
<g fill="none" stroke="#7d2328" stroke-width="1.9" stroke-dasharray="6.8 4.4" marker-end="url(#mr)"><path d="M69.8,457.2 C70.5,458.2 72.8,460.9 74.2,463.2 C75.7,465.4 77.2,467.8 78.5,470.6 C79.8,473.5 81.0,477.2 81.8,480.5 C82.6,483.8 83.1,486.8 83.5,490.2 C83.9,493.7 84.4,497.4 84.4,501.0 C84.4,504.6 84.1,508.2 83.5,512.1 C82.9,515.9 82.1,520.5 80.7,524.2 C79.3,527.8 78.0,530.2 75.3,534.0 C72.6,537.8 66.1,544.7 64.3,546.8"/><path d="M96.7,454.2 L96.7,546.8"/><path d="M121.2,457.2 C120.5,458.2 118.2,460.9 116.8,463.2 C115.3,465.4 113.8,467.8 112.5,470.6 C111.2,473.5 110.0,477.2 109.2,480.5 C108.4,483.8 107.9,486.8 107.5,490.2 C107.1,493.7 106.6,497.4 106.6,501.0 C106.6,504.6 106.9,508.2 107.5,512.1 C108.1,515.9 108.9,520.5 110.3,524.2 C111.7,527.8 113.0,530.2 115.7,534.0 C118.4,537.8 124.9,544.7 126.7,546.8"/></g>
<g fill="none" stroke="#000" stroke-width="2.3" marker-end="url(#mk)"><path d="M68.6,512.8 H90.4"/><path d="M69.6,512.4 L66,526.8"/></g>
<text x="92.5" y="518.7" font-size="18" font-weight="bold" stroke="#000" stroke-width="0.4" textLength="8.0" lengthAdjust="spacingAndGlyphs">F</text>
<text x="101.2" y="522.7" font-size="13.5" font-weight="bold" stroke="#000" stroke-width="0.3" textLength="24.6" lengthAdjust="spacingAndGlyphs">grad</text>
<text x="46" y="532.3" font-size="18" font-weight="bold" stroke="#000" stroke-width="0.4" textLength="8.2" lengthAdjust="spacingAndGlyphs">F</text>
<text x="54.900000000000006" y="536.3" font-size="13.5" font-weight="bold" stroke="#000" stroke-width="0.3" textLength="11.6" lengthAdjust="spacingAndGlyphs">rp</text>
<circle cx="272.2" cy="545.2" r="14.4" fill="url(#ball)"/>
<g fill="none" stroke="#ff7878" opacity="0.5" stroke-width="10" stroke-linecap="round" filter="url(#blur)"><path d="M264.6,452.6 C265.3,453.5 267.6,456.1 269.0,458.2 C270.4,460.2 272.0,462.4 273.3,465.1 C274.6,467.8 275.8,471.2 276.6,474.2 C277.4,477.3 277.9,480.1 278.3,483.3 C278.7,486.5 279.2,489.7 279.2,493.3 C279.2,496.9 278.9,500.9 278.3,504.9 C277.7,509.0 276.9,513.8 275.5,517.6 C274.1,521.5 272.8,524.0 270.1,528.0 C267.4,531.9 260.9,539.2 259.1,541.4"/><path d="M292.6,449.6 L292.6,541.4"/><path d="M320.0,452.6 C319.3,453.5 317.1,456.1 315.6,458.2 C314.2,460.2 312.6,462.4 311.3,465.1 C310.0,467.8 308.8,471.2 308.0,474.2 C307.2,477.3 306.7,480.1 306.3,483.3 C305.9,486.5 305.4,489.7 305.4,493.3 C305.4,496.9 305.7,500.9 306.3,504.9 C306.9,509.0 307.7,513.8 309.1,517.6 C310.5,521.5 311.8,524.0 314.5,528.0 C317.2,531.9 323.7,539.2 325.5,541.4"/></g>
<g fill="none" stroke="#7d2328" stroke-width="1.9" stroke-dasharray="6.8 4.4" marker-end="url(#mr)"><path d="M264.6,452.6 C265.3,453.5 267.6,456.1 269.0,458.2 C270.4,460.2 272.0,462.4 273.3,465.1 C274.6,467.8 275.8,471.2 276.6,474.2 C277.4,477.3 277.9,480.1 278.3,483.3 C278.7,486.5 279.2,489.7 279.2,493.3 C279.2,496.9 278.9,500.9 278.3,504.9 C277.7,509.0 276.9,513.8 275.5,517.6 C274.1,521.5 272.8,524.0 270.1,528.0 C267.4,531.9 260.9,539.2 259.1,541.4"/><path d="M292.6,449.6 L292.6,541.4"/><path d="M320.0,452.6 C319.3,453.5 317.1,456.1 315.6,458.2 C314.2,460.2 312.6,462.4 311.3,465.1 C310.0,467.8 308.8,471.2 308.0,474.2 C307.2,477.3 306.7,480.1 306.3,483.3 C305.9,486.5 305.4,489.7 305.4,493.3 C305.4,496.9 305.7,500.9 306.3,504.9 C306.9,509.0 307.7,513.8 309.1,517.6 C310.5,521.5 311.8,524.0 314.5,528.0 C317.2,531.9 323.7,539.2 325.5,541.4"/></g>
<g fill="none" stroke="#000" stroke-width="2" marker-end="url(#mk)"><path d="M271.3,545.2 H258.2"/><path d="M271.3,545.2 H290.3"/><path d="M272.2,545.2 V569.8"/><path d="M270,545.2 L260.6,568"/></g>
<g fill="none" stroke="#000" stroke-width="1.4" stroke-dasharray="1.5 1.5"><path d="M259.2,548 V567"/><path d="M261.5,570 H271"/></g>
<text x="227" y="551" font-size="18" font-weight="bold" stroke="#000" stroke-width="0.4" textLength="8.0" lengthAdjust="spacingAndGlyphs">F</text>
<text x="235.7" y="555" font-size="13.5" font-weight="bold" stroke="#000" stroke-width="0.3" textLength="18.8" lengthAdjust="spacingAndGlyphs">rad</text>
<text x="291.8" y="556" font-size="18" font-weight="bold" stroke="#000" stroke-width="0.4" textLength="8.0" lengthAdjust="spacingAndGlyphs">F</text>
<text x="300.5" y="560" font-size="13.5" font-weight="bold" stroke="#000" stroke-width="0.3" textLength="24.8" lengthAdjust="spacingAndGlyphs">grad</text>
<text x="248.6" y="582.1" font-size="18" font-weight="bold" stroke="#000" stroke-width="0.4" textLength="8.0" lengthAdjust="spacingAndGlyphs">F</text>
<text x="257.3" y="585.3000000000001" font-size="13.5" font-weight="bold" stroke="#000" stroke-width="0.3" textLength="11.8" lengthAdjust="spacingAndGlyphs">rp</text>
<text x="277.4" y="577.9" font-size="18" font-weight="bold" stroke="#000" stroke-width="0.4" textLength="8.0" lengthAdjust="spacingAndGlyphs">F</text>
<text x="286.09999999999997" y="581.9" font-size="13.5" font-weight="bold" stroke="#000" stroke-width="0.3" textLength="12.4" lengthAdjust="spacingAndGlyphs">ax</text>
<circle cx="480.8" cy="546.8" r="14.7" fill="url(#ball)"/>
<g fill="none" stroke="#ff7878" opacity="0.5" stroke-width="10" stroke-linecap="round" filter="url(#blur)"><path d="M456.5,451.5 C457.2,452.4 459.5,455.0 460.9,457.1 C462.4,459.2 463.9,461.4 465.2,464.1 C466.5,466.8 467.7,470.2 468.5,473.3 C469.3,476.4 469.8,479.2 470.2,482.4 C470.6,485.6 471.1,488.9 471.1,492.5 C471.1,496.1 470.8,500.2 470.2,504.3 C469.6,508.4 468.8,513.2 467.4,517.1 C466.0,521.0 464.7,523.6 462.0,527.6 C459.3,531.6 452.8,538.9 451.0,541.2"/><path d="M485.1,448 L485.1,542.5"/><path d="M513.3,451.5 C512.6,452.4 510.4,455.0 508.9,457.1 C507.5,459.2 505.9,461.4 504.6,464.1 C503.3,466.8 502.1,470.2 501.3,473.3 C500.5,476.4 500.0,479.2 499.6,482.4 C499.2,485.6 498.7,488.9 498.7,492.5 C498.7,496.1 499.0,500.2 499.6,504.3 C500.2,508.4 501.0,513.2 502.4,517.1 C503.8,521.0 505.1,523.6 507.8,527.6 C510.5,531.6 517.0,538.9 518.8,541.2"/></g>
<g fill="none" stroke="#7d2328" stroke-width="1.9" stroke-dasharray="6.8 4.4" marker-end="url(#mr)"><path d="M456.5,451.5 C457.2,452.4 459.5,455.0 460.9,457.1 C462.4,459.2 463.9,461.4 465.2,464.1 C466.5,466.8 467.7,470.2 468.5,473.3 C469.3,476.4 469.8,479.2 470.2,482.4 C470.6,485.6 471.1,488.9 471.1,492.5 C471.1,496.1 470.8,500.2 470.2,504.3 C469.6,508.4 468.8,513.2 467.4,517.1 C466.0,521.0 464.7,523.6 462.0,527.6 C459.3,531.6 452.8,538.9 451.0,541.2"/><path d="M485.1,448 L485.1,542.5"/><path d="M513.3,451.5 C512.6,452.4 510.4,455.0 508.9,457.1 C507.5,459.2 505.9,461.4 504.6,464.1 C503.3,466.8 502.1,470.2 501.3,473.3 C500.5,476.4 500.0,479.2 499.6,482.4 C499.2,485.6 498.7,488.9 498.7,492.5 C498.7,496.1 499.0,500.2 499.6,504.3 C500.2,508.4 501.0,513.2 502.4,517.1 C503.8,521.0 505.1,523.6 507.8,527.6 C510.5,531.6 517.0,538.9 518.8,541.2"/></g>
</svg>
</body></html>
